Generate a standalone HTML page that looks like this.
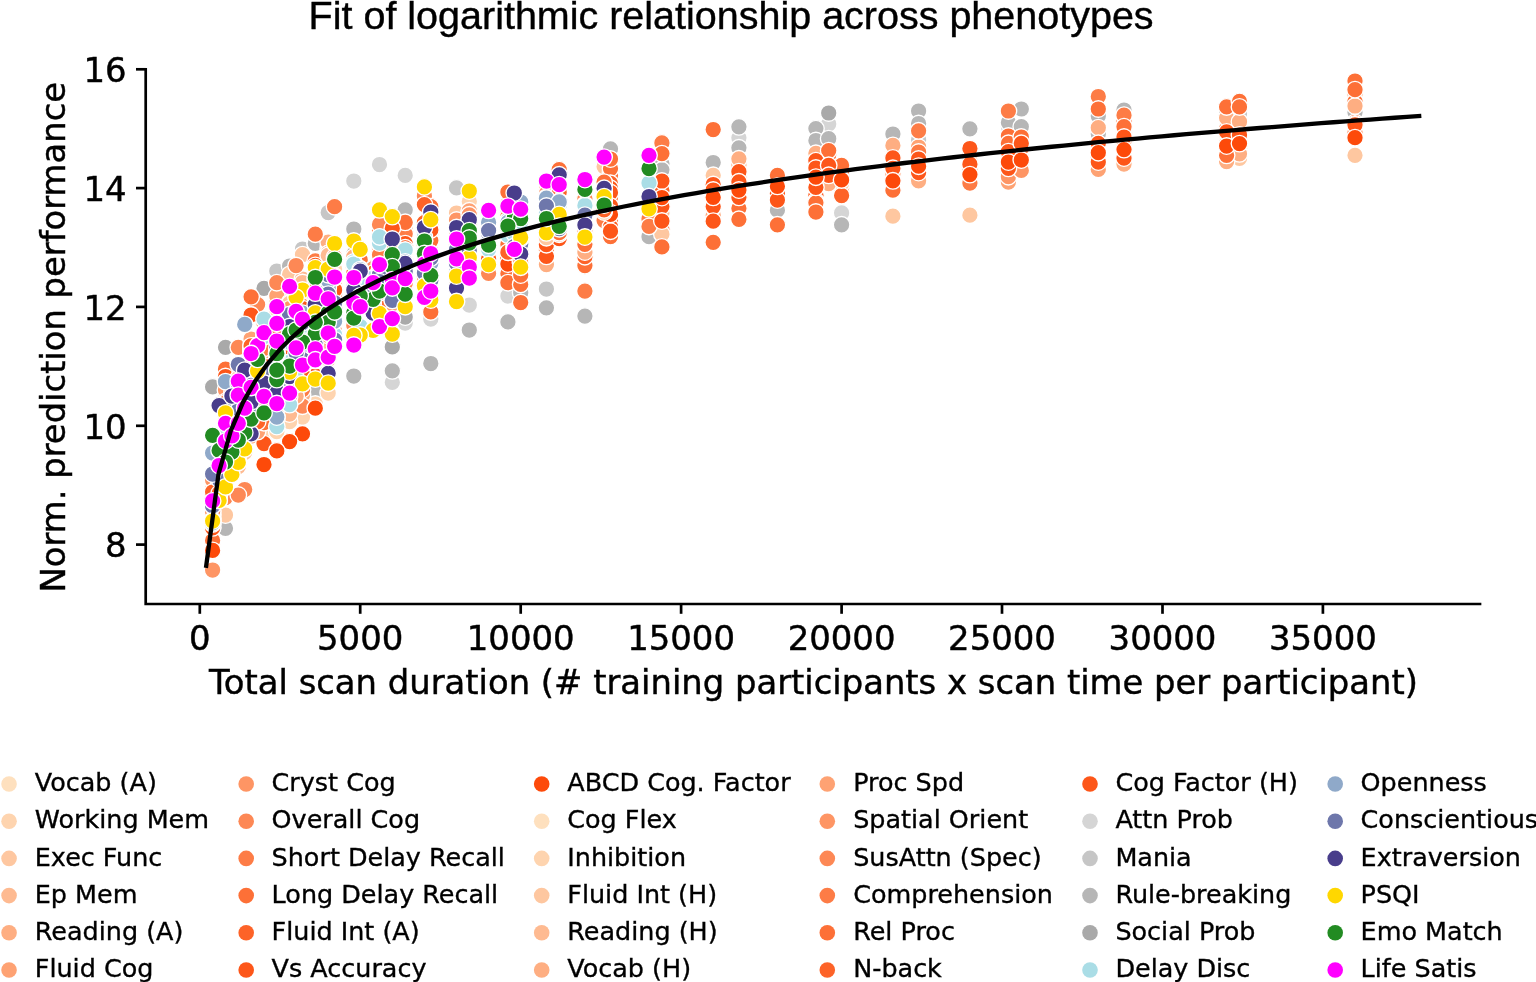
<!DOCTYPE html>
<html lang="en"><head><meta charset="utf-8"><title>Fit of logarithmic relationship across phenotypes</title>
<style>html,body{margin:0;padding:0;background:#fff;overflow:hidden}svg{display:block}</style></head>
<body>
<svg width="1536" height="982" viewBox="0 0 1536 982">
<rect width="1536" height="982" fill="#fff"/>
<g stroke="#fff" stroke-width="1.35">
<circle cx="212.6" cy="526.5" r="8.3" fill="#d5d5d5"/>
<circle cx="225.5" cy="456.8" r="8.3" fill="#d5d5d5"/>
<circle cx="238.3" cy="430.2" r="8.3" fill="#d5d5d5"/>
<circle cx="251.1" cy="359.2" r="8.3" fill="#d5d5d5"/>
<circle cx="264.0" cy="353.4" r="8.3" fill="#d5d5d5"/>
<circle cx="276.8" cy="390.7" r="8.3" fill="#d5d5d5"/>
<circle cx="289.6" cy="391.8" r="8.3" fill="#d5d5d5"/>
<circle cx="302.5" cy="393.1" r="8.3" fill="#d5d5d5"/>
<circle cx="315.3" cy="355.2" r="8.3" fill="#d5d5d5"/>
<circle cx="328.2" cy="284.2" r="8.3" fill="#d5d5d5"/>
<circle cx="225.5" cy="453.5" r="8.3" fill="#d5d5d5"/>
<circle cx="251.1" cy="347.1" r="8.3" fill="#d5d5d5"/>
<circle cx="276.8" cy="378.1" r="8.3" fill="#d5d5d5"/>
<circle cx="302.5" cy="345.2" r="8.3" fill="#d5d5d5"/>
<circle cx="328.2" cy="248.4" r="8.3" fill="#d5d5d5"/>
<circle cx="353.8" cy="286.0" r="8.3" fill="#d5d5d5"/>
<circle cx="379.5" cy="273.4" r="8.3" fill="#d5d5d5"/>
<circle cx="405.2" cy="269.5" r="8.3" fill="#d5d5d5"/>
<circle cx="430.8" cy="275.0" r="8.3" fill="#d5d5d5"/>
<circle cx="456.5" cy="279.2" r="8.3" fill="#d5d5d5"/>
<circle cx="238.3" cy="405.1" r="8.3" fill="#d5d5d5"/>
<circle cx="276.8" cy="328.7" r="8.3" fill="#d5d5d5"/>
<circle cx="315.3" cy="355.5" r="8.3" fill="#d5d5d5"/>
<circle cx="353.8" cy="317.6" r="8.3" fill="#d5d5d5"/>
<circle cx="392.3" cy="284.4" r="8.3" fill="#d5d5d5"/>
<circle cx="430.8" cy="271.7" r="8.3" fill="#d5d5d5"/>
<circle cx="469.3" cy="233.1" r="8.3" fill="#d5d5d5"/>
<circle cx="507.9" cy="251.3" r="8.3" fill="#d5d5d5"/>
<circle cx="546.4" cy="199.6" r="8.3" fill="#d5d5d5"/>
<circle cx="584.9" cy="200.9" r="8.3" fill="#d5d5d5"/>
<circle cx="251.1" cy="363.6" r="8.3" fill="#d5d5d5"/>
<circle cx="302.5" cy="332.7" r="8.3" fill="#d5d5d5"/>
<circle cx="353.8" cy="258.4" r="8.3" fill="#d5d5d5"/>
<circle cx="405.2" cy="260.6" r="8.3" fill="#d5d5d5"/>
<circle cx="456.5" cy="250.8" r="8.3" fill="#d5d5d5"/>
<circle cx="507.9" cy="236.3" r="8.3" fill="#d5d5d5"/>
<circle cx="559.2" cy="219.9" r="8.3" fill="#d5d5d5"/>
<circle cx="610.5" cy="222.7" r="8.3" fill="#d5d5d5"/>
<circle cx="264.0" cy="344.3" r="8.3" fill="#d5d5d5"/>
<circle cx="328.2" cy="329.0" r="8.3" fill="#d5d5d5"/>
<circle cx="392.3" cy="274.7" r="8.3" fill="#d5d5d5"/>
<circle cx="456.5" cy="230.6" r="8.3" fill="#d5d5d5"/>
<circle cx="520.7" cy="227.7" r="8.3" fill="#d5d5d5"/>
<circle cx="584.9" cy="223.6" r="8.3" fill="#d5d5d5"/>
<circle cx="276.8" cy="353.4" r="8.3" fill="#d5d5d5"/>
<circle cx="353.8" cy="292.8" r="8.3" fill="#d5d5d5"/>
<circle cx="430.8" cy="233.6" r="8.3" fill="#d5d5d5"/>
<circle cx="507.9" cy="233.0" r="8.3" fill="#d5d5d5"/>
<circle cx="584.9" cy="242.0" r="8.3" fill="#d5d5d5"/>
<circle cx="289.6" cy="384.8" r="8.3" fill="#d5d5d5"/>
<circle cx="379.5" cy="238.8" r="8.3" fill="#d5d5d5"/>
<circle cx="469.3" cy="229.8" r="8.3" fill="#d5d5d5"/>
<circle cx="559.2" cy="213.7" r="8.3" fill="#d5d5d5"/>
<circle cx="302.5" cy="341.5" r="8.3" fill="#d5d5d5"/>
<circle cx="405.2" cy="290.9" r="8.3" fill="#d5d5d5"/>
<circle cx="507.9" cy="234.2" r="8.3" fill="#d5d5d5"/>
<circle cx="610.5" cy="199.5" r="8.3" fill="#d5d5d5"/>
<circle cx="315.3" cy="290.2" r="8.3" fill="#d5d5d5"/>
<circle cx="430.8" cy="244.2" r="8.3" fill="#d5d5d5"/>
<circle cx="546.4" cy="226.1" r="8.3" fill="#d5d5d5"/>
<circle cx="405.2" cy="323.0" r="8.3" fill="#d5d5d5"/>
<circle cx="469.3" cy="305.0" r="8.3" fill="#d5d5d5"/>
<circle cx="507.9" cy="296.0" r="8.3" fill="#d5d5d5"/>
<circle cx="430.8" cy="319.0" r="8.3" fill="#d5d5d5"/>
<circle cx="379.5" cy="164.5" r="8.3" fill="#d5d5d5"/>
<circle cx="405.2" cy="175.4" r="8.3" fill="#d5d5d5"/>
<circle cx="353.8" cy="181.0" r="8.3" fill="#d5d5d5"/>
<circle cx="392.3" cy="382.3" r="8.3" fill="#d5d5d5"/>
<circle cx="738.9" cy="137.8" r="8.3" fill="#d5d5d5"/>
<circle cx="828.7" cy="124.0" r="8.3" fill="#d5d5d5"/>
<circle cx="841.6" cy="212.9" r="8.3" fill="#d5d5d5"/>
<circle cx="1008.4" cy="126.7" r="8.3" fill="#d5d5d5"/>
<circle cx="212.6" cy="525.2" r="8.3" fill="#c6c6c6"/>
<circle cx="225.5" cy="468.9" r="8.3" fill="#c6c6c6"/>
<circle cx="238.3" cy="388.9" r="8.3" fill="#c6c6c6"/>
<circle cx="251.1" cy="388.0" r="8.3" fill="#c6c6c6"/>
<circle cx="264.0" cy="376.4" r="8.3" fill="#c6c6c6"/>
<circle cx="276.8" cy="420.1" r="8.3" fill="#c6c6c6"/>
<circle cx="289.6" cy="373.5" r="8.3" fill="#c6c6c6"/>
<circle cx="302.5" cy="295.2" r="8.3" fill="#c6c6c6"/>
<circle cx="315.3" cy="325.8" r="8.3" fill="#c6c6c6"/>
<circle cx="328.2" cy="357.4" r="8.3" fill="#c6c6c6"/>
<circle cx="225.5" cy="445.6" r="8.3" fill="#c6c6c6"/>
<circle cx="251.1" cy="366.3" r="8.3" fill="#c6c6c6"/>
<circle cx="276.8" cy="411.5" r="8.3" fill="#c6c6c6"/>
<circle cx="302.5" cy="330.5" r="8.3" fill="#c6c6c6"/>
<circle cx="328.2" cy="270.7" r="8.3" fill="#c6c6c6"/>
<circle cx="353.8" cy="294.1" r="8.3" fill="#c6c6c6"/>
<circle cx="379.5" cy="273.2" r="8.3" fill="#c6c6c6"/>
<circle cx="405.2" cy="276.4" r="8.3" fill="#c6c6c6"/>
<circle cx="430.8" cy="289.8" r="8.3" fill="#c6c6c6"/>
<circle cx="456.5" cy="239.0" r="8.3" fill="#c6c6c6"/>
<circle cx="238.3" cy="431.5" r="8.3" fill="#c6c6c6"/>
<circle cx="276.8" cy="325.5" r="8.3" fill="#c6c6c6"/>
<circle cx="315.3" cy="338.5" r="8.3" fill="#c6c6c6"/>
<circle cx="353.8" cy="280.1" r="8.3" fill="#c6c6c6"/>
<circle cx="392.3" cy="275.0" r="8.3" fill="#c6c6c6"/>
<circle cx="430.8" cy="238.8" r="8.3" fill="#c6c6c6"/>
<circle cx="469.3" cy="250.0" r="8.3" fill="#c6c6c6"/>
<circle cx="507.9" cy="226.9" r="8.3" fill="#c6c6c6"/>
<circle cx="546.4" cy="239.8" r="8.3" fill="#c6c6c6"/>
<circle cx="584.9" cy="188.8" r="8.3" fill="#c6c6c6"/>
<circle cx="251.1" cy="380.1" r="8.3" fill="#c6c6c6"/>
<circle cx="302.5" cy="368.6" r="8.3" fill="#c6c6c6"/>
<circle cx="353.8" cy="288.0" r="8.3" fill="#c6c6c6"/>
<circle cx="405.2" cy="247.5" r="8.3" fill="#c6c6c6"/>
<circle cx="456.5" cy="246.7" r="8.3" fill="#c6c6c6"/>
<circle cx="507.9" cy="243.0" r="8.3" fill="#c6c6c6"/>
<circle cx="559.2" cy="198.0" r="8.3" fill="#c6c6c6"/>
<circle cx="610.5" cy="189.0" r="8.3" fill="#c6c6c6"/>
<circle cx="264.0" cy="373.1" r="8.3" fill="#c6c6c6"/>
<circle cx="328.2" cy="302.7" r="8.3" fill="#c6c6c6"/>
<circle cx="392.3" cy="249.8" r="8.3" fill="#c6c6c6"/>
<circle cx="456.5" cy="255.4" r="8.3" fill="#c6c6c6"/>
<circle cx="520.7" cy="239.3" r="8.3" fill="#c6c6c6"/>
<circle cx="584.9" cy="224.5" r="8.3" fill="#c6c6c6"/>
<circle cx="276.8" cy="356.2" r="8.3" fill="#c6c6c6"/>
<circle cx="353.8" cy="266.5" r="8.3" fill="#c6c6c6"/>
<circle cx="430.8" cy="267.5" r="8.3" fill="#c6c6c6"/>
<circle cx="507.9" cy="240.8" r="8.3" fill="#c6c6c6"/>
<circle cx="584.9" cy="201.9" r="8.3" fill="#c6c6c6"/>
<circle cx="289.6" cy="403.7" r="8.3" fill="#c6c6c6"/>
<circle cx="379.5" cy="291.5" r="8.3" fill="#c6c6c6"/>
<circle cx="469.3" cy="247.5" r="8.3" fill="#c6c6c6"/>
<circle cx="559.2" cy="229.5" r="8.3" fill="#c6c6c6"/>
<circle cx="302.5" cy="288.2" r="8.3" fill="#c6c6c6"/>
<circle cx="405.2" cy="284.3" r="8.3" fill="#c6c6c6"/>
<circle cx="507.9" cy="245.1" r="8.3" fill="#c6c6c6"/>
<circle cx="610.5" cy="213.7" r="8.3" fill="#c6c6c6"/>
<circle cx="315.3" cy="304.2" r="8.3" fill="#c6c6c6"/>
<circle cx="430.8" cy="246.4" r="8.3" fill="#c6c6c6"/>
<circle cx="546.4" cy="232.4" r="8.3" fill="#c6c6c6"/>
<circle cx="276.8" cy="271.0" r="8.3" fill="#c6c6c6"/>
<circle cx="456.5" cy="187.9" r="8.3" fill="#c6c6c6"/>
<circle cx="546.4" cy="289.0" r="8.3" fill="#c6c6c6"/>
<circle cx="328.2" cy="212.5" r="8.3" fill="#c6c6c6"/>
<circle cx="302.5" cy="249.0" r="8.3" fill="#c6c6c6"/>
<circle cx="918.6" cy="140.0" r="8.3" fill="#c6c6c6"/>
<circle cx="1239.5" cy="114.0" r="8.3" fill="#c6c6c6"/>
<circle cx="212.6" cy="516.2" r="8.3" fill="#b6b6b6"/>
<circle cx="225.5" cy="428.1" r="8.3" fill="#b6b6b6"/>
<circle cx="238.3" cy="426.6" r="8.3" fill="#b6b6b6"/>
<circle cx="251.1" cy="433.5" r="8.3" fill="#b6b6b6"/>
<circle cx="264.0" cy="342.7" r="8.3" fill="#b6b6b6"/>
<circle cx="276.8" cy="333.4" r="8.3" fill="#b6b6b6"/>
<circle cx="289.6" cy="355.0" r="8.3" fill="#b6b6b6"/>
<circle cx="302.5" cy="338.7" r="8.3" fill="#b6b6b6"/>
<circle cx="315.3" cy="332.5" r="8.3" fill="#b6b6b6"/>
<circle cx="328.2" cy="357.2" r="8.3" fill="#b6b6b6"/>
<circle cx="225.5" cy="395.5" r="8.3" fill="#b6b6b6"/>
<circle cx="251.1" cy="421.5" r="8.3" fill="#b6b6b6"/>
<circle cx="276.8" cy="335.1" r="8.3" fill="#b6b6b6"/>
<circle cx="302.5" cy="368.9" r="8.3" fill="#b6b6b6"/>
<circle cx="328.2" cy="266.9" r="8.3" fill="#b6b6b6"/>
<circle cx="353.8" cy="322.6" r="8.3" fill="#b6b6b6"/>
<circle cx="379.5" cy="251.2" r="8.3" fill="#b6b6b6"/>
<circle cx="405.2" cy="281.4" r="8.3" fill="#b6b6b6"/>
<circle cx="430.8" cy="273.6" r="8.3" fill="#b6b6b6"/>
<circle cx="456.5" cy="229.8" r="8.3" fill="#b6b6b6"/>
<circle cx="238.3" cy="381.0" r="8.3" fill="#b6b6b6"/>
<circle cx="276.8" cy="354.4" r="8.3" fill="#b6b6b6"/>
<circle cx="315.3" cy="313.0" r="8.3" fill="#b6b6b6"/>
<circle cx="353.8" cy="290.9" r="8.3" fill="#b6b6b6"/>
<circle cx="392.3" cy="300.2" r="8.3" fill="#b6b6b6"/>
<circle cx="430.8" cy="233.7" r="8.3" fill="#b6b6b6"/>
<circle cx="469.3" cy="237.1" r="8.3" fill="#b6b6b6"/>
<circle cx="507.9" cy="262.4" r="8.3" fill="#b6b6b6"/>
<circle cx="546.4" cy="229.9" r="8.3" fill="#b6b6b6"/>
<circle cx="584.9" cy="200.9" r="8.3" fill="#b6b6b6"/>
<circle cx="251.1" cy="412.2" r="8.3" fill="#b6b6b6"/>
<circle cx="302.5" cy="364.4" r="8.3" fill="#b6b6b6"/>
<circle cx="353.8" cy="275.9" r="8.3" fill="#b6b6b6"/>
<circle cx="405.2" cy="261.7" r="8.3" fill="#b6b6b6"/>
<circle cx="456.5" cy="248.7" r="8.3" fill="#b6b6b6"/>
<circle cx="507.9" cy="216.5" r="8.3" fill="#b6b6b6"/>
<circle cx="559.2" cy="199.4" r="8.3" fill="#b6b6b6"/>
<circle cx="610.5" cy="188.0" r="8.3" fill="#b6b6b6"/>
<circle cx="264.0" cy="380.6" r="8.3" fill="#b6b6b6"/>
<circle cx="328.2" cy="345.6" r="8.3" fill="#b6b6b6"/>
<circle cx="392.3" cy="234.0" r="8.3" fill="#b6b6b6"/>
<circle cx="456.5" cy="285.6" r="8.3" fill="#b6b6b6"/>
<circle cx="520.7" cy="246.5" r="8.3" fill="#b6b6b6"/>
<circle cx="584.9" cy="266.6" r="8.3" fill="#b6b6b6"/>
<circle cx="276.8" cy="361.6" r="8.3" fill="#b6b6b6"/>
<circle cx="353.8" cy="313.2" r="8.3" fill="#b6b6b6"/>
<circle cx="430.8" cy="255.5" r="8.3" fill="#b6b6b6"/>
<circle cx="507.9" cy="242.7" r="8.3" fill="#b6b6b6"/>
<circle cx="584.9" cy="241.7" r="8.3" fill="#b6b6b6"/>
<circle cx="289.6" cy="297.3" r="8.3" fill="#b6b6b6"/>
<circle cx="379.5" cy="237.7" r="8.3" fill="#b6b6b6"/>
<circle cx="469.3" cy="259.1" r="8.3" fill="#b6b6b6"/>
<circle cx="559.2" cy="208.5" r="8.3" fill="#b6b6b6"/>
<circle cx="302.5" cy="320.1" r="8.3" fill="#b6b6b6"/>
<circle cx="405.2" cy="279.0" r="8.3" fill="#b6b6b6"/>
<circle cx="507.9" cy="235.9" r="8.3" fill="#b6b6b6"/>
<circle cx="610.5" cy="186.3" r="8.3" fill="#b6b6b6"/>
<circle cx="315.3" cy="313.8" r="8.3" fill="#b6b6b6"/>
<circle cx="430.8" cy="250.8" r="8.3" fill="#b6b6b6"/>
<circle cx="546.4" cy="228.3" r="8.3" fill="#b6b6b6"/>
<circle cx="353.8" cy="376.0" r="8.3" fill="#b6b6b6"/>
<circle cx="315.3" cy="392.0" r="8.3" fill="#b6b6b6"/>
<circle cx="315.3" cy="244.2" r="8.3" fill="#b6b6b6"/>
<circle cx="289.6" cy="266.0" r="8.3" fill="#b6b6b6"/>
<circle cx="469.3" cy="330.0" r="8.3" fill="#b6b6b6"/>
<circle cx="507.9" cy="321.9" r="8.3" fill="#b6b6b6"/>
<circle cx="405.2" cy="209.8" r="8.3" fill="#b6b6b6"/>
<circle cx="353.8" cy="229.0" r="8.3" fill="#b6b6b6"/>
<circle cx="610.5" cy="148.8" r="8.3" fill="#b6b6b6"/>
<circle cx="661.9" cy="163.8" r="8.3" fill="#b6b6b6"/>
<circle cx="661.9" cy="169.8" r="8.3" fill="#b6b6b6"/>
<circle cx="546.4" cy="307.8" r="8.3" fill="#b6b6b6"/>
<circle cx="584.9" cy="316.1" r="8.3" fill="#b6b6b6"/>
<circle cx="649.0" cy="236.7" r="8.3" fill="#b6b6b6"/>
<circle cx="520.7" cy="292.7" r="8.3" fill="#b6b6b6"/>
<circle cx="315.3" cy="243.3" r="8.3" fill="#b6b6b6"/>
<circle cx="225.5" cy="528.3" r="8.3" fill="#b6b6b6"/>
<circle cx="392.3" cy="370.8" r="8.3" fill="#b6b6b6"/>
<circle cx="430.8" cy="363.5" r="8.3" fill="#b6b6b6"/>
<circle cx="713.2" cy="162.5" r="8.3" fill="#b6b6b6"/>
<circle cx="738.9" cy="126.8" r="8.3" fill="#b6b6b6"/>
<circle cx="738.9" cy="147.8" r="8.3" fill="#b6b6b6"/>
<circle cx="777.4" cy="210.2" r="8.3" fill="#b6b6b6"/>
<circle cx="815.9" cy="128.6" r="8.3" fill="#b6b6b6"/>
<circle cx="815.9" cy="140.5" r="8.3" fill="#b6b6b6"/>
<circle cx="828.7" cy="138.7" r="8.3" fill="#b6b6b6"/>
<circle cx="841.6" cy="224.8" r="8.3" fill="#b6b6b6"/>
<circle cx="892.9" cy="134.0" r="8.3" fill="#b6b6b6"/>
<circle cx="918.6" cy="111.0" r="8.3" fill="#b6b6b6"/>
<circle cx="918.6" cy="123.5" r="8.3" fill="#b6b6b6"/>
<circle cx="969.9" cy="128.8" r="8.3" fill="#b6b6b6"/>
<circle cx="1008.4" cy="122.5" r="8.3" fill="#b6b6b6"/>
<circle cx="1021.3" cy="109.0" r="8.3" fill="#b6b6b6"/>
<circle cx="1021.3" cy="126.7" r="8.3" fill="#b6b6b6"/>
<circle cx="1098.3" cy="116.0" r="8.3" fill="#b6b6b6"/>
<circle cx="1098.3" cy="134.0" r="8.3" fill="#b6b6b6"/>
<circle cx="1124.0" cy="110.0" r="8.3" fill="#b6b6b6"/>
<circle cx="1355.0" cy="112.3" r="8.3" fill="#b6b6b6"/>
<circle cx="1226.6" cy="112.0" r="8.3" fill="#b6b6b6"/>
<circle cx="212.6" cy="513.4" r="8.3" fill="#a9a9a9"/>
<circle cx="225.5" cy="466.0" r="8.3" fill="#a9a9a9"/>
<circle cx="238.3" cy="440.9" r="8.3" fill="#a9a9a9"/>
<circle cx="251.1" cy="377.4" r="8.3" fill="#a9a9a9"/>
<circle cx="264.0" cy="388.5" r="8.3" fill="#a9a9a9"/>
<circle cx="276.8" cy="390.9" r="8.3" fill="#a9a9a9"/>
<circle cx="289.6" cy="353.2" r="8.3" fill="#a9a9a9"/>
<circle cx="302.5" cy="324.8" r="8.3" fill="#a9a9a9"/>
<circle cx="315.3" cy="349.4" r="8.3" fill="#a9a9a9"/>
<circle cx="328.2" cy="321.9" r="8.3" fill="#a9a9a9"/>
<circle cx="225.5" cy="455.6" r="8.3" fill="#a9a9a9"/>
<circle cx="251.1" cy="374.2" r="8.3" fill="#a9a9a9"/>
<circle cx="276.8" cy="364.6" r="8.3" fill="#a9a9a9"/>
<circle cx="302.5" cy="328.2" r="8.3" fill="#a9a9a9"/>
<circle cx="328.2" cy="324.3" r="8.3" fill="#a9a9a9"/>
<circle cx="353.8" cy="254.1" r="8.3" fill="#a9a9a9"/>
<circle cx="379.5" cy="234.3" r="8.3" fill="#a9a9a9"/>
<circle cx="405.2" cy="242.0" r="8.3" fill="#a9a9a9"/>
<circle cx="430.8" cy="235.5" r="8.3" fill="#a9a9a9"/>
<circle cx="456.5" cy="242.8" r="8.3" fill="#a9a9a9"/>
<circle cx="238.3" cy="408.0" r="8.3" fill="#a9a9a9"/>
<circle cx="276.8" cy="386.6" r="8.3" fill="#a9a9a9"/>
<circle cx="315.3" cy="280.4" r="8.3" fill="#a9a9a9"/>
<circle cx="353.8" cy="275.6" r="8.3" fill="#a9a9a9"/>
<circle cx="392.3" cy="293.3" r="8.3" fill="#a9a9a9"/>
<circle cx="430.8" cy="265.9" r="8.3" fill="#a9a9a9"/>
<circle cx="469.3" cy="245.4" r="8.3" fill="#a9a9a9"/>
<circle cx="507.9" cy="258.8" r="8.3" fill="#a9a9a9"/>
<circle cx="546.4" cy="239.8" r="8.3" fill="#a9a9a9"/>
<circle cx="584.9" cy="214.8" r="8.3" fill="#a9a9a9"/>
<circle cx="251.1" cy="369.2" r="8.3" fill="#a9a9a9"/>
<circle cx="302.5" cy="360.8" r="8.3" fill="#a9a9a9"/>
<circle cx="353.8" cy="286.3" r="8.3" fill="#a9a9a9"/>
<circle cx="405.2" cy="265.7" r="8.3" fill="#a9a9a9"/>
<circle cx="456.5" cy="241.0" r="8.3" fill="#a9a9a9"/>
<circle cx="507.9" cy="246.8" r="8.3" fill="#a9a9a9"/>
<circle cx="559.2" cy="208.1" r="8.3" fill="#a9a9a9"/>
<circle cx="610.5" cy="184.2" r="8.3" fill="#a9a9a9"/>
<circle cx="264.0" cy="370.8" r="8.3" fill="#a9a9a9"/>
<circle cx="328.2" cy="308.1" r="8.3" fill="#a9a9a9"/>
<circle cx="392.3" cy="292.1" r="8.3" fill="#a9a9a9"/>
<circle cx="456.5" cy="262.4" r="8.3" fill="#a9a9a9"/>
<circle cx="520.7" cy="272.7" r="8.3" fill="#a9a9a9"/>
<circle cx="584.9" cy="232.6" r="8.3" fill="#a9a9a9"/>
<circle cx="276.8" cy="388.9" r="8.3" fill="#a9a9a9"/>
<circle cx="353.8" cy="272.1" r="8.3" fill="#a9a9a9"/>
<circle cx="430.8" cy="262.6" r="8.3" fill="#a9a9a9"/>
<circle cx="507.9" cy="230.2" r="8.3" fill="#a9a9a9"/>
<circle cx="584.9" cy="222.8" r="8.3" fill="#a9a9a9"/>
<circle cx="289.6" cy="407.1" r="8.3" fill="#a9a9a9"/>
<circle cx="379.5" cy="280.6" r="8.3" fill="#a9a9a9"/>
<circle cx="469.3" cy="253.3" r="8.3" fill="#a9a9a9"/>
<circle cx="559.2" cy="204.3" r="8.3" fill="#a9a9a9"/>
<circle cx="302.5" cy="378.6" r="8.3" fill="#a9a9a9"/>
<circle cx="405.2" cy="257.7" r="8.3" fill="#a9a9a9"/>
<circle cx="507.9" cy="220.8" r="8.3" fill="#a9a9a9"/>
<circle cx="610.5" cy="211.2" r="8.3" fill="#a9a9a9"/>
<circle cx="315.3" cy="288.6" r="8.3" fill="#a9a9a9"/>
<circle cx="430.8" cy="266.7" r="8.3" fill="#a9a9a9"/>
<circle cx="546.4" cy="227.5" r="8.3" fill="#a9a9a9"/>
<circle cx="225.5" cy="347.3" r="8.3" fill="#a9a9a9"/>
<circle cx="212.6" cy="386.9" r="8.3" fill="#a9a9a9"/>
<circle cx="264.0" cy="288.4" r="8.3" fill="#a9a9a9"/>
<circle cx="405.2" cy="317.0" r="8.3" fill="#a9a9a9"/>
<circle cx="392.3" cy="346.9" r="8.3" fill="#a9a9a9"/>
<circle cx="828.7" cy="113.0" r="8.3" fill="#a9a9a9"/>
<circle cx="661.9" cy="229.9" r="8.3" fill="#fe9564"/>
<circle cx="661.9" cy="210.2" r="8.3" fill="#fd5619"/>
<circle cx="661.9" cy="218.4" r="8.3" fill="#fd7037"/>
<circle cx="661.9" cy="211.3" r="8.3" fill="#fec7a0"/>
<circle cx="661.9" cy="213.1" r="8.3" fill="#feba91"/>
<circle cx="661.9" cy="204.4" r="8.3" fill="#fd6328"/>
<circle cx="661.9" cy="203.8" r="8.3" fill="#fec7a0"/>
<circle cx="661.9" cy="190.4" r="8.3" fill="#fd6328"/>
<circle cx="661.9" cy="229.2" r="8.3" fill="#fd7c46"/>
<circle cx="713.2" cy="213.0" r="8.3" fill="#fd7037"/>
<circle cx="713.2" cy="213.3" r="8.3" fill="#feae82"/>
<circle cx="713.2" cy="215.2" r="8.3" fill="#fea273"/>
<circle cx="713.2" cy="207.1" r="8.3" fill="#fd6328"/>
<circle cx="713.2" cy="183.5" r="8.3" fill="#fd7c46"/>
<circle cx="713.2" cy="198.2" r="8.3" fill="#fea273"/>
<circle cx="713.2" cy="184.2" r="8.3" fill="#fd8855"/>
<circle cx="713.2" cy="191.7" r="8.3" fill="#fec7a0"/>
<circle cx="713.2" cy="187.1" r="8.3" fill="#fe9564"/>
<circle cx="738.9" cy="175.3" r="8.3" fill="#fd5619"/>
<circle cx="738.9" cy="169.1" r="8.3" fill="#fea273"/>
<circle cx="738.9" cy="178.7" r="8.3" fill="#fd7c46"/>
<circle cx="738.9" cy="175.7" r="8.3" fill="#fea273"/>
<circle cx="738.9" cy="173.9" r="8.3" fill="#fea273"/>
<circle cx="738.9" cy="198.1" r="8.3" fill="#fe9564"/>
<circle cx="738.9" cy="165.0" r="8.3" fill="#feae82"/>
<circle cx="738.9" cy="177.3" r="8.3" fill="#fea273"/>
<circle cx="738.9" cy="193.8" r="8.3" fill="#fd7037"/>
<circle cx="777.4" cy="183.6" r="8.3" fill="#fec7a0"/>
<circle cx="777.4" cy="185.3" r="8.3" fill="#fd8855"/>
<circle cx="777.4" cy="182.0" r="8.3" fill="#fec7a0"/>
<circle cx="777.4" cy="180.2" r="8.3" fill="#fec7a0"/>
<circle cx="777.4" cy="188.8" r="8.3" fill="#fea273"/>
<circle cx="815.9" cy="158.5" r="8.3" fill="#fd5619"/>
<circle cx="815.9" cy="160.7" r="8.3" fill="#fec7a0"/>
<circle cx="815.9" cy="156.7" r="8.3" fill="#fd6328"/>
<circle cx="815.9" cy="177.5" r="8.3" fill="#fe9564"/>
<circle cx="815.9" cy="172.4" r="8.3" fill="#fec7a0"/>
<circle cx="815.9" cy="195.6" r="8.3" fill="#fd5619"/>
<circle cx="815.9" cy="166.4" r="8.3" fill="#fd8855"/>
<circle cx="815.9" cy="203.0" r="8.3" fill="#fec7a0"/>
<circle cx="815.9" cy="201.2" r="8.3" fill="#feba91"/>
<circle cx="828.7" cy="176.3" r="8.3" fill="#fec7a0"/>
<circle cx="828.7" cy="170.0" r="8.3" fill="#feba91"/>
<circle cx="828.7" cy="173.2" r="8.3" fill="#fd7037"/>
<circle cx="828.7" cy="162.2" r="8.3" fill="#fec7a0"/>
<circle cx="828.7" cy="154.7" r="8.3" fill="#fd6328"/>
<circle cx="828.7" cy="178.9" r="8.3" fill="#fd6328"/>
<circle cx="828.7" cy="171.6" r="8.3" fill="#fec7a0"/>
<circle cx="828.7" cy="166.3" r="8.3" fill="#feba91"/>
<circle cx="828.7" cy="178.7" r="8.3" fill="#fd7c46"/>
<circle cx="841.6" cy="185.9" r="8.3" fill="#fea273"/>
<circle cx="841.6" cy="184.9" r="8.3" fill="#fe9564"/>
<circle cx="841.6" cy="177.2" r="8.3" fill="#fd8855"/>
<circle cx="841.6" cy="171.6" r="8.3" fill="#feba91"/>
<circle cx="841.6" cy="174.8" r="8.3" fill="#fd5619"/>
<circle cx="841.6" cy="178.8" r="8.3" fill="#fd5619"/>
<circle cx="841.6" cy="185.0" r="8.3" fill="#feae82"/>
<circle cx="841.6" cy="188.3" r="8.3" fill="#fea273"/>
<circle cx="841.6" cy="183.6" r="8.3" fill="#fec7a0"/>
<circle cx="892.9" cy="150.5" r="8.3" fill="#feae82"/>
<circle cx="892.9" cy="178.5" r="8.3" fill="#fd7037"/>
<circle cx="892.9" cy="178.0" r="8.3" fill="#feba91"/>
<circle cx="892.9" cy="153.9" r="8.3" fill="#fea273"/>
<circle cx="892.9" cy="175.5" r="8.3" fill="#fd6328"/>
<circle cx="892.9" cy="155.4" r="8.3" fill="#fe9564"/>
<circle cx="892.9" cy="173.8" r="8.3" fill="#fe9564"/>
<circle cx="892.9" cy="155.4" r="8.3" fill="#feae82"/>
<circle cx="892.9" cy="155.4" r="8.3" fill="#feba91"/>
<circle cx="918.6" cy="175.8" r="8.3" fill="#fd7c46"/>
<circle cx="918.6" cy="157.9" r="8.3" fill="#feae82"/>
<circle cx="918.6" cy="172.9" r="8.3" fill="#fd7037"/>
<circle cx="918.6" cy="170.8" r="8.3" fill="#feba91"/>
<circle cx="918.6" cy="156.2" r="8.3" fill="#fd5619"/>
<circle cx="969.9" cy="178.2" r="8.3" fill="#fe9564"/>
<circle cx="969.9" cy="161.8" r="8.3" fill="#feae82"/>
<circle cx="969.9" cy="163.0" r="8.3" fill="#fd7037"/>
<circle cx="969.9" cy="163.8" r="8.3" fill="#feba91"/>
<circle cx="969.9" cy="162.8" r="8.3" fill="#fd7037"/>
<circle cx="969.9" cy="152.2" r="8.3" fill="#feba91"/>
<circle cx="969.9" cy="176.2" r="8.3" fill="#feae82"/>
<circle cx="969.9" cy="160.8" r="8.3" fill="#fec7a0"/>
<circle cx="969.9" cy="168.8" r="8.3" fill="#fd7c46"/>
<circle cx="1008.4" cy="170.9" r="8.3" fill="#fec7a0"/>
<circle cx="1008.4" cy="165.8" r="8.3" fill="#fea273"/>
<circle cx="1008.4" cy="153.7" r="8.3" fill="#fea273"/>
<circle cx="1008.4" cy="142.0" r="8.3" fill="#feae82"/>
<circle cx="1008.4" cy="171.6" r="8.3" fill="#fd7037"/>
<circle cx="1008.4" cy="154.2" r="8.3" fill="#fec7a0"/>
<circle cx="1008.4" cy="164.6" r="8.3" fill="#fe9564"/>
<circle cx="1008.4" cy="159.0" r="8.3" fill="#feae82"/>
<circle cx="1008.4" cy="172.2" r="8.3" fill="#fd7037"/>
<circle cx="1021.3" cy="149.5" r="8.3" fill="#fd7037"/>
<circle cx="1021.3" cy="164.8" r="8.3" fill="#feae82"/>
<circle cx="1021.3" cy="162.4" r="8.3" fill="#fd6328"/>
<circle cx="1021.3" cy="146.0" r="8.3" fill="#fec7a0"/>
<circle cx="1021.3" cy="167.3" r="8.3" fill="#fea273"/>
<circle cx="1021.3" cy="156.2" r="8.3" fill="#fd8855"/>
<circle cx="1021.3" cy="152.2" r="8.3" fill="#feae82"/>
<circle cx="1021.3" cy="150.0" r="8.3" fill="#feba91"/>
<circle cx="1021.3" cy="148.6" r="8.3" fill="#fd8855"/>
<circle cx="1098.3" cy="163.5" r="8.3" fill="#fe9564"/>
<circle cx="1098.3" cy="157.6" r="8.3" fill="#fe9564"/>
<circle cx="1124.0" cy="139.6" r="8.3" fill="#feba91"/>
<circle cx="1124.0" cy="135.6" r="8.3" fill="#fd6328"/>
<circle cx="1124.0" cy="143.2" r="8.3" fill="#fd8855"/>
<circle cx="1124.0" cy="133.9" r="8.3" fill="#fd6328"/>
<circle cx="1124.0" cy="138.2" r="8.3" fill="#fd5619"/>
<circle cx="1124.0" cy="140.8" r="8.3" fill="#fe9564"/>
<circle cx="1124.0" cy="130.0" r="8.3" fill="#feae82"/>
<circle cx="1124.0" cy="127.5" r="8.3" fill="#fd7037"/>
<circle cx="1124.0" cy="121.0" r="8.3" fill="#fd7037"/>
<circle cx="1226.6" cy="134.0" r="8.3" fill="#feba91"/>
<circle cx="1226.6" cy="147.5" r="8.3" fill="#fe9564"/>
<circle cx="1226.6" cy="147.2" r="8.3" fill="#fe9564"/>
<circle cx="1226.6" cy="129.0" r="8.3" fill="#fd5619"/>
<circle cx="1226.6" cy="143.4" r="8.3" fill="#fec7a0"/>
<circle cx="1226.6" cy="149.7" r="8.3" fill="#fea273"/>
<circle cx="1239.5" cy="148.6" r="8.3" fill="#fd5619"/>
<circle cx="1239.5" cy="139.2" r="8.3" fill="#fec7a0"/>
<circle cx="1239.5" cy="144.1" r="8.3" fill="#fd8855"/>
<circle cx="1239.5" cy="136.8" r="8.3" fill="#fea273"/>
<circle cx="1355.0" cy="133.4" r="8.3" fill="#fd8855"/>
<circle cx="1355.0" cy="132.4" r="8.3" fill="#fd7c46"/>
<circle cx="1355.0" cy="94.2" r="8.3" fill="#fea273"/>
<circle cx="1355.0" cy="101.6" r="8.3" fill="#fd7037"/>
<circle cx="1355.0" cy="122.4" r="8.3" fill="#fd7037"/>
<circle cx="1355.0" cy="123.9" r="8.3" fill="#fd7037"/>
<circle cx="1355.0" cy="133.0" r="8.3" fill="#fd7037"/>
<circle cx="212.6" cy="520.4" r="8.3" fill="#fee0be"/>
<circle cx="225.5" cy="480.1" r="8.3" fill="#fee0be"/>
<circle cx="238.3" cy="405.2" r="8.3" fill="#fee0be"/>
<circle cx="251.1" cy="392.2" r="8.3" fill="#fee0be"/>
<circle cx="264.0" cy="383.6" r="8.3" fill="#fee0be"/>
<circle cx="276.8" cy="335.1" r="8.3" fill="#fee0be"/>
<circle cx="289.6" cy="359.5" r="8.3" fill="#fee0be"/>
<circle cx="302.5" cy="362.7" r="8.3" fill="#fee0be"/>
<circle cx="315.3" cy="281.9" r="8.3" fill="#fee0be"/>
<circle cx="328.2" cy="324.4" r="8.3" fill="#fee0be"/>
<circle cx="225.5" cy="395.4" r="8.3" fill="#fee0be"/>
<circle cx="251.1" cy="343.0" r="8.3" fill="#fee0be"/>
<circle cx="276.8" cy="407.9" r="8.3" fill="#fee0be"/>
<circle cx="302.5" cy="369.0" r="8.3" fill="#fee0be"/>
<circle cx="328.2" cy="359.8" r="8.3" fill="#fee0be"/>
<circle cx="353.8" cy="260.7" r="8.3" fill="#fee0be"/>
<circle cx="379.5" cy="243.7" r="8.3" fill="#fee0be"/>
<circle cx="405.2" cy="284.4" r="8.3" fill="#fee0be"/>
<circle cx="430.8" cy="279.7" r="8.3" fill="#fee0be"/>
<circle cx="456.5" cy="260.8" r="8.3" fill="#fee0be"/>
<circle cx="238.3" cy="418.7" r="8.3" fill="#fee0be"/>
<circle cx="276.8" cy="410.9" r="8.3" fill="#fee0be"/>
<circle cx="315.3" cy="328.7" r="8.3" fill="#fee0be"/>
<circle cx="353.8" cy="318.2" r="8.3" fill="#fee0be"/>
<circle cx="392.3" cy="283.6" r="8.3" fill="#fee0be"/>
<circle cx="430.8" cy="249.5" r="8.3" fill="#fee0be"/>
<circle cx="469.3" cy="245.3" r="8.3" fill="#fee0be"/>
<circle cx="507.9" cy="220.6" r="8.3" fill="#fee0be"/>
<circle cx="546.4" cy="233.2" r="8.3" fill="#fee0be"/>
<circle cx="584.9" cy="227.4" r="8.3" fill="#fee0be"/>
<circle cx="251.1" cy="418.9" r="8.3" fill="#fee0be"/>
<circle cx="302.5" cy="364.7" r="8.3" fill="#fee0be"/>
<circle cx="353.8" cy="294.7" r="8.3" fill="#fee0be"/>
<circle cx="405.2" cy="277.9" r="8.3" fill="#fee0be"/>
<circle cx="456.5" cy="257.3" r="8.3" fill="#fee0be"/>
<circle cx="507.9" cy="257.2" r="8.3" fill="#fee0be"/>
<circle cx="559.2" cy="223.1" r="8.3" fill="#fee0be"/>
<circle cx="610.5" cy="177.7" r="8.3" fill="#fee0be"/>
<circle cx="264.0" cy="374.7" r="8.3" fill="#fee0be"/>
<circle cx="328.2" cy="332.8" r="8.3" fill="#fee0be"/>
<circle cx="392.3" cy="277.5" r="8.3" fill="#fee0be"/>
<circle cx="456.5" cy="249.0" r="8.3" fill="#fee0be"/>
<circle cx="520.7" cy="221.5" r="8.3" fill="#fee0be"/>
<circle cx="584.9" cy="219.6" r="8.3" fill="#fee0be"/>
<circle cx="276.8" cy="367.4" r="8.3" fill="#fee0be"/>
<circle cx="353.8" cy="285.7" r="8.3" fill="#fee0be"/>
<circle cx="430.8" cy="267.5" r="8.3" fill="#fee0be"/>
<circle cx="507.9" cy="217.3" r="8.3" fill="#fee0be"/>
<circle cx="584.9" cy="255.0" r="8.3" fill="#fee0be"/>
<circle cx="289.6" cy="312.6" r="8.3" fill="#fee0be"/>
<circle cx="379.5" cy="272.1" r="8.3" fill="#fee0be"/>
<circle cx="469.3" cy="240.9" r="8.3" fill="#fee0be"/>
<circle cx="559.2" cy="222.8" r="8.3" fill="#fee0be"/>
<circle cx="302.5" cy="355.1" r="8.3" fill="#fee0be"/>
<circle cx="405.2" cy="275.0" r="8.3" fill="#fee0be"/>
<circle cx="507.9" cy="224.6" r="8.3" fill="#fee0be"/>
<circle cx="610.5" cy="179.4" r="8.3" fill="#fee0be"/>
<circle cx="315.3" cy="344.2" r="8.3" fill="#fee0be"/>
<circle cx="430.8" cy="269.2" r="8.3" fill="#fee0be"/>
<circle cx="546.4" cy="196.9" r="8.3" fill="#fee0be"/>
<circle cx="212.6" cy="485.7" r="8.3" fill="#fed4af"/>
<circle cx="225.5" cy="472.5" r="8.3" fill="#fed4af"/>
<circle cx="238.3" cy="424.1" r="8.3" fill="#fed4af"/>
<circle cx="251.1" cy="367.7" r="8.3" fill="#fed4af"/>
<circle cx="264.0" cy="339.8" r="8.3" fill="#fed4af"/>
<circle cx="276.8" cy="301.0" r="8.3" fill="#fed4af"/>
<circle cx="289.6" cy="303.0" r="8.3" fill="#fed4af"/>
<circle cx="302.5" cy="325.9" r="8.3" fill="#fed4af"/>
<circle cx="315.3" cy="271.3" r="8.3" fill="#fed4af"/>
<circle cx="328.2" cy="308.2" r="8.3" fill="#fed4af"/>
<circle cx="225.5" cy="402.6" r="8.3" fill="#fed4af"/>
<circle cx="251.1" cy="355.0" r="8.3" fill="#fed4af"/>
<circle cx="276.8" cy="339.6" r="8.3" fill="#fed4af"/>
<circle cx="302.5" cy="332.9" r="8.3" fill="#fed4af"/>
<circle cx="328.2" cy="248.4" r="8.3" fill="#fed4af"/>
<circle cx="353.8" cy="278.5" r="8.3" fill="#fed4af"/>
<circle cx="379.5" cy="246.2" r="8.3" fill="#fed4af"/>
<circle cx="405.2" cy="244.6" r="8.3" fill="#fed4af"/>
<circle cx="430.8" cy="268.2" r="8.3" fill="#fed4af"/>
<circle cx="456.5" cy="244.2" r="8.3" fill="#fed4af"/>
<circle cx="238.3" cy="431.6" r="8.3" fill="#fed4af"/>
<circle cx="276.8" cy="418.2" r="8.3" fill="#fed4af"/>
<circle cx="315.3" cy="350.4" r="8.3" fill="#fed4af"/>
<circle cx="353.8" cy="301.7" r="8.3" fill="#fed4af"/>
<circle cx="392.3" cy="282.5" r="8.3" fill="#fed4af"/>
<circle cx="430.8" cy="237.7" r="8.3" fill="#fed4af"/>
<circle cx="469.3" cy="246.3" r="8.3" fill="#fed4af"/>
<circle cx="507.9" cy="250.3" r="8.3" fill="#fed4af"/>
<circle cx="546.4" cy="239.0" r="8.3" fill="#fed4af"/>
<circle cx="584.9" cy="224.5" r="8.3" fill="#fed4af"/>
<circle cx="251.1" cy="416.3" r="8.3" fill="#fed4af"/>
<circle cx="302.5" cy="352.2" r="8.3" fill="#fed4af"/>
<circle cx="353.8" cy="285.0" r="8.3" fill="#fed4af"/>
<circle cx="405.2" cy="277.2" r="8.3" fill="#fed4af"/>
<circle cx="456.5" cy="239.8" r="8.3" fill="#fed4af"/>
<circle cx="507.9" cy="252.7" r="8.3" fill="#fed4af"/>
<circle cx="559.2" cy="218.6" r="8.3" fill="#fed4af"/>
<circle cx="610.5" cy="186.6" r="8.3" fill="#fed4af"/>
<circle cx="264.0" cy="409.0" r="8.3" fill="#fed4af"/>
<circle cx="328.2" cy="325.5" r="8.3" fill="#fed4af"/>
<circle cx="392.3" cy="258.4" r="8.3" fill="#fed4af"/>
<circle cx="456.5" cy="252.0" r="8.3" fill="#fed4af"/>
<circle cx="520.7" cy="271.2" r="8.3" fill="#fed4af"/>
<circle cx="584.9" cy="225.3" r="8.3" fill="#fed4af"/>
<circle cx="276.8" cy="374.8" r="8.3" fill="#fed4af"/>
<circle cx="353.8" cy="311.7" r="8.3" fill="#fed4af"/>
<circle cx="430.8" cy="252.1" r="8.3" fill="#fed4af"/>
<circle cx="507.9" cy="217.3" r="8.3" fill="#fed4af"/>
<circle cx="584.9" cy="247.4" r="8.3" fill="#fed4af"/>
<circle cx="289.6" cy="345.6" r="8.3" fill="#fed4af"/>
<circle cx="379.5" cy="301.0" r="8.3" fill="#fed4af"/>
<circle cx="469.3" cy="247.7" r="8.3" fill="#fed4af"/>
<circle cx="559.2" cy="200.5" r="8.3" fill="#fed4af"/>
<circle cx="302.5" cy="280.0" r="8.3" fill="#fed4af"/>
<circle cx="405.2" cy="271.7" r="8.3" fill="#fed4af"/>
<circle cx="507.9" cy="219.4" r="8.3" fill="#fed4af"/>
<circle cx="610.5" cy="177.2" r="8.3" fill="#fed4af"/>
<circle cx="315.3" cy="346.9" r="8.3" fill="#fed4af"/>
<circle cx="430.8" cy="276.4" r="8.3" fill="#fed4af"/>
<circle cx="546.4" cy="232.8" r="8.3" fill="#fed4af"/>
<circle cx="302.5" cy="417.0" r="8.3" fill="#fed4af"/>
<circle cx="328.2" cy="393.0" r="8.3" fill="#fed4af"/>
<circle cx="264.0" cy="437.0" r="8.3" fill="#fed4af"/>
<circle cx="469.3" cy="201.5" r="8.3" fill="#fed4af"/>
<circle cx="276.8" cy="431.7" r="8.3" fill="#fed4af"/>
<circle cx="315.3" cy="404.0" r="8.3" fill="#fed4af"/>
<circle cx="289.6" cy="421.7" r="8.3" fill="#fed4af"/>
<circle cx="212.6" cy="489.0" r="8.3" fill="#fec7a0"/>
<circle cx="225.5" cy="459.8" r="8.3" fill="#fec7a0"/>
<circle cx="238.3" cy="453.8" r="8.3" fill="#fec7a0"/>
<circle cx="251.1" cy="403.7" r="8.3" fill="#fec7a0"/>
<circle cx="264.0" cy="379.0" r="8.3" fill="#fec7a0"/>
<circle cx="276.8" cy="363.0" r="8.3" fill="#fec7a0"/>
<circle cx="289.6" cy="387.1" r="8.3" fill="#fec7a0"/>
<circle cx="302.5" cy="347.5" r="8.3" fill="#fec7a0"/>
<circle cx="315.3" cy="291.0" r="8.3" fill="#fec7a0"/>
<circle cx="328.2" cy="303.3" r="8.3" fill="#fec7a0"/>
<circle cx="225.5" cy="412.6" r="8.3" fill="#fec7a0"/>
<circle cx="251.1" cy="392.0" r="8.3" fill="#fec7a0"/>
<circle cx="276.8" cy="352.8" r="8.3" fill="#fec7a0"/>
<circle cx="302.5" cy="319.9" r="8.3" fill="#fec7a0"/>
<circle cx="328.2" cy="289.8" r="8.3" fill="#fec7a0"/>
<circle cx="353.8" cy="314.8" r="8.3" fill="#fec7a0"/>
<circle cx="379.5" cy="266.2" r="8.3" fill="#fec7a0"/>
<circle cx="405.2" cy="270.7" r="8.3" fill="#fec7a0"/>
<circle cx="430.8" cy="233.4" r="8.3" fill="#fec7a0"/>
<circle cx="456.5" cy="242.6" r="8.3" fill="#fec7a0"/>
<circle cx="238.3" cy="392.5" r="8.3" fill="#fec7a0"/>
<circle cx="276.8" cy="335.3" r="8.3" fill="#fec7a0"/>
<circle cx="315.3" cy="336.2" r="8.3" fill="#fec7a0"/>
<circle cx="353.8" cy="313.2" r="8.3" fill="#fec7a0"/>
<circle cx="392.3" cy="282.7" r="8.3" fill="#fec7a0"/>
<circle cx="430.8" cy="242.1" r="8.3" fill="#fec7a0"/>
<circle cx="469.3" cy="247.4" r="8.3" fill="#fec7a0"/>
<circle cx="507.9" cy="233.4" r="8.3" fill="#fec7a0"/>
<circle cx="546.4" cy="217.4" r="8.3" fill="#fec7a0"/>
<circle cx="584.9" cy="228.5" r="8.3" fill="#fec7a0"/>
<circle cx="251.1" cy="361.3" r="8.3" fill="#fec7a0"/>
<circle cx="302.5" cy="317.1" r="8.3" fill="#fec7a0"/>
<circle cx="353.8" cy="288.1" r="8.3" fill="#fec7a0"/>
<circle cx="405.2" cy="256.7" r="8.3" fill="#fec7a0"/>
<circle cx="456.5" cy="252.8" r="8.3" fill="#fec7a0"/>
<circle cx="507.9" cy="241.6" r="8.3" fill="#fec7a0"/>
<circle cx="559.2" cy="205.1" r="8.3" fill="#fec7a0"/>
<circle cx="610.5" cy="205.9" r="8.3" fill="#fec7a0"/>
<circle cx="264.0" cy="414.2" r="8.3" fill="#fec7a0"/>
<circle cx="328.2" cy="310.1" r="8.3" fill="#fec7a0"/>
<circle cx="392.3" cy="266.5" r="8.3" fill="#fec7a0"/>
<circle cx="456.5" cy="226.2" r="8.3" fill="#fec7a0"/>
<circle cx="520.7" cy="214.7" r="8.3" fill="#fec7a0"/>
<circle cx="584.9" cy="224.1" r="8.3" fill="#fec7a0"/>
<circle cx="276.8" cy="386.8" r="8.3" fill="#fec7a0"/>
<circle cx="353.8" cy="273.1" r="8.3" fill="#fec7a0"/>
<circle cx="430.8" cy="245.2" r="8.3" fill="#fec7a0"/>
<circle cx="507.9" cy="232.3" r="8.3" fill="#fec7a0"/>
<circle cx="584.9" cy="264.8" r="8.3" fill="#fec7a0"/>
<circle cx="289.6" cy="373.7" r="8.3" fill="#fec7a0"/>
<circle cx="379.5" cy="285.7" r="8.3" fill="#fec7a0"/>
<circle cx="469.3" cy="236.8" r="8.3" fill="#fec7a0"/>
<circle cx="559.2" cy="228.3" r="8.3" fill="#fec7a0"/>
<circle cx="302.5" cy="309.7" r="8.3" fill="#fec7a0"/>
<circle cx="405.2" cy="249.8" r="8.3" fill="#fec7a0"/>
<circle cx="507.9" cy="237.7" r="8.3" fill="#fec7a0"/>
<circle cx="610.5" cy="208.4" r="8.3" fill="#fec7a0"/>
<circle cx="315.3" cy="288.9" r="8.3" fill="#fec7a0"/>
<circle cx="430.8" cy="222.2" r="8.3" fill="#fec7a0"/>
<circle cx="546.4" cy="228.5" r="8.3" fill="#fec7a0"/>
<circle cx="225.5" cy="515.0" r="8.3" fill="#fec7a0"/>
<circle cx="289.6" cy="413.0" r="8.3" fill="#fec7a0"/>
<circle cx="302.5" cy="254.6" r="8.3" fill="#fec7a0"/>
<circle cx="289.6" cy="274.4" r="8.3" fill="#fec7a0"/>
<circle cx="456.5" cy="213.0" r="8.3" fill="#fec7a0"/>
<circle cx="661.9" cy="234.2" r="8.3" fill="#fec7a0"/>
<circle cx="546.4" cy="190.4" r="8.3" fill="#fec7a0"/>
<circle cx="604.1" cy="166.5" r="8.3" fill="#fec7a0"/>
<circle cx="713.2" cy="175.3" r="8.3" fill="#fec7a0"/>
<circle cx="892.9" cy="216.2" r="8.3" fill="#fec7a0"/>
<circle cx="969.9" cy="215.2" r="8.3" fill="#fec7a0"/>
<circle cx="1239.5" cy="158.4" r="8.3" fill="#fec7a0"/>
<circle cx="1355.0" cy="155.3" r="8.3" fill="#fec7a0"/>
<circle cx="212.6" cy="550.4" r="8.3" fill="#feba91"/>
<circle cx="225.5" cy="485.8" r="8.3" fill="#feba91"/>
<circle cx="238.3" cy="429.1" r="8.3" fill="#feba91"/>
<circle cx="251.1" cy="370.7" r="8.3" fill="#feba91"/>
<circle cx="264.0" cy="342.6" r="8.3" fill="#feba91"/>
<circle cx="276.8" cy="368.4" r="8.3" fill="#feba91"/>
<circle cx="289.6" cy="353.8" r="8.3" fill="#feba91"/>
<circle cx="302.5" cy="304.7" r="8.3" fill="#feba91"/>
<circle cx="315.3" cy="367.5" r="8.3" fill="#feba91"/>
<circle cx="328.2" cy="270.0" r="8.3" fill="#feba91"/>
<circle cx="225.5" cy="455.5" r="8.3" fill="#feba91"/>
<circle cx="251.1" cy="342.7" r="8.3" fill="#feba91"/>
<circle cx="276.8" cy="325.6" r="8.3" fill="#feba91"/>
<circle cx="302.5" cy="314.6" r="8.3" fill="#feba91"/>
<circle cx="328.2" cy="348.0" r="8.3" fill="#feba91"/>
<circle cx="353.8" cy="271.2" r="8.3" fill="#feba91"/>
<circle cx="379.5" cy="279.8" r="8.3" fill="#feba91"/>
<circle cx="405.2" cy="284.5" r="8.3" fill="#feba91"/>
<circle cx="430.8" cy="283.2" r="8.3" fill="#feba91"/>
<circle cx="456.5" cy="288.4" r="8.3" fill="#feba91"/>
<circle cx="238.3" cy="421.7" r="8.3" fill="#feba91"/>
<circle cx="276.8" cy="364.6" r="8.3" fill="#feba91"/>
<circle cx="315.3" cy="284.4" r="8.3" fill="#feba91"/>
<circle cx="353.8" cy="266.1" r="8.3" fill="#feba91"/>
<circle cx="392.3" cy="239.6" r="8.3" fill="#feba91"/>
<circle cx="430.8" cy="237.4" r="8.3" fill="#feba91"/>
<circle cx="469.3" cy="213.0" r="8.3" fill="#feba91"/>
<circle cx="507.9" cy="228.5" r="8.3" fill="#feba91"/>
<circle cx="546.4" cy="189.9" r="8.3" fill="#feba91"/>
<circle cx="584.9" cy="256.9" r="8.3" fill="#feba91"/>
<circle cx="251.1" cy="431.0" r="8.3" fill="#feba91"/>
<circle cx="302.5" cy="303.0" r="8.3" fill="#feba91"/>
<circle cx="353.8" cy="300.1" r="8.3" fill="#feba91"/>
<circle cx="405.2" cy="229.6" r="8.3" fill="#feba91"/>
<circle cx="456.5" cy="251.6" r="8.3" fill="#feba91"/>
<circle cx="507.9" cy="204.5" r="8.3" fill="#feba91"/>
<circle cx="559.2" cy="191.2" r="8.3" fill="#feba91"/>
<circle cx="610.5" cy="214.9" r="8.3" fill="#feba91"/>
<circle cx="264.0" cy="335.4" r="8.3" fill="#feba91"/>
<circle cx="328.2" cy="289.0" r="8.3" fill="#feba91"/>
<circle cx="392.3" cy="281.9" r="8.3" fill="#feba91"/>
<circle cx="456.5" cy="256.8" r="8.3" fill="#feba91"/>
<circle cx="520.7" cy="237.4" r="8.3" fill="#feba91"/>
<circle cx="584.9" cy="220.2" r="8.3" fill="#feba91"/>
<circle cx="276.8" cy="326.6" r="8.3" fill="#feba91"/>
<circle cx="353.8" cy="297.9" r="8.3" fill="#feba91"/>
<circle cx="430.8" cy="272.8" r="8.3" fill="#feba91"/>
<circle cx="507.9" cy="211.3" r="8.3" fill="#feba91"/>
<circle cx="584.9" cy="191.9" r="8.3" fill="#feba91"/>
<circle cx="289.6" cy="299.7" r="8.3" fill="#feba91"/>
<circle cx="379.5" cy="266.4" r="8.3" fill="#feba91"/>
<circle cx="469.3" cy="236.8" r="8.3" fill="#feba91"/>
<circle cx="559.2" cy="209.1" r="8.3" fill="#feba91"/>
<circle cx="302.5" cy="279.0" r="8.3" fill="#feba91"/>
<circle cx="405.2" cy="260.1" r="8.3" fill="#feba91"/>
<circle cx="507.9" cy="203.5" r="8.3" fill="#feba91"/>
<circle cx="610.5" cy="173.2" r="8.3" fill="#feba91"/>
<circle cx="315.3" cy="363.5" r="8.3" fill="#feba91"/>
<circle cx="430.8" cy="282.5" r="8.3" fill="#feba91"/>
<circle cx="546.4" cy="237.7" r="8.3" fill="#feba91"/>
<circle cx="289.6" cy="414.0" r="8.3" fill="#feba91"/>
<circle cx="212.6" cy="527.6" r="8.3" fill="#feae82"/>
<circle cx="225.5" cy="406.7" r="8.3" fill="#feae82"/>
<circle cx="238.3" cy="408.7" r="8.3" fill="#feae82"/>
<circle cx="251.1" cy="374.5" r="8.3" fill="#feae82"/>
<circle cx="264.0" cy="394.8" r="8.3" fill="#feae82"/>
<circle cx="276.8" cy="326.1" r="8.3" fill="#feae82"/>
<circle cx="289.6" cy="314.4" r="8.3" fill="#feae82"/>
<circle cx="302.5" cy="334.8" r="8.3" fill="#feae82"/>
<circle cx="315.3" cy="328.6" r="8.3" fill="#feae82"/>
<circle cx="328.2" cy="242.2" r="8.3" fill="#feae82"/>
<circle cx="225.5" cy="453.7" r="8.3" fill="#feae82"/>
<circle cx="251.1" cy="358.6" r="8.3" fill="#feae82"/>
<circle cx="276.8" cy="345.4" r="8.3" fill="#feae82"/>
<circle cx="302.5" cy="337.3" r="8.3" fill="#feae82"/>
<circle cx="328.2" cy="322.6" r="8.3" fill="#feae82"/>
<circle cx="353.8" cy="267.1" r="8.3" fill="#feae82"/>
<circle cx="379.5" cy="300.6" r="8.3" fill="#feae82"/>
<circle cx="405.2" cy="290.8" r="8.3" fill="#feae82"/>
<circle cx="430.8" cy="282.6" r="8.3" fill="#feae82"/>
<circle cx="456.5" cy="256.0" r="8.3" fill="#feae82"/>
<circle cx="238.3" cy="403.2" r="8.3" fill="#feae82"/>
<circle cx="276.8" cy="353.2" r="8.3" fill="#feae82"/>
<circle cx="315.3" cy="325.6" r="8.3" fill="#feae82"/>
<circle cx="353.8" cy="309.8" r="8.3" fill="#feae82"/>
<circle cx="392.3" cy="291.3" r="8.3" fill="#feae82"/>
<circle cx="430.8" cy="234.1" r="8.3" fill="#feae82"/>
<circle cx="469.3" cy="219.9" r="8.3" fill="#feae82"/>
<circle cx="507.9" cy="243.0" r="8.3" fill="#feae82"/>
<circle cx="546.4" cy="217.4" r="8.3" fill="#feae82"/>
<circle cx="584.9" cy="224.1" r="8.3" fill="#feae82"/>
<circle cx="251.1" cy="338.0" r="8.3" fill="#feae82"/>
<circle cx="302.5" cy="379.7" r="8.3" fill="#feae82"/>
<circle cx="353.8" cy="256.9" r="8.3" fill="#feae82"/>
<circle cx="405.2" cy="235.5" r="8.3" fill="#feae82"/>
<circle cx="456.5" cy="274.7" r="8.3" fill="#feae82"/>
<circle cx="507.9" cy="237.0" r="8.3" fill="#feae82"/>
<circle cx="559.2" cy="207.5" r="8.3" fill="#feae82"/>
<circle cx="610.5" cy="192.2" r="8.3" fill="#feae82"/>
<circle cx="264.0" cy="337.0" r="8.3" fill="#feae82"/>
<circle cx="328.2" cy="274.0" r="8.3" fill="#feae82"/>
<circle cx="392.3" cy="246.2" r="8.3" fill="#feae82"/>
<circle cx="456.5" cy="243.4" r="8.3" fill="#feae82"/>
<circle cx="520.7" cy="257.9" r="8.3" fill="#feae82"/>
<circle cx="584.9" cy="223.5" r="8.3" fill="#feae82"/>
<circle cx="276.8" cy="355.2" r="8.3" fill="#feae82"/>
<circle cx="353.8" cy="297.2" r="8.3" fill="#feae82"/>
<circle cx="430.8" cy="271.2" r="8.3" fill="#feae82"/>
<circle cx="507.9" cy="224.2" r="8.3" fill="#feae82"/>
<circle cx="584.9" cy="245.8" r="8.3" fill="#feae82"/>
<circle cx="289.6" cy="343.4" r="8.3" fill="#feae82"/>
<circle cx="379.5" cy="304.8" r="8.3" fill="#feae82"/>
<circle cx="469.3" cy="255.0" r="8.3" fill="#feae82"/>
<circle cx="559.2" cy="215.8" r="8.3" fill="#feae82"/>
<circle cx="302.5" cy="373.9" r="8.3" fill="#feae82"/>
<circle cx="405.2" cy="277.7" r="8.3" fill="#feae82"/>
<circle cx="507.9" cy="212.6" r="8.3" fill="#feae82"/>
<circle cx="610.5" cy="204.4" r="8.3" fill="#feae82"/>
<circle cx="315.3" cy="335.1" r="8.3" fill="#feae82"/>
<circle cx="430.8" cy="252.6" r="8.3" fill="#feae82"/>
<circle cx="546.4" cy="198.2" r="8.3" fill="#feae82"/>
<circle cx="302.5" cy="398.3" r="8.3" fill="#feae82"/>
<circle cx="507.9" cy="268.0" r="8.3" fill="#feae82"/>
<circle cx="546.4" cy="264.6" r="8.3" fill="#feae82"/>
<circle cx="584.9" cy="196.1" r="8.3" fill="#feae82"/>
<circle cx="738.9" cy="158.8" r="8.3" fill="#feae82"/>
<circle cx="815.9" cy="153.3" r="8.3" fill="#feae82"/>
<circle cx="828.7" cy="183.6" r="8.3" fill="#feae82"/>
<circle cx="892.9" cy="145.4" r="8.3" fill="#feae82"/>
<circle cx="918.6" cy="180.8" r="8.3" fill="#feae82"/>
<circle cx="1098.3" cy="127.7" r="8.3" fill="#feae82"/>
<circle cx="1124.0" cy="164.0" r="8.3" fill="#feae82"/>
<circle cx="1226.6" cy="117.8" r="8.3" fill="#feae82"/>
<circle cx="1226.6" cy="161.5" r="8.3" fill="#feae82"/>
<circle cx="1239.5" cy="121.7" r="8.3" fill="#feae82"/>
<circle cx="1239.5" cy="153.8" r="8.3" fill="#feae82"/>
<circle cx="1355.0" cy="106.0" r="8.3" fill="#feae82"/>
<circle cx="302.5" cy="395.0" r="8.3" fill="#feae82"/>
<circle cx="212.6" cy="494.6" r="8.3" fill="#fea273"/>
<circle cx="225.5" cy="459.0" r="8.3" fill="#fea273"/>
<circle cx="238.3" cy="455.9" r="8.3" fill="#fea273"/>
<circle cx="251.1" cy="394.5" r="8.3" fill="#fea273"/>
<circle cx="264.0" cy="375.3" r="8.3" fill="#fea273"/>
<circle cx="276.8" cy="360.9" r="8.3" fill="#fea273"/>
<circle cx="289.6" cy="319.3" r="8.3" fill="#fea273"/>
<circle cx="302.5" cy="348.1" r="8.3" fill="#fea273"/>
<circle cx="315.3" cy="285.2" r="8.3" fill="#fea273"/>
<circle cx="328.2" cy="257.4" r="8.3" fill="#fea273"/>
<circle cx="225.5" cy="423.0" r="8.3" fill="#fea273"/>
<circle cx="251.1" cy="379.1" r="8.3" fill="#fea273"/>
<circle cx="276.8" cy="329.5" r="8.3" fill="#fea273"/>
<circle cx="302.5" cy="355.6" r="8.3" fill="#fea273"/>
<circle cx="328.2" cy="271.4" r="8.3" fill="#fea273"/>
<circle cx="353.8" cy="283.6" r="8.3" fill="#fea273"/>
<circle cx="379.5" cy="259.8" r="8.3" fill="#fea273"/>
<circle cx="405.2" cy="272.0" r="8.3" fill="#fea273"/>
<circle cx="430.8" cy="271.7" r="8.3" fill="#fea273"/>
<circle cx="456.5" cy="241.4" r="8.3" fill="#fea273"/>
<circle cx="238.3" cy="405.5" r="8.3" fill="#fea273"/>
<circle cx="276.8" cy="418.0" r="8.3" fill="#fea273"/>
<circle cx="315.3" cy="288.9" r="8.3" fill="#fea273"/>
<circle cx="353.8" cy="288.2" r="8.3" fill="#fea273"/>
<circle cx="392.3" cy="272.2" r="8.3" fill="#fea273"/>
<circle cx="430.8" cy="239.5" r="8.3" fill="#fea273"/>
<circle cx="469.3" cy="234.8" r="8.3" fill="#fea273"/>
<circle cx="507.9" cy="213.0" r="8.3" fill="#fea273"/>
<circle cx="546.4" cy="198.7" r="8.3" fill="#fea273"/>
<circle cx="584.9" cy="255.5" r="8.3" fill="#fea273"/>
<circle cx="251.1" cy="436.2" r="8.3" fill="#fea273"/>
<circle cx="302.5" cy="376.5" r="8.3" fill="#fea273"/>
<circle cx="353.8" cy="286.9" r="8.3" fill="#fea273"/>
<circle cx="405.2" cy="287.3" r="8.3" fill="#fea273"/>
<circle cx="456.5" cy="283.9" r="8.3" fill="#fea273"/>
<circle cx="507.9" cy="246.9" r="8.3" fill="#fea273"/>
<circle cx="559.2" cy="231.3" r="8.3" fill="#fea273"/>
<circle cx="610.5" cy="209.2" r="8.3" fill="#fea273"/>
<circle cx="264.0" cy="356.3" r="8.3" fill="#fea273"/>
<circle cx="328.2" cy="303.6" r="8.3" fill="#fea273"/>
<circle cx="392.3" cy="303.8" r="8.3" fill="#fea273"/>
<circle cx="456.5" cy="229.8" r="8.3" fill="#fea273"/>
<circle cx="520.7" cy="256.4" r="8.3" fill="#fea273"/>
<circle cx="584.9" cy="203.7" r="8.3" fill="#fea273"/>
<circle cx="276.8" cy="299.7" r="8.3" fill="#fea273"/>
<circle cx="353.8" cy="312.5" r="8.3" fill="#fea273"/>
<circle cx="430.8" cy="234.6" r="8.3" fill="#fea273"/>
<circle cx="507.9" cy="247.1" r="8.3" fill="#fea273"/>
<circle cx="584.9" cy="217.4" r="8.3" fill="#fea273"/>
<circle cx="289.6" cy="325.1" r="8.3" fill="#fea273"/>
<circle cx="379.5" cy="251.9" r="8.3" fill="#fea273"/>
<circle cx="469.3" cy="222.0" r="8.3" fill="#fea273"/>
<circle cx="559.2" cy="228.3" r="8.3" fill="#fea273"/>
<circle cx="302.5" cy="368.7" r="8.3" fill="#fea273"/>
<circle cx="405.2" cy="277.5" r="8.3" fill="#fea273"/>
<circle cx="507.9" cy="249.2" r="8.3" fill="#fea273"/>
<circle cx="610.5" cy="196.9" r="8.3" fill="#fea273"/>
<circle cx="315.3" cy="319.9" r="8.3" fill="#fea273"/>
<circle cx="430.8" cy="252.0" r="8.3" fill="#fea273"/>
<circle cx="546.4" cy="202.8" r="8.3" fill="#fea273"/>
<circle cx="212.6" cy="540.8" r="8.3" fill="#fea273"/>
<circle cx="276.8" cy="296.0" r="8.3" fill="#fea273"/>
<circle cx="469.3" cy="210.8" r="8.3" fill="#fea273"/>
<circle cx="918.6" cy="147.0" r="8.3" fill="#fea273"/>
<circle cx="1008.4" cy="182.0" r="8.3" fill="#fea273"/>
<circle cx="1098.3" cy="169.4" r="8.3" fill="#fea273"/>
<circle cx="212.6" cy="480.1" r="8.3" fill="#fe9564"/>
<circle cx="225.5" cy="389.9" r="8.3" fill="#fe9564"/>
<circle cx="238.3" cy="439.2" r="8.3" fill="#fe9564"/>
<circle cx="251.1" cy="352.6" r="8.3" fill="#fe9564"/>
<circle cx="264.0" cy="323.3" r="8.3" fill="#fe9564"/>
<circle cx="276.8" cy="383.1" r="8.3" fill="#fe9564"/>
<circle cx="289.6" cy="320.4" r="8.3" fill="#fe9564"/>
<circle cx="302.5" cy="298.3" r="8.3" fill="#fe9564"/>
<circle cx="315.3" cy="285.5" r="8.3" fill="#fe9564"/>
<circle cx="328.2" cy="272.1" r="8.3" fill="#fe9564"/>
<circle cx="225.5" cy="462.0" r="8.3" fill="#fe9564"/>
<circle cx="251.1" cy="350.9" r="8.3" fill="#fe9564"/>
<circle cx="276.8" cy="364.2" r="8.3" fill="#fe9564"/>
<circle cx="302.5" cy="324.1" r="8.3" fill="#fe9564"/>
<circle cx="328.2" cy="325.5" r="8.3" fill="#fe9564"/>
<circle cx="353.8" cy="310.5" r="8.3" fill="#fe9564"/>
<circle cx="379.5" cy="243.5" r="8.3" fill="#fe9564"/>
<circle cx="405.2" cy="261.1" r="8.3" fill="#fe9564"/>
<circle cx="430.8" cy="268.8" r="8.3" fill="#fe9564"/>
<circle cx="456.5" cy="249.3" r="8.3" fill="#fe9564"/>
<circle cx="238.3" cy="386.3" r="8.3" fill="#fe9564"/>
<circle cx="276.8" cy="355.3" r="8.3" fill="#fe9564"/>
<circle cx="315.3" cy="264.4" r="8.3" fill="#fe9564"/>
<circle cx="353.8" cy="291.7" r="8.3" fill="#fe9564"/>
<circle cx="392.3" cy="267.6" r="8.3" fill="#fe9564"/>
<circle cx="430.8" cy="263.3" r="8.3" fill="#fe9564"/>
<circle cx="469.3" cy="235.5" r="8.3" fill="#fe9564"/>
<circle cx="507.9" cy="238.8" r="8.3" fill="#fe9564"/>
<circle cx="546.4" cy="216.1" r="8.3" fill="#fe9564"/>
<circle cx="584.9" cy="254.5" r="8.3" fill="#fe9564"/>
<circle cx="251.1" cy="353.4" r="8.3" fill="#fe9564"/>
<circle cx="302.5" cy="364.5" r="8.3" fill="#fe9564"/>
<circle cx="353.8" cy="295.0" r="8.3" fill="#fe9564"/>
<circle cx="405.2" cy="253.3" r="8.3" fill="#fe9564"/>
<circle cx="456.5" cy="243.8" r="8.3" fill="#fe9564"/>
<circle cx="507.9" cy="234.2" r="8.3" fill="#fe9564"/>
<circle cx="559.2" cy="217.4" r="8.3" fill="#fe9564"/>
<circle cx="610.5" cy="190.7" r="8.3" fill="#fe9564"/>
<circle cx="264.0" cy="374.1" r="8.3" fill="#fe9564"/>
<circle cx="328.2" cy="282.1" r="8.3" fill="#fe9564"/>
<circle cx="392.3" cy="287.1" r="8.3" fill="#fe9564"/>
<circle cx="456.5" cy="251.3" r="8.3" fill="#fe9564"/>
<circle cx="520.7" cy="232.0" r="8.3" fill="#fe9564"/>
<circle cx="584.9" cy="249.3" r="8.3" fill="#fe9564"/>
<circle cx="276.8" cy="331.0" r="8.3" fill="#fe9564"/>
<circle cx="353.8" cy="278.5" r="8.3" fill="#fe9564"/>
<circle cx="430.8" cy="256.8" r="8.3" fill="#fe9564"/>
<circle cx="507.9" cy="225.4" r="8.3" fill="#fe9564"/>
<circle cx="584.9" cy="224.0" r="8.3" fill="#fe9564"/>
<circle cx="289.6" cy="322.0" r="8.3" fill="#fe9564"/>
<circle cx="379.5" cy="264.2" r="8.3" fill="#fe9564"/>
<circle cx="469.3" cy="225.8" r="8.3" fill="#fe9564"/>
<circle cx="559.2" cy="193.7" r="8.3" fill="#fe9564"/>
<circle cx="302.5" cy="320.2" r="8.3" fill="#fe9564"/>
<circle cx="405.2" cy="247.5" r="8.3" fill="#fe9564"/>
<circle cx="507.9" cy="215.5" r="8.3" fill="#fe9564"/>
<circle cx="610.5" cy="183.6" r="8.3" fill="#fe9564"/>
<circle cx="315.3" cy="293.0" r="8.3" fill="#fe9564"/>
<circle cx="430.8" cy="217.0" r="8.3" fill="#fe9564"/>
<circle cx="546.4" cy="193.4" r="8.3" fill="#fe9564"/>
<circle cx="212.6" cy="570.0" r="8.3" fill="#fe9564"/>
<circle cx="456.5" cy="220.0" r="8.3" fill="#fe9564"/>
<circle cx="1008.4" cy="176.7" r="8.3" fill="#fe9564"/>
<circle cx="1021.3" cy="170.4" r="8.3" fill="#fe9564"/>
<circle cx="212.6" cy="518.6" r="8.3" fill="#fd8855"/>
<circle cx="225.5" cy="497.5" r="8.3" fill="#fd8855"/>
<circle cx="238.3" cy="412.1" r="8.3" fill="#fd8855"/>
<circle cx="251.1" cy="341.9" r="8.3" fill="#fd8855"/>
<circle cx="264.0" cy="373.3" r="8.3" fill="#fd8855"/>
<circle cx="276.8" cy="370.3" r="8.3" fill="#fd8855"/>
<circle cx="289.6" cy="310.7" r="8.3" fill="#fd8855"/>
<circle cx="302.5" cy="368.1" r="8.3" fill="#fd8855"/>
<circle cx="315.3" cy="298.3" r="8.3" fill="#fd8855"/>
<circle cx="328.2" cy="286.5" r="8.3" fill="#fd8855"/>
<circle cx="225.5" cy="427.6" r="8.3" fill="#fd8855"/>
<circle cx="251.1" cy="402.2" r="8.3" fill="#fd8855"/>
<circle cx="276.8" cy="363.7" r="8.3" fill="#fd8855"/>
<circle cx="302.5" cy="406.2" r="8.3" fill="#fd8855"/>
<circle cx="328.2" cy="298.8" r="8.3" fill="#fd8855"/>
<circle cx="353.8" cy="263.4" r="8.3" fill="#fd8855"/>
<circle cx="379.5" cy="273.8" r="8.3" fill="#fd8855"/>
<circle cx="405.2" cy="253.4" r="8.3" fill="#fd8855"/>
<circle cx="430.8" cy="237.2" r="8.3" fill="#fd8855"/>
<circle cx="456.5" cy="241.2" r="8.3" fill="#fd8855"/>
<circle cx="238.3" cy="438.2" r="8.3" fill="#fd8855"/>
<circle cx="276.8" cy="388.2" r="8.3" fill="#fd8855"/>
<circle cx="315.3" cy="333.4" r="8.3" fill="#fd8855"/>
<circle cx="353.8" cy="304.2" r="8.3" fill="#fd8855"/>
<circle cx="392.3" cy="255.5" r="8.3" fill="#fd8855"/>
<circle cx="430.8" cy="269.1" r="8.3" fill="#fd8855"/>
<circle cx="469.3" cy="251.6" r="8.3" fill="#fd8855"/>
<circle cx="507.9" cy="245.8" r="8.3" fill="#fd8855"/>
<circle cx="546.4" cy="216.9" r="8.3" fill="#fd8855"/>
<circle cx="584.9" cy="211.2" r="8.3" fill="#fd8855"/>
<circle cx="251.1" cy="403.8" r="8.3" fill="#fd8855"/>
<circle cx="302.5" cy="354.7" r="8.3" fill="#fd8855"/>
<circle cx="353.8" cy="287.4" r="8.3" fill="#fd8855"/>
<circle cx="405.2" cy="249.2" r="8.3" fill="#fd8855"/>
<circle cx="456.5" cy="272.0" r="8.3" fill="#fd8855"/>
<circle cx="507.9" cy="248.6" r="8.3" fill="#fd8855"/>
<circle cx="559.2" cy="204.5" r="8.3" fill="#fd8855"/>
<circle cx="610.5" cy="227.7" r="8.3" fill="#fd8855"/>
<circle cx="264.0" cy="346.1" r="8.3" fill="#fd8855"/>
<circle cx="328.2" cy="317.2" r="8.3" fill="#fd8855"/>
<circle cx="392.3" cy="264.6" r="8.3" fill="#fd8855"/>
<circle cx="456.5" cy="259.7" r="8.3" fill="#fd8855"/>
<circle cx="520.7" cy="233.3" r="8.3" fill="#fd8855"/>
<circle cx="584.9" cy="247.2" r="8.3" fill="#fd8855"/>
<circle cx="276.8" cy="385.4" r="8.3" fill="#fd8855"/>
<circle cx="353.8" cy="325.4" r="8.3" fill="#fd8855"/>
<circle cx="430.8" cy="273.6" r="8.3" fill="#fd8855"/>
<circle cx="507.9" cy="249.5" r="8.3" fill="#fd8855"/>
<circle cx="584.9" cy="213.9" r="8.3" fill="#fd8855"/>
<circle cx="289.6" cy="328.9" r="8.3" fill="#fd8855"/>
<circle cx="379.5" cy="230.4" r="8.3" fill="#fd8855"/>
<circle cx="469.3" cy="245.7" r="8.3" fill="#fd8855"/>
<circle cx="559.2" cy="217.2" r="8.3" fill="#fd8855"/>
<circle cx="302.5" cy="339.9" r="8.3" fill="#fd8855"/>
<circle cx="405.2" cy="268.7" r="8.3" fill="#fd8855"/>
<circle cx="507.9" cy="220.1" r="8.3" fill="#fd8855"/>
<circle cx="610.5" cy="202.4" r="8.3" fill="#fd8855"/>
<circle cx="315.3" cy="329.8" r="8.3" fill="#fd8855"/>
<circle cx="430.8" cy="254.2" r="8.3" fill="#fd8855"/>
<circle cx="546.4" cy="219.1" r="8.3" fill="#fd8855"/>
<circle cx="238.3" cy="347.3" r="8.3" fill="#fd8855"/>
<circle cx="244.7" cy="489.5" r="8.3" fill="#fd8855"/>
<circle cx="238.3" cy="495.0" r="8.3" fill="#fd8855"/>
<circle cx="296.1" cy="265.5" r="8.3" fill="#fd8855"/>
<circle cx="276.8" cy="282.7" r="8.3" fill="#fd8855"/>
<circle cx="257.6" cy="304.6" r="8.3" fill="#fd8855"/>
<circle cx="488.6" cy="273.3" r="8.3" fill="#fd8855"/>
<circle cx="424.4" cy="196.0" r="8.3" fill="#fd8855"/>
<circle cx="379.5" cy="224.4" r="8.3" fill="#fd8855"/>
<circle cx="430.8" cy="229.6" r="8.3" fill="#fd8855"/>
<circle cx="212.6" cy="504.3" r="8.3" fill="#fd7c46"/>
<circle cx="225.5" cy="438.0" r="8.3" fill="#fd7c46"/>
<circle cx="238.3" cy="396.6" r="8.3" fill="#fd7c46"/>
<circle cx="251.1" cy="383.5" r="8.3" fill="#fd7c46"/>
<circle cx="264.0" cy="358.7" r="8.3" fill="#fd7c46"/>
<circle cx="276.8" cy="352.7" r="8.3" fill="#fd7c46"/>
<circle cx="289.6" cy="355.9" r="8.3" fill="#fd7c46"/>
<circle cx="302.5" cy="331.0" r="8.3" fill="#fd7c46"/>
<circle cx="315.3" cy="337.0" r="8.3" fill="#fd7c46"/>
<circle cx="328.2" cy="253.4" r="8.3" fill="#fd7c46"/>
<circle cx="225.5" cy="435.9" r="8.3" fill="#fd7c46"/>
<circle cx="251.1" cy="353.6" r="8.3" fill="#fd7c46"/>
<circle cx="276.8" cy="340.9" r="8.3" fill="#fd7c46"/>
<circle cx="302.5" cy="323.4" r="8.3" fill="#fd7c46"/>
<circle cx="328.2" cy="343.3" r="8.3" fill="#fd7c46"/>
<circle cx="353.8" cy="303.0" r="8.3" fill="#fd7c46"/>
<circle cx="379.5" cy="280.2" r="8.3" fill="#fd7c46"/>
<circle cx="405.2" cy="289.5" r="8.3" fill="#fd7c46"/>
<circle cx="430.8" cy="232.4" r="8.3" fill="#fd7c46"/>
<circle cx="456.5" cy="233.9" r="8.3" fill="#fd7c46"/>
<circle cx="238.3" cy="404.9" r="8.3" fill="#fd7c46"/>
<circle cx="276.8" cy="346.2" r="8.3" fill="#fd7c46"/>
<circle cx="315.3" cy="329.2" r="8.3" fill="#fd7c46"/>
<circle cx="353.8" cy="307.7" r="8.3" fill="#fd7c46"/>
<circle cx="392.3" cy="269.4" r="8.3" fill="#fd7c46"/>
<circle cx="430.8" cy="225.3" r="8.3" fill="#fd7c46"/>
<circle cx="469.3" cy="239.1" r="8.3" fill="#fd7c46"/>
<circle cx="507.9" cy="224.3" r="8.3" fill="#fd7c46"/>
<circle cx="546.4" cy="236.8" r="8.3" fill="#fd7c46"/>
<circle cx="584.9" cy="214.2" r="8.3" fill="#fd7c46"/>
<circle cx="251.1" cy="409.9" r="8.3" fill="#fd7c46"/>
<circle cx="302.5" cy="389.5" r="8.3" fill="#fd7c46"/>
<circle cx="353.8" cy="298.5" r="8.3" fill="#fd7c46"/>
<circle cx="405.2" cy="285.2" r="8.3" fill="#fd7c46"/>
<circle cx="456.5" cy="261.5" r="8.3" fill="#fd7c46"/>
<circle cx="507.9" cy="260.3" r="8.3" fill="#fd7c46"/>
<circle cx="559.2" cy="227.4" r="8.3" fill="#fd7c46"/>
<circle cx="610.5" cy="213.5" r="8.3" fill="#fd7c46"/>
<circle cx="264.0" cy="340.5" r="8.3" fill="#fd7c46"/>
<circle cx="328.2" cy="253.5" r="8.3" fill="#fd7c46"/>
<circle cx="392.3" cy="256.7" r="8.3" fill="#fd7c46"/>
<circle cx="456.5" cy="241.4" r="8.3" fill="#fd7c46"/>
<circle cx="520.7" cy="237.5" r="8.3" fill="#fd7c46"/>
<circle cx="584.9" cy="250.2" r="8.3" fill="#fd7c46"/>
<circle cx="276.8" cy="344.7" r="8.3" fill="#fd7c46"/>
<circle cx="353.8" cy="304.7" r="8.3" fill="#fd7c46"/>
<circle cx="430.8" cy="231.6" r="8.3" fill="#fd7c46"/>
<circle cx="507.9" cy="254.2" r="8.3" fill="#fd7c46"/>
<circle cx="584.9" cy="252.4" r="8.3" fill="#fd7c46"/>
<circle cx="289.6" cy="338.6" r="8.3" fill="#fd7c46"/>
<circle cx="379.5" cy="253.4" r="8.3" fill="#fd7c46"/>
<circle cx="469.3" cy="236.1" r="8.3" fill="#fd7c46"/>
<circle cx="559.2" cy="213.8" r="8.3" fill="#fd7c46"/>
<circle cx="302.5" cy="283.8" r="8.3" fill="#fd7c46"/>
<circle cx="405.2" cy="234.7" r="8.3" fill="#fd7c46"/>
<circle cx="507.9" cy="261.6" r="8.3" fill="#fd7c46"/>
<circle cx="610.5" cy="220.5" r="8.3" fill="#fd7c46"/>
<circle cx="315.3" cy="358.8" r="8.3" fill="#fd7c46"/>
<circle cx="430.8" cy="248.8" r="8.3" fill="#fd7c46"/>
<circle cx="546.4" cy="233.9" r="8.3" fill="#fd7c46"/>
<circle cx="315.3" cy="260.8" r="8.3" fill="#fd7c46"/>
<circle cx="334.6" cy="206.7" r="8.3" fill="#fd7c46"/>
<circle cx="315.3" cy="234.2" r="8.3" fill="#fd7c46"/>
<circle cx="405.2" cy="233.8" r="8.3" fill="#fd7c46"/>
<circle cx="661.9" cy="142.9" r="8.3" fill="#fd7c46"/>
<circle cx="604.1" cy="220.6" r="8.3" fill="#fd7c46"/>
<circle cx="649.0" cy="218.9" r="8.3" fill="#fd7c46"/>
<circle cx="649.0" cy="226.4" r="8.3" fill="#fd7c46"/>
<circle cx="546.4" cy="245.0" r="8.3" fill="#fd7c46"/>
<circle cx="584.9" cy="291.1" r="8.3" fill="#fd7c46"/>
<circle cx="918.6" cy="130.8" r="8.3" fill="#fd7c46"/>
<circle cx="918.6" cy="152.0" r="8.3" fill="#fd7c46"/>
<circle cx="969.9" cy="183.0" r="8.3" fill="#fd7c46"/>
<circle cx="1008.4" cy="111.0" r="8.3" fill="#fd7c46"/>
<circle cx="1098.3" cy="96.5" r="8.3" fill="#fd7c46"/>
<circle cx="1124.0" cy="115.2" r="8.3" fill="#fd7c46"/>
<circle cx="212.6" cy="540.5" r="8.3" fill="#fd7037"/>
<circle cx="225.5" cy="442.0" r="8.3" fill="#fd7037"/>
<circle cx="238.3" cy="428.2" r="8.3" fill="#fd7037"/>
<circle cx="251.1" cy="384.1" r="8.3" fill="#fd7037"/>
<circle cx="264.0" cy="346.8" r="8.3" fill="#fd7037"/>
<circle cx="276.8" cy="323.5" r="8.3" fill="#fd7037"/>
<circle cx="289.6" cy="393.1" r="8.3" fill="#fd7037"/>
<circle cx="302.5" cy="345.0" r="8.3" fill="#fd7037"/>
<circle cx="315.3" cy="307.9" r="8.3" fill="#fd7037"/>
<circle cx="328.2" cy="323.4" r="8.3" fill="#fd7037"/>
<circle cx="225.5" cy="457.4" r="8.3" fill="#fd7037"/>
<circle cx="251.1" cy="400.1" r="8.3" fill="#fd7037"/>
<circle cx="276.8" cy="380.3" r="8.3" fill="#fd7037"/>
<circle cx="302.5" cy="329.2" r="8.3" fill="#fd7037"/>
<circle cx="328.2" cy="263.2" r="8.3" fill="#fd7037"/>
<circle cx="353.8" cy="313.5" r="8.3" fill="#fd7037"/>
<circle cx="379.5" cy="260.6" r="8.3" fill="#fd7037"/>
<circle cx="405.2" cy="257.8" r="8.3" fill="#fd7037"/>
<circle cx="430.8" cy="275.6" r="8.3" fill="#fd7037"/>
<circle cx="456.5" cy="253.9" r="8.3" fill="#fd7037"/>
<circle cx="238.3" cy="375.1" r="8.3" fill="#fd7037"/>
<circle cx="276.8" cy="307.9" r="8.3" fill="#fd7037"/>
<circle cx="315.3" cy="360.8" r="8.3" fill="#fd7037"/>
<circle cx="353.8" cy="302.4" r="8.3" fill="#fd7037"/>
<circle cx="392.3" cy="261.0" r="8.3" fill="#fd7037"/>
<circle cx="430.8" cy="248.6" r="8.3" fill="#fd7037"/>
<circle cx="469.3" cy="237.4" r="8.3" fill="#fd7037"/>
<circle cx="507.9" cy="225.3" r="8.3" fill="#fd7037"/>
<circle cx="546.4" cy="197.4" r="8.3" fill="#fd7037"/>
<circle cx="584.9" cy="220.6" r="8.3" fill="#fd7037"/>
<circle cx="251.1" cy="409.0" r="8.3" fill="#fd7037"/>
<circle cx="302.5" cy="343.9" r="8.3" fill="#fd7037"/>
<circle cx="353.8" cy="282.9" r="8.3" fill="#fd7037"/>
<circle cx="405.2" cy="249.5" r="8.3" fill="#fd7037"/>
<circle cx="456.5" cy="276.9" r="8.3" fill="#fd7037"/>
<circle cx="507.9" cy="207.5" r="8.3" fill="#fd7037"/>
<circle cx="559.2" cy="202.1" r="8.3" fill="#fd7037"/>
<circle cx="610.5" cy="175.5" r="8.3" fill="#fd7037"/>
<circle cx="264.0" cy="389.3" r="8.3" fill="#fd7037"/>
<circle cx="328.2" cy="280.6" r="8.3" fill="#fd7037"/>
<circle cx="392.3" cy="261.3" r="8.3" fill="#fd7037"/>
<circle cx="456.5" cy="247.4" r="8.3" fill="#fd7037"/>
<circle cx="520.7" cy="245.9" r="8.3" fill="#fd7037"/>
<circle cx="584.9" cy="217.7" r="8.3" fill="#fd7037"/>
<circle cx="276.8" cy="323.9" r="8.3" fill="#fd7037"/>
<circle cx="353.8" cy="276.5" r="8.3" fill="#fd7037"/>
<circle cx="430.8" cy="259.0" r="8.3" fill="#fd7037"/>
<circle cx="507.9" cy="216.3" r="8.3" fill="#fd7037"/>
<circle cx="584.9" cy="219.3" r="8.3" fill="#fd7037"/>
<circle cx="289.6" cy="324.4" r="8.3" fill="#fd7037"/>
<circle cx="379.5" cy="304.1" r="8.3" fill="#fd7037"/>
<circle cx="469.3" cy="238.1" r="8.3" fill="#fd7037"/>
<circle cx="559.2" cy="220.5" r="8.3" fill="#fd7037"/>
<circle cx="302.5" cy="333.2" r="8.3" fill="#fd7037"/>
<circle cx="405.2" cy="275.8" r="8.3" fill="#fd7037"/>
<circle cx="507.9" cy="273.4" r="8.3" fill="#fd7037"/>
<circle cx="610.5" cy="201.1" r="8.3" fill="#fd7037"/>
<circle cx="315.3" cy="375.7" r="8.3" fill="#fd7037"/>
<circle cx="430.8" cy="229.6" r="8.3" fill="#fd7037"/>
<circle cx="546.4" cy="223.5" r="8.3" fill="#fd7037"/>
<circle cx="225.5" cy="369.2" r="8.3" fill="#fd7037"/>
<circle cx="251.1" cy="296.8" r="8.3" fill="#fd7037"/>
<circle cx="334.6" cy="289.0" r="8.3" fill="#fd7037"/>
<circle cx="430.8" cy="311.9" r="8.3" fill="#fd7037"/>
<circle cx="507.9" cy="282.7" r="8.3" fill="#fd7037"/>
<circle cx="379.5" cy="249.4" r="8.3" fill="#fd7037"/>
<circle cx="360.2" cy="260.0" r="8.3" fill="#fd7037"/>
<circle cx="405.2" cy="222.3" r="8.3" fill="#fd7037"/>
<circle cx="430.8" cy="206.6" r="8.3" fill="#fd7037"/>
<circle cx="507.9" cy="192.0" r="8.3" fill="#fd7037"/>
<circle cx="661.9" cy="153.6" r="8.3" fill="#fd7037"/>
<circle cx="661.9" cy="246.9" r="8.3" fill="#fd7037"/>
<circle cx="610.5" cy="168.5" r="8.3" fill="#fd7037"/>
<circle cx="610.5" cy="159.0" r="8.3" fill="#fd7037"/>
<circle cx="559.2" cy="169.6" r="8.3" fill="#fd7037"/>
<circle cx="520.7" cy="284.4" r="8.3" fill="#fd7037"/>
<circle cx="520.7" cy="302.5" r="8.3" fill="#fd7037"/>
<circle cx="546.4" cy="240.0" r="8.3" fill="#fd7037"/>
<circle cx="546.4" cy="250.0" r="8.3" fill="#fd7037"/>
<circle cx="584.9" cy="257.3" r="8.3" fill="#fd7037"/>
<circle cx="584.9" cy="265.6" r="8.3" fill="#fd7037"/>
<circle cx="610.5" cy="236.5" r="8.3" fill="#fd7037"/>
<circle cx="713.2" cy="129.5" r="8.3" fill="#fd7037"/>
<circle cx="713.2" cy="242.3" r="8.3" fill="#fd7037"/>
<circle cx="738.9" cy="208.3" r="8.3" fill="#fd7037"/>
<circle cx="738.9" cy="219.3" r="8.3" fill="#fd7037"/>
<circle cx="777.4" cy="175.3" r="8.3" fill="#fd7037"/>
<circle cx="777.4" cy="224.8" r="8.3" fill="#fd7037"/>
<circle cx="815.9" cy="202.8" r="8.3" fill="#fd7037"/>
<circle cx="815.9" cy="212.0" r="8.3" fill="#fd7037"/>
<circle cx="828.7" cy="150.6" r="8.3" fill="#fd7037"/>
<circle cx="841.6" cy="165.3" r="8.3" fill="#fd7037"/>
<circle cx="892.9" cy="190.2" r="8.3" fill="#fd7037"/>
<circle cx="1008.4" cy="136.0" r="8.3" fill="#fd7037"/>
<circle cx="1008.4" cy="143.3" r="8.3" fill="#fd7037"/>
<circle cx="1021.3" cy="137.0" r="8.3" fill="#fd7037"/>
<circle cx="1098.3" cy="109.0" r="8.3" fill="#fd7037"/>
<circle cx="1124.0" cy="126.7" r="8.3" fill="#fd7037"/>
<circle cx="1226.6" cy="106.9" r="8.3" fill="#fd7037"/>
<circle cx="1226.6" cy="155.3" r="8.3" fill="#fd7037"/>
<circle cx="1239.5" cy="101.4" r="8.3" fill="#fd7037"/>
<circle cx="1239.5" cy="106.9" r="8.3" fill="#fd7037"/>
<circle cx="1355.0" cy="81.0" r="8.3" fill="#fd7037"/>
<circle cx="1355.0" cy="89.7" r="8.3" fill="#fd7037"/>
<circle cx="212.6" cy="496.4" r="8.3" fill="#fd6328"/>
<circle cx="225.5" cy="401.5" r="8.3" fill="#fd6328"/>
<circle cx="238.3" cy="397.1" r="8.3" fill="#fd6328"/>
<circle cx="251.1" cy="422.0" r="8.3" fill="#fd6328"/>
<circle cx="264.0" cy="351.3" r="8.3" fill="#fd6328"/>
<circle cx="276.8" cy="342.9" r="8.3" fill="#fd6328"/>
<circle cx="289.6" cy="324.7" r="8.3" fill="#fd6328"/>
<circle cx="302.5" cy="327.5" r="8.3" fill="#fd6328"/>
<circle cx="315.3" cy="305.9" r="8.3" fill="#fd6328"/>
<circle cx="328.2" cy="306.4" r="8.3" fill="#fd6328"/>
<circle cx="225.5" cy="484.1" r="8.3" fill="#fd6328"/>
<circle cx="251.1" cy="433.2" r="8.3" fill="#fd6328"/>
<circle cx="276.8" cy="377.1" r="8.3" fill="#fd6328"/>
<circle cx="302.5" cy="364.5" r="8.3" fill="#fd6328"/>
<circle cx="328.2" cy="356.7" r="8.3" fill="#fd6328"/>
<circle cx="353.8" cy="269.5" r="8.3" fill="#fd6328"/>
<circle cx="379.5" cy="251.5" r="8.3" fill="#fd6328"/>
<circle cx="405.2" cy="255.6" r="8.3" fill="#fd6328"/>
<circle cx="430.8" cy="276.8" r="8.3" fill="#fd6328"/>
<circle cx="456.5" cy="260.1" r="8.3" fill="#fd6328"/>
<circle cx="238.3" cy="415.1" r="8.3" fill="#fd6328"/>
<circle cx="276.8" cy="367.7" r="8.3" fill="#fd6328"/>
<circle cx="315.3" cy="297.0" r="8.3" fill="#fd6328"/>
<circle cx="353.8" cy="270.3" r="8.3" fill="#fd6328"/>
<circle cx="392.3" cy="267.3" r="8.3" fill="#fd6328"/>
<circle cx="430.8" cy="271.5" r="8.3" fill="#fd6328"/>
<circle cx="469.3" cy="229.0" r="8.3" fill="#fd6328"/>
<circle cx="507.9" cy="222.9" r="8.3" fill="#fd6328"/>
<circle cx="546.4" cy="201.9" r="8.3" fill="#fd6328"/>
<circle cx="584.9" cy="256.7" r="8.3" fill="#fd6328"/>
<circle cx="251.1" cy="413.3" r="8.3" fill="#fd6328"/>
<circle cx="302.5" cy="292.9" r="8.3" fill="#fd6328"/>
<circle cx="353.8" cy="286.6" r="8.3" fill="#fd6328"/>
<circle cx="405.2" cy="279.1" r="8.3" fill="#fd6328"/>
<circle cx="456.5" cy="259.2" r="8.3" fill="#fd6328"/>
<circle cx="507.9" cy="258.2" r="8.3" fill="#fd6328"/>
<circle cx="559.2" cy="220.5" r="8.3" fill="#fd6328"/>
<circle cx="610.5" cy="183.3" r="8.3" fill="#fd6328"/>
<circle cx="264.0" cy="382.3" r="8.3" fill="#fd6328"/>
<circle cx="328.2" cy="359.1" r="8.3" fill="#fd6328"/>
<circle cx="392.3" cy="241.3" r="8.3" fill="#fd6328"/>
<circle cx="456.5" cy="231.5" r="8.3" fill="#fd6328"/>
<circle cx="520.7" cy="217.7" r="8.3" fill="#fd6328"/>
<circle cx="584.9" cy="231.1" r="8.3" fill="#fd6328"/>
<circle cx="276.8" cy="383.9" r="8.3" fill="#fd6328"/>
<circle cx="353.8" cy="297.2" r="8.3" fill="#fd6328"/>
<circle cx="430.8" cy="293.6" r="8.3" fill="#fd6328"/>
<circle cx="507.9" cy="229.9" r="8.3" fill="#fd6328"/>
<circle cx="584.9" cy="206.6" r="8.3" fill="#fd6328"/>
<circle cx="289.6" cy="389.5" r="8.3" fill="#fd6328"/>
<circle cx="379.5" cy="292.6" r="8.3" fill="#fd6328"/>
<circle cx="469.3" cy="249.9" r="8.3" fill="#fd6328"/>
<circle cx="559.2" cy="192.2" r="8.3" fill="#fd6328"/>
<circle cx="302.5" cy="358.5" r="8.3" fill="#fd6328"/>
<circle cx="405.2" cy="270.3" r="8.3" fill="#fd6328"/>
<circle cx="507.9" cy="237.2" r="8.3" fill="#fd6328"/>
<circle cx="610.5" cy="197.0" r="8.3" fill="#fd6328"/>
<circle cx="315.3" cy="289.0" r="8.3" fill="#fd6328"/>
<circle cx="430.8" cy="246.0" r="8.3" fill="#fd6328"/>
<circle cx="546.4" cy="206.5" r="8.3" fill="#fd6328"/>
<circle cx="424.4" cy="204.6" r="8.3" fill="#fd6328"/>
<circle cx="841.6" cy="195.5" r="8.3" fill="#fd6328"/>
<circle cx="212.6" cy="511.5" r="8.3" fill="#fd5619"/>
<circle cx="225.5" cy="461.3" r="8.3" fill="#fd5619"/>
<circle cx="238.3" cy="437.9" r="8.3" fill="#fd5619"/>
<circle cx="251.1" cy="352.9" r="8.3" fill="#fd5619"/>
<circle cx="264.0" cy="443.6" r="8.3" fill="#fd5619"/>
<circle cx="276.8" cy="317.8" r="8.3" fill="#fd5619"/>
<circle cx="289.6" cy="346.5" r="8.3" fill="#fd5619"/>
<circle cx="302.5" cy="321.9" r="8.3" fill="#fd5619"/>
<circle cx="315.3" cy="265.4" r="8.3" fill="#fd5619"/>
<circle cx="328.2" cy="301.0" r="8.3" fill="#fd5619"/>
<circle cx="225.5" cy="438.2" r="8.3" fill="#fd5619"/>
<circle cx="251.1" cy="350.0" r="8.3" fill="#fd5619"/>
<circle cx="276.8" cy="355.2" r="8.3" fill="#fd5619"/>
<circle cx="302.5" cy="313.1" r="8.3" fill="#fd5619"/>
<circle cx="328.2" cy="325.7" r="8.3" fill="#fd5619"/>
<circle cx="353.8" cy="265.7" r="8.3" fill="#fd5619"/>
<circle cx="379.5" cy="276.5" r="8.3" fill="#fd5619"/>
<circle cx="405.2" cy="256.5" r="8.3" fill="#fd5619"/>
<circle cx="430.8" cy="252.9" r="8.3" fill="#fd5619"/>
<circle cx="456.5" cy="266.4" r="8.3" fill="#fd5619"/>
<circle cx="238.3" cy="442.4" r="8.3" fill="#fd5619"/>
<circle cx="276.8" cy="417.0" r="8.3" fill="#fd5619"/>
<circle cx="315.3" cy="351.4" r="8.3" fill="#fd5619"/>
<circle cx="353.8" cy="296.5" r="8.3" fill="#fd5619"/>
<circle cx="392.3" cy="253.8" r="8.3" fill="#fd5619"/>
<circle cx="430.8" cy="235.8" r="8.3" fill="#fd5619"/>
<circle cx="469.3" cy="221.2" r="8.3" fill="#fd5619"/>
<circle cx="507.9" cy="257.1" r="8.3" fill="#fd5619"/>
<circle cx="546.4" cy="256.4" r="8.3" fill="#fd5619"/>
<circle cx="584.9" cy="235.3" r="8.3" fill="#fd5619"/>
<circle cx="251.1" cy="358.2" r="8.3" fill="#fd5619"/>
<circle cx="302.5" cy="302.1" r="8.3" fill="#fd5619"/>
<circle cx="353.8" cy="269.0" r="8.3" fill="#fd5619"/>
<circle cx="405.2" cy="269.4" r="8.3" fill="#fd5619"/>
<circle cx="456.5" cy="259.2" r="8.3" fill="#fd5619"/>
<circle cx="507.9" cy="242.4" r="8.3" fill="#fd5619"/>
<circle cx="559.2" cy="219.2" r="8.3" fill="#fd5619"/>
<circle cx="610.5" cy="190.1" r="8.3" fill="#fd5619"/>
<circle cx="264.0" cy="333.9" r="8.3" fill="#fd5619"/>
<circle cx="328.2" cy="275.1" r="8.3" fill="#fd5619"/>
<circle cx="392.3" cy="254.5" r="8.3" fill="#fd5619"/>
<circle cx="456.5" cy="272.7" r="8.3" fill="#fd5619"/>
<circle cx="520.7" cy="257.5" r="8.3" fill="#fd5619"/>
<circle cx="584.9" cy="219.1" r="8.3" fill="#fd5619"/>
<circle cx="276.8" cy="317.8" r="8.3" fill="#fd5619"/>
<circle cx="353.8" cy="290.3" r="8.3" fill="#fd5619"/>
<circle cx="430.8" cy="268.7" r="8.3" fill="#fd5619"/>
<circle cx="507.9" cy="223.0" r="8.3" fill="#fd5619"/>
<circle cx="584.9" cy="245.9" r="8.3" fill="#fd5619"/>
<circle cx="289.6" cy="347.1" r="8.3" fill="#fd5619"/>
<circle cx="379.5" cy="251.3" r="8.3" fill="#fd5619"/>
<circle cx="469.3" cy="221.9" r="8.3" fill="#fd5619"/>
<circle cx="559.2" cy="229.7" r="8.3" fill="#fd5619"/>
<circle cx="302.5" cy="310.1" r="8.3" fill="#fd5619"/>
<circle cx="405.2" cy="243.7" r="8.3" fill="#fd5619"/>
<circle cx="507.9" cy="235.6" r="8.3" fill="#fd5619"/>
<circle cx="610.5" cy="188.3" r="8.3" fill="#fd5619"/>
<circle cx="315.3" cy="318.7" r="8.3" fill="#fd5619"/>
<circle cx="430.8" cy="269.2" r="8.3" fill="#fd5619"/>
<circle cx="546.4" cy="244.7" r="8.3" fill="#fd5619"/>
<circle cx="225.5" cy="376.5" r="8.3" fill="#fd5619"/>
<circle cx="251.1" cy="315.0" r="8.3" fill="#fd5619"/>
<circle cx="392.3" cy="228.5" r="8.3" fill="#fd5619"/>
<circle cx="661.9" cy="181.0" r="8.3" fill="#fd5619"/>
<circle cx="661.9" cy="206.5" r="8.3" fill="#fd5619"/>
<circle cx="661.9" cy="221.0" r="8.3" fill="#fd5619"/>
<circle cx="610.5" cy="192.5" r="8.3" fill="#fd5619"/>
<circle cx="610.5" cy="206.0" r="8.3" fill="#fd5619"/>
<circle cx="610.5" cy="227.0" r="8.3" fill="#fd5619"/>
<circle cx="610.5" cy="231.2" r="8.3" fill="#fd5619"/>
<circle cx="559.2" cy="238.5" r="8.3" fill="#fd5619"/>
<circle cx="713.2" cy="184.5" r="8.3" fill="#fd5619"/>
<circle cx="713.2" cy="190.0" r="8.3" fill="#fd5619"/>
<circle cx="713.2" cy="206.5" r="8.3" fill="#fd5619"/>
<circle cx="713.2" cy="221.2" r="8.3" fill="#fd5619"/>
<circle cx="738.9" cy="171.7" r="8.3" fill="#fd5619"/>
<circle cx="738.9" cy="181.8" r="8.3" fill="#fd5619"/>
<circle cx="738.9" cy="197.3" r="8.3" fill="#fd5619"/>
<circle cx="777.4" cy="193.7" r="8.3" fill="#fd5619"/>
<circle cx="777.4" cy="200.0" r="8.3" fill="#fd5619"/>
<circle cx="815.9" cy="160.7" r="8.3" fill="#fd5619"/>
<circle cx="815.9" cy="168.0" r="8.3" fill="#fd5619"/>
<circle cx="815.9" cy="187.3" r="8.3" fill="#fd5619"/>
<circle cx="828.7" cy="165.3" r="8.3" fill="#fd5619"/>
<circle cx="828.7" cy="175.3" r="8.3" fill="#fd5619"/>
<circle cx="892.9" cy="157.9" r="8.3" fill="#fd5619"/>
<circle cx="892.9" cy="168.3" r="8.3" fill="#fd5619"/>
<circle cx="918.6" cy="159.0" r="8.3" fill="#fd5619"/>
<circle cx="918.6" cy="172.5" r="8.3" fill="#fd5619"/>
<circle cx="969.9" cy="148.5" r="8.3" fill="#fd5619"/>
<circle cx="969.9" cy="164.2" r="8.3" fill="#fd5619"/>
<circle cx="1008.4" cy="151.7" r="8.3" fill="#fd5619"/>
<circle cx="1008.4" cy="168.3" r="8.3" fill="#fd5619"/>
<circle cx="1021.3" cy="143.3" r="8.3" fill="#fd5619"/>
<circle cx="1098.3" cy="143.3" r="8.3" fill="#fd5619"/>
<circle cx="1098.3" cy="162.0" r="8.3" fill="#fd5619"/>
<circle cx="1124.0" cy="137.0" r="8.3" fill="#fd5619"/>
<circle cx="1124.0" cy="158.0" r="8.3" fill="#fd5619"/>
<circle cx="1226.6" cy="131.9" r="8.3" fill="#fd5619"/>
<circle cx="1239.5" cy="135.0" r="8.3" fill="#fd5619"/>
<circle cx="1355.0" cy="124.8" r="8.3" fill="#fd5619"/>
<circle cx="212.6" cy="514.5" r="8.3" fill="#fd4a0a"/>
<circle cx="225.5" cy="457.0" r="8.3" fill="#fd4a0a"/>
<circle cx="238.3" cy="393.2" r="8.3" fill="#fd4a0a"/>
<circle cx="251.1" cy="371.9" r="8.3" fill="#fd4a0a"/>
<circle cx="264.0" cy="335.8" r="8.3" fill="#fd4a0a"/>
<circle cx="276.8" cy="341.3" r="8.3" fill="#fd4a0a"/>
<circle cx="289.6" cy="302.4" r="8.3" fill="#fd4a0a"/>
<circle cx="302.5" cy="358.6" r="8.3" fill="#fd4a0a"/>
<circle cx="315.3" cy="289.2" r="8.3" fill="#fd4a0a"/>
<circle cx="328.2" cy="272.6" r="8.3" fill="#fd4a0a"/>
<circle cx="225.5" cy="415.0" r="8.3" fill="#fd4a0a"/>
<circle cx="251.1" cy="359.4" r="8.3" fill="#fd4a0a"/>
<circle cx="276.8" cy="363.8" r="8.3" fill="#fd4a0a"/>
<circle cx="302.5" cy="342.9" r="8.3" fill="#fd4a0a"/>
<circle cx="328.2" cy="344.1" r="8.3" fill="#fd4a0a"/>
<circle cx="353.8" cy="286.0" r="8.3" fill="#fd4a0a"/>
<circle cx="379.5" cy="283.1" r="8.3" fill="#fd4a0a"/>
<circle cx="405.2" cy="256.6" r="8.3" fill="#fd4a0a"/>
<circle cx="430.8" cy="270.6" r="8.3" fill="#fd4a0a"/>
<circle cx="456.5" cy="253.5" r="8.3" fill="#fd4a0a"/>
<circle cx="238.3" cy="378.6" r="8.3" fill="#fd4a0a"/>
<circle cx="276.8" cy="317.8" r="8.3" fill="#fd4a0a"/>
<circle cx="315.3" cy="346.9" r="8.3" fill="#fd4a0a"/>
<circle cx="353.8" cy="290.7" r="8.3" fill="#fd4a0a"/>
<circle cx="392.3" cy="250.6" r="8.3" fill="#fd4a0a"/>
<circle cx="430.8" cy="239.2" r="8.3" fill="#fd4a0a"/>
<circle cx="469.3" cy="227.9" r="8.3" fill="#fd4a0a"/>
<circle cx="507.9" cy="257.5" r="8.3" fill="#fd4a0a"/>
<circle cx="546.4" cy="217.8" r="8.3" fill="#fd4a0a"/>
<circle cx="584.9" cy="224.5" r="8.3" fill="#fd4a0a"/>
<circle cx="251.1" cy="355.9" r="8.3" fill="#fd4a0a"/>
<circle cx="302.5" cy="342.0" r="8.3" fill="#fd4a0a"/>
<circle cx="353.8" cy="287.0" r="8.3" fill="#fd4a0a"/>
<circle cx="405.2" cy="270.3" r="8.3" fill="#fd4a0a"/>
<circle cx="456.5" cy="256.1" r="8.3" fill="#fd4a0a"/>
<circle cx="507.9" cy="250.4" r="8.3" fill="#fd4a0a"/>
<circle cx="559.2" cy="202.0" r="8.3" fill="#fd4a0a"/>
<circle cx="610.5" cy="212.6" r="8.3" fill="#fd4a0a"/>
<circle cx="264.0" cy="369.5" r="8.3" fill="#fd4a0a"/>
<circle cx="328.2" cy="271.0" r="8.3" fill="#fd4a0a"/>
<circle cx="392.3" cy="262.0" r="8.3" fill="#fd4a0a"/>
<circle cx="456.5" cy="257.2" r="8.3" fill="#fd4a0a"/>
<circle cx="520.7" cy="230.2" r="8.3" fill="#fd4a0a"/>
<circle cx="584.9" cy="232.3" r="8.3" fill="#fd4a0a"/>
<circle cx="276.8" cy="331.0" r="8.3" fill="#fd4a0a"/>
<circle cx="353.8" cy="294.8" r="8.3" fill="#fd4a0a"/>
<circle cx="430.8" cy="277.3" r="8.3" fill="#fd4a0a"/>
<circle cx="507.9" cy="264.0" r="8.3" fill="#fd4a0a"/>
<circle cx="584.9" cy="188.9" r="8.3" fill="#fd4a0a"/>
<circle cx="289.6" cy="352.8" r="8.3" fill="#fd4a0a"/>
<circle cx="379.5" cy="250.9" r="8.3" fill="#fd4a0a"/>
<circle cx="469.3" cy="220.5" r="8.3" fill="#fd4a0a"/>
<circle cx="559.2" cy="231.9" r="8.3" fill="#fd4a0a"/>
<circle cx="302.5" cy="358.1" r="8.3" fill="#fd4a0a"/>
<circle cx="405.2" cy="269.1" r="8.3" fill="#fd4a0a"/>
<circle cx="507.9" cy="211.6" r="8.3" fill="#fd4a0a"/>
<circle cx="610.5" cy="214.4" r="8.3" fill="#fd4a0a"/>
<circle cx="315.3" cy="375.9" r="8.3" fill="#fd4a0a"/>
<circle cx="430.8" cy="240.7" r="8.3" fill="#fd4a0a"/>
<circle cx="546.4" cy="225.7" r="8.3" fill="#fd4a0a"/>
<circle cx="315.3" cy="408.2" r="8.3" fill="#fd4a0a"/>
<circle cx="302.5" cy="433.8" r="8.3" fill="#fd4a0a"/>
<circle cx="289.6" cy="441.6" r="8.3" fill="#fd4a0a"/>
<circle cx="276.8" cy="450.9" r="8.3" fill="#fd4a0a"/>
<circle cx="264.0" cy="464.5" r="8.3" fill="#fd4a0a"/>
<circle cx="212.6" cy="550.4" r="8.3" fill="#fd4a0a"/>
<circle cx="405.2" cy="247.8" r="8.3" fill="#fd4a0a"/>
<circle cx="661.9" cy="197.5" r="8.3" fill="#fd4a0a"/>
<circle cx="713.2" cy="197.3" r="8.3" fill="#fd4a0a"/>
<circle cx="738.9" cy="190.0" r="8.3" fill="#fd4a0a"/>
<circle cx="777.4" cy="186.3" r="8.3" fill="#fd4a0a"/>
<circle cx="815.9" cy="177.2" r="8.3" fill="#fd4a0a"/>
<circle cx="841.6" cy="179.9" r="8.3" fill="#fd4a0a"/>
<circle cx="892.9" cy="180.8" r="8.3" fill="#fd4a0a"/>
<circle cx="918.6" cy="166.2" r="8.3" fill="#fd4a0a"/>
<circle cx="969.9" cy="174.6" r="8.3" fill="#fd4a0a"/>
<circle cx="1008.4" cy="162.0" r="8.3" fill="#fd4a0a"/>
<circle cx="1021.3" cy="160.0" r="8.3" fill="#fd4a0a"/>
<circle cx="1098.3" cy="152.7" r="8.3" fill="#fd4a0a"/>
<circle cx="1124.0" cy="149.6" r="8.3" fill="#fd4a0a"/>
<circle cx="1226.6" cy="146.0" r="8.3" fill="#fd4a0a"/>
<circle cx="1239.5" cy="143.6" r="8.3" fill="#fd4a0a"/>
<circle cx="1355.0" cy="137.7" r="8.3" fill="#fd4a0a"/>
<circle cx="212.6" cy="514.7" r="8.3" fill="#fee0be"/>
<circle cx="225.5" cy="475.7" r="8.3" fill="#fee0be"/>
<circle cx="238.3" cy="449.7" r="8.3" fill="#fee0be"/>
<circle cx="251.1" cy="371.2" r="8.3" fill="#fee0be"/>
<circle cx="264.0" cy="419.2" r="8.3" fill="#fee0be"/>
<circle cx="276.8" cy="354.0" r="8.3" fill="#fee0be"/>
<circle cx="289.6" cy="335.6" r="8.3" fill="#fee0be"/>
<circle cx="302.5" cy="339.2" r="8.3" fill="#fee0be"/>
<circle cx="315.3" cy="292.8" r="8.3" fill="#fee0be"/>
<circle cx="328.2" cy="292.9" r="8.3" fill="#fee0be"/>
<circle cx="219.1" cy="500.4" r="8.3" fill="#fee0be"/>
<circle cx="238.3" cy="382.9" r="8.3" fill="#fee0be"/>
<circle cx="257.6" cy="367.2" r="8.3" fill="#fee0be"/>
<circle cx="276.8" cy="353.5" r="8.3" fill="#fee0be"/>
<circle cx="296.1" cy="369.9" r="8.3" fill="#fee0be"/>
<circle cx="315.3" cy="296.7" r="8.3" fill="#fee0be"/>
<circle cx="334.6" cy="304.0" r="8.3" fill="#fee0be"/>
<circle cx="353.8" cy="294.3" r="8.3" fill="#fee0be"/>
<circle cx="373.1" cy="292.5" r="8.3" fill="#fee0be"/>
<circle cx="392.3" cy="283.6" r="8.3" fill="#fee0be"/>
<circle cx="225.5" cy="434.1" r="8.3" fill="#fee0be"/>
<circle cx="251.1" cy="398.7" r="8.3" fill="#fee0be"/>
<circle cx="276.8" cy="330.2" r="8.3" fill="#fee0be"/>
<circle cx="302.5" cy="306.5" r="8.3" fill="#fee0be"/>
<circle cx="328.2" cy="287.9" r="8.3" fill="#fee0be"/>
<circle cx="353.8" cy="293.6" r="8.3" fill="#fee0be"/>
<circle cx="379.5" cy="243.6" r="8.3" fill="#fee0be"/>
<circle cx="405.2" cy="277.3" r="8.3" fill="#fee0be"/>
<circle cx="430.8" cy="256.3" r="8.3" fill="#fee0be"/>
<circle cx="456.5" cy="280.5" r="8.3" fill="#fee0be"/>
<circle cx="231.9" cy="413.7" r="8.3" fill="#fee0be"/>
<circle cx="264.0" cy="377.0" r="8.3" fill="#fee0be"/>
<circle cx="296.1" cy="306.3" r="8.3" fill="#fee0be"/>
<circle cx="328.2" cy="324.3" r="8.3" fill="#fee0be"/>
<circle cx="360.2" cy="297.6" r="8.3" fill="#fee0be"/>
<circle cx="392.3" cy="266.9" r="8.3" fill="#fee0be"/>
<circle cx="424.4" cy="252.7" r="8.3" fill="#fee0be"/>
<circle cx="456.5" cy="254.7" r="8.3" fill="#fee0be"/>
<circle cx="488.6" cy="236.0" r="8.3" fill="#fee0be"/>
<circle cx="520.7" cy="262.2" r="8.3" fill="#fee0be"/>
<circle cx="238.3" cy="389.2" r="8.3" fill="#fee0be"/>
<circle cx="276.8" cy="352.5" r="8.3" fill="#fee0be"/>
<circle cx="315.3" cy="346.2" r="8.3" fill="#fee0be"/>
<circle cx="353.8" cy="287.2" r="8.3" fill="#fee0be"/>
<circle cx="392.3" cy="274.4" r="8.3" fill="#fee0be"/>
<circle cx="430.8" cy="249.6" r="8.3" fill="#fee0be"/>
<circle cx="469.3" cy="247.3" r="8.3" fill="#fee0be"/>
<circle cx="507.9" cy="230.5" r="8.3" fill="#fee0be"/>
<circle cx="546.4" cy="204.8" r="8.3" fill="#fee0be"/>
<circle cx="584.9" cy="222.9" r="8.3" fill="#fee0be"/>
<circle cx="244.7" cy="387.5" r="8.3" fill="#fee0be"/>
<circle cx="289.6" cy="320.1" r="8.3" fill="#fee0be"/>
<circle cx="334.6" cy="326.8" r="8.3" fill="#fee0be"/>
<circle cx="379.5" cy="269.6" r="8.3" fill="#fee0be"/>
<circle cx="424.4" cy="271.5" r="8.3" fill="#fee0be"/>
<circle cx="469.3" cy="245.6" r="8.3" fill="#fee0be"/>
<circle cx="514.3" cy="240.9" r="8.3" fill="#fee0be"/>
<circle cx="559.2" cy="209.5" r="8.3" fill="#fee0be"/>
<circle cx="604.1" cy="197.9" r="8.3" fill="#fee0be"/>
<circle cx="212.6" cy="524.3" r="8.3" fill="#fed4af"/>
<circle cx="225.5" cy="457.2" r="8.3" fill="#fed4af"/>
<circle cx="238.3" cy="448.4" r="8.3" fill="#fed4af"/>
<circle cx="251.1" cy="352.2" r="8.3" fill="#fed4af"/>
<circle cx="264.0" cy="365.3" r="8.3" fill="#fed4af"/>
<circle cx="276.8" cy="377.1" r="8.3" fill="#fed4af"/>
<circle cx="289.6" cy="324.2" r="8.3" fill="#fed4af"/>
<circle cx="302.5" cy="383.8" r="8.3" fill="#fed4af"/>
<circle cx="315.3" cy="330.0" r="8.3" fill="#fed4af"/>
<circle cx="328.2" cy="305.7" r="8.3" fill="#fed4af"/>
<circle cx="219.1" cy="493.0" r="8.3" fill="#fed4af"/>
<circle cx="238.3" cy="431.6" r="8.3" fill="#fed4af"/>
<circle cx="257.6" cy="367.2" r="8.3" fill="#fed4af"/>
<circle cx="276.8" cy="339.4" r="8.3" fill="#fed4af"/>
<circle cx="296.1" cy="310.3" r="8.3" fill="#fed4af"/>
<circle cx="315.3" cy="284.4" r="8.3" fill="#fed4af"/>
<circle cx="334.6" cy="269.1" r="8.3" fill="#fed4af"/>
<circle cx="353.8" cy="296.9" r="8.3" fill="#fed4af"/>
<circle cx="373.1" cy="295.4" r="8.3" fill="#fed4af"/>
<circle cx="392.3" cy="274.9" r="8.3" fill="#fed4af"/>
<circle cx="225.5" cy="448.5" r="8.3" fill="#fed4af"/>
<circle cx="251.1" cy="378.7" r="8.3" fill="#fed4af"/>
<circle cx="276.8" cy="395.0" r="8.3" fill="#fed4af"/>
<circle cx="302.5" cy="320.3" r="8.3" fill="#fed4af"/>
<circle cx="328.2" cy="338.1" r="8.3" fill="#fed4af"/>
<circle cx="353.8" cy="311.2" r="8.3" fill="#fed4af"/>
<circle cx="379.5" cy="260.3" r="8.3" fill="#fed4af"/>
<circle cx="405.2" cy="268.6" r="8.3" fill="#fed4af"/>
<circle cx="430.8" cy="258.1" r="8.3" fill="#fed4af"/>
<circle cx="456.5" cy="251.0" r="8.3" fill="#fed4af"/>
<circle cx="231.9" cy="423.7" r="8.3" fill="#fed4af"/>
<circle cx="264.0" cy="359.3" r="8.3" fill="#fed4af"/>
<circle cx="296.1" cy="357.7" r="8.3" fill="#fed4af"/>
<circle cx="328.2" cy="308.2" r="8.3" fill="#fed4af"/>
<circle cx="360.2" cy="275.9" r="8.3" fill="#fed4af"/>
<circle cx="392.3" cy="277.6" r="8.3" fill="#fed4af"/>
<circle cx="424.4" cy="249.7" r="8.3" fill="#fed4af"/>
<circle cx="456.5" cy="271.8" r="8.3" fill="#fed4af"/>
<circle cx="488.6" cy="235.5" r="8.3" fill="#fed4af"/>
<circle cx="520.7" cy="261.2" r="8.3" fill="#fed4af"/>
<circle cx="238.3" cy="396.4" r="8.3" fill="#fed4af"/>
<circle cx="276.8" cy="404.9" r="8.3" fill="#fed4af"/>
<circle cx="315.3" cy="360.6" r="8.3" fill="#fed4af"/>
<circle cx="353.8" cy="283.0" r="8.3" fill="#fed4af"/>
<circle cx="392.3" cy="274.7" r="8.3" fill="#fed4af"/>
<circle cx="430.8" cy="263.6" r="8.3" fill="#fed4af"/>
<circle cx="469.3" cy="230.6" r="8.3" fill="#fed4af"/>
<circle cx="507.9" cy="224.3" r="8.3" fill="#fed4af"/>
<circle cx="546.4" cy="218.6" r="8.3" fill="#fed4af"/>
<circle cx="584.9" cy="215.9" r="8.3" fill="#fed4af"/>
<circle cx="244.7" cy="431.0" r="8.3" fill="#fed4af"/>
<circle cx="289.6" cy="382.3" r="8.3" fill="#fed4af"/>
<circle cx="334.6" cy="318.2" r="8.3" fill="#fed4af"/>
<circle cx="379.5" cy="267.7" r="8.3" fill="#fed4af"/>
<circle cx="424.4" cy="255.4" r="8.3" fill="#fed4af"/>
<circle cx="469.3" cy="250.7" r="8.3" fill="#fed4af"/>
<circle cx="514.3" cy="250.8" r="8.3" fill="#fed4af"/>
<circle cx="559.2" cy="205.2" r="8.3" fill="#fed4af"/>
<circle cx="604.1" cy="212.0" r="8.3" fill="#fed4af"/>
<circle cx="212.6" cy="503.5" r="8.3" fill="#fec7a0"/>
<circle cx="225.5" cy="440.6" r="8.3" fill="#fec7a0"/>
<circle cx="238.3" cy="406.1" r="8.3" fill="#fec7a0"/>
<circle cx="251.1" cy="375.7" r="8.3" fill="#fec7a0"/>
<circle cx="264.0" cy="354.8" r="8.3" fill="#fec7a0"/>
<circle cx="276.8" cy="370.2" r="8.3" fill="#fec7a0"/>
<circle cx="289.6" cy="303.3" r="8.3" fill="#fec7a0"/>
<circle cx="302.5" cy="367.2" r="8.3" fill="#fec7a0"/>
<circle cx="315.3" cy="324.0" r="8.3" fill="#fec7a0"/>
<circle cx="328.2" cy="321.6" r="8.3" fill="#fec7a0"/>
<circle cx="219.1" cy="461.6" r="8.3" fill="#fec7a0"/>
<circle cx="238.3" cy="425.7" r="8.3" fill="#fec7a0"/>
<circle cx="257.6" cy="404.4" r="8.3" fill="#fec7a0"/>
<circle cx="276.8" cy="338.8" r="8.3" fill="#fec7a0"/>
<circle cx="296.1" cy="345.2" r="8.3" fill="#fec7a0"/>
<circle cx="315.3" cy="320.6" r="8.3" fill="#fec7a0"/>
<circle cx="334.6" cy="297.2" r="8.3" fill="#fec7a0"/>
<circle cx="353.8" cy="302.2" r="8.3" fill="#fec7a0"/>
<circle cx="373.1" cy="302.4" r="8.3" fill="#fec7a0"/>
<circle cx="392.3" cy="265.7" r="8.3" fill="#fec7a0"/>
<circle cx="225.5" cy="434.2" r="8.3" fill="#fec7a0"/>
<circle cx="251.1" cy="369.8" r="8.3" fill="#fec7a0"/>
<circle cx="276.8" cy="376.0" r="8.3" fill="#fec7a0"/>
<circle cx="302.5" cy="341.7" r="8.3" fill="#fec7a0"/>
<circle cx="328.2" cy="281.1" r="8.3" fill="#fec7a0"/>
<circle cx="353.8" cy="306.6" r="8.3" fill="#fec7a0"/>
<circle cx="379.5" cy="288.6" r="8.3" fill="#fec7a0"/>
<circle cx="405.2" cy="252.1" r="8.3" fill="#fec7a0"/>
<circle cx="430.8" cy="265.7" r="8.3" fill="#fec7a0"/>
<circle cx="456.5" cy="277.1" r="8.3" fill="#fec7a0"/>
<circle cx="231.9" cy="428.2" r="8.3" fill="#fec7a0"/>
<circle cx="264.0" cy="411.3" r="8.3" fill="#fec7a0"/>
<circle cx="296.1" cy="331.7" r="8.3" fill="#fec7a0"/>
<circle cx="328.2" cy="293.8" r="8.3" fill="#fec7a0"/>
<circle cx="360.2" cy="282.6" r="8.3" fill="#fec7a0"/>
<circle cx="392.3" cy="251.0" r="8.3" fill="#fec7a0"/>
<circle cx="424.4" cy="258.2" r="8.3" fill="#fec7a0"/>
<circle cx="456.5" cy="227.9" r="8.3" fill="#fec7a0"/>
<circle cx="488.6" cy="235.1" r="8.3" fill="#fec7a0"/>
<circle cx="520.7" cy="242.7" r="8.3" fill="#fec7a0"/>
<circle cx="238.3" cy="378.1" r="8.3" fill="#fec7a0"/>
<circle cx="276.8" cy="348.9" r="8.3" fill="#fec7a0"/>
<circle cx="315.3" cy="276.6" r="8.3" fill="#fec7a0"/>
<circle cx="353.8" cy="305.3" r="8.3" fill="#fec7a0"/>
<circle cx="392.3" cy="275.7" r="8.3" fill="#fec7a0"/>
<circle cx="430.8" cy="287.8" r="8.3" fill="#fec7a0"/>
<circle cx="469.3" cy="227.1" r="8.3" fill="#fec7a0"/>
<circle cx="507.9" cy="249.8" r="8.3" fill="#fec7a0"/>
<circle cx="546.4" cy="237.7" r="8.3" fill="#fec7a0"/>
<circle cx="584.9" cy="246.6" r="8.3" fill="#fec7a0"/>
<circle cx="244.7" cy="452.4" r="8.3" fill="#fec7a0"/>
<circle cx="289.6" cy="327.9" r="8.3" fill="#fec7a0"/>
<circle cx="334.6" cy="325.3" r="8.3" fill="#fec7a0"/>
<circle cx="379.5" cy="261.6" r="8.3" fill="#fec7a0"/>
<circle cx="424.4" cy="255.3" r="8.3" fill="#fec7a0"/>
<circle cx="469.3" cy="234.0" r="8.3" fill="#fec7a0"/>
<circle cx="514.3" cy="234.0" r="8.3" fill="#fec7a0"/>
<circle cx="559.2" cy="202.9" r="8.3" fill="#fec7a0"/>
<circle cx="604.1" cy="182.8" r="8.3" fill="#fec7a0"/>
<circle cx="212.6" cy="505.2" r="8.3" fill="#feba91"/>
<circle cx="225.5" cy="421.7" r="8.3" fill="#feba91"/>
<circle cx="238.3" cy="434.1" r="8.3" fill="#feba91"/>
<circle cx="251.1" cy="392.5" r="8.3" fill="#feba91"/>
<circle cx="264.0" cy="403.6" r="8.3" fill="#feba91"/>
<circle cx="276.8" cy="346.9" r="8.3" fill="#feba91"/>
<circle cx="289.6" cy="328.2" r="8.3" fill="#feba91"/>
<circle cx="302.5" cy="282.5" r="8.3" fill="#feba91"/>
<circle cx="315.3" cy="333.3" r="8.3" fill="#feba91"/>
<circle cx="328.2" cy="342.5" r="8.3" fill="#feba91"/>
<circle cx="219.1" cy="488.9" r="8.3" fill="#feba91"/>
<circle cx="238.3" cy="394.4" r="8.3" fill="#feba91"/>
<circle cx="257.6" cy="347.5" r="8.3" fill="#feba91"/>
<circle cx="276.8" cy="384.8" r="8.3" fill="#feba91"/>
<circle cx="296.1" cy="296.0" r="8.3" fill="#feba91"/>
<circle cx="315.3" cy="316.8" r="8.3" fill="#feba91"/>
<circle cx="334.6" cy="321.8" r="8.3" fill="#feba91"/>
<circle cx="353.8" cy="280.3" r="8.3" fill="#feba91"/>
<circle cx="373.1" cy="269.5" r="8.3" fill="#feba91"/>
<circle cx="392.3" cy="280.3" r="8.3" fill="#feba91"/>
<circle cx="225.5" cy="487.0" r="8.3" fill="#feba91"/>
<circle cx="251.1" cy="358.0" r="8.3" fill="#feba91"/>
<circle cx="276.8" cy="394.6" r="8.3" fill="#feba91"/>
<circle cx="302.5" cy="323.0" r="8.3" fill="#feba91"/>
<circle cx="328.2" cy="288.2" r="8.3" fill="#feba91"/>
<circle cx="353.8" cy="310.5" r="8.3" fill="#feba91"/>
<circle cx="379.5" cy="279.2" r="8.3" fill="#feba91"/>
<circle cx="405.2" cy="265.8" r="8.3" fill="#feba91"/>
<circle cx="430.8" cy="263.2" r="8.3" fill="#feba91"/>
<circle cx="456.5" cy="240.9" r="8.3" fill="#feba91"/>
<circle cx="231.9" cy="448.8" r="8.3" fill="#feba91"/>
<circle cx="264.0" cy="352.7" r="8.3" fill="#feba91"/>
<circle cx="296.1" cy="380.4" r="8.3" fill="#feba91"/>
<circle cx="328.2" cy="255.3" r="8.3" fill="#feba91"/>
<circle cx="360.2" cy="268.8" r="8.3" fill="#feba91"/>
<circle cx="392.3" cy="281.6" r="8.3" fill="#feba91"/>
<circle cx="424.4" cy="245.3" r="8.3" fill="#feba91"/>
<circle cx="456.5" cy="265.3" r="8.3" fill="#feba91"/>
<circle cx="488.6" cy="238.7" r="8.3" fill="#feba91"/>
<circle cx="520.7" cy="216.4" r="8.3" fill="#feba91"/>
<circle cx="238.3" cy="466.6" r="8.3" fill="#feba91"/>
<circle cx="276.8" cy="328.7" r="8.3" fill="#feba91"/>
<circle cx="315.3" cy="280.2" r="8.3" fill="#feba91"/>
<circle cx="353.8" cy="285.2" r="8.3" fill="#feba91"/>
<circle cx="392.3" cy="270.2" r="8.3" fill="#feba91"/>
<circle cx="430.8" cy="283.6" r="8.3" fill="#feba91"/>
<circle cx="469.3" cy="240.8" r="8.3" fill="#feba91"/>
<circle cx="507.9" cy="251.3" r="8.3" fill="#feba91"/>
<circle cx="546.4" cy="220.7" r="8.3" fill="#feba91"/>
<circle cx="584.9" cy="228.6" r="8.3" fill="#feba91"/>
<circle cx="244.7" cy="406.6" r="8.3" fill="#feba91"/>
<circle cx="289.6" cy="325.3" r="8.3" fill="#feba91"/>
<circle cx="334.6" cy="290.3" r="8.3" fill="#feba91"/>
<circle cx="379.5" cy="275.8" r="8.3" fill="#feba91"/>
<circle cx="424.4" cy="255.1" r="8.3" fill="#feba91"/>
<circle cx="469.3" cy="223.5" r="8.3" fill="#feba91"/>
<circle cx="514.3" cy="244.2" r="8.3" fill="#feba91"/>
<circle cx="559.2" cy="218.3" r="8.3" fill="#feba91"/>
<circle cx="604.1" cy="182.9" r="8.3" fill="#feba91"/>
<circle cx="212.6" cy="520.8" r="8.3" fill="#feae82"/>
<circle cx="225.5" cy="461.4" r="8.3" fill="#feae82"/>
<circle cx="238.3" cy="388.2" r="8.3" fill="#feae82"/>
<circle cx="251.1" cy="364.8" r="8.3" fill="#feae82"/>
<circle cx="264.0" cy="333.0" r="8.3" fill="#feae82"/>
<circle cx="276.8" cy="386.8" r="8.3" fill="#feae82"/>
<circle cx="289.6" cy="349.5" r="8.3" fill="#feae82"/>
<circle cx="302.5" cy="318.7" r="8.3" fill="#feae82"/>
<circle cx="315.3" cy="316.2" r="8.3" fill="#feae82"/>
<circle cx="328.2" cy="303.2" r="8.3" fill="#feae82"/>
<circle cx="219.1" cy="476.3" r="8.3" fill="#feae82"/>
<circle cx="238.3" cy="421.9" r="8.3" fill="#feae82"/>
<circle cx="257.6" cy="369.0" r="8.3" fill="#feae82"/>
<circle cx="276.8" cy="356.4" r="8.3" fill="#feae82"/>
<circle cx="296.1" cy="341.7" r="8.3" fill="#feae82"/>
<circle cx="315.3" cy="304.1" r="8.3" fill="#feae82"/>
<circle cx="334.6" cy="276.0" r="8.3" fill="#feae82"/>
<circle cx="353.8" cy="287.3" r="8.3" fill="#feae82"/>
<circle cx="373.1" cy="274.6" r="8.3" fill="#feae82"/>
<circle cx="392.3" cy="268.0" r="8.3" fill="#feae82"/>
<circle cx="225.5" cy="439.6" r="8.3" fill="#feae82"/>
<circle cx="251.1" cy="428.1" r="8.3" fill="#feae82"/>
<circle cx="276.8" cy="346.4" r="8.3" fill="#feae82"/>
<circle cx="302.5" cy="333.8" r="8.3" fill="#feae82"/>
<circle cx="328.2" cy="317.7" r="8.3" fill="#feae82"/>
<circle cx="353.8" cy="265.3" r="8.3" fill="#feae82"/>
<circle cx="379.5" cy="286.0" r="8.3" fill="#feae82"/>
<circle cx="405.2" cy="272.2" r="8.3" fill="#feae82"/>
<circle cx="430.8" cy="269.9" r="8.3" fill="#feae82"/>
<circle cx="456.5" cy="257.7" r="8.3" fill="#feae82"/>
<circle cx="231.9" cy="410.4" r="8.3" fill="#feae82"/>
<circle cx="264.0" cy="367.9" r="8.3" fill="#feae82"/>
<circle cx="296.1" cy="396.2" r="8.3" fill="#feae82"/>
<circle cx="328.2" cy="342.3" r="8.3" fill="#feae82"/>
<circle cx="360.2" cy="301.9" r="8.3" fill="#feae82"/>
<circle cx="392.3" cy="283.4" r="8.3" fill="#feae82"/>
<circle cx="424.4" cy="226.2" r="8.3" fill="#feae82"/>
<circle cx="456.5" cy="232.5" r="8.3" fill="#feae82"/>
<circle cx="488.6" cy="232.6" r="8.3" fill="#feae82"/>
<circle cx="520.7" cy="254.0" r="8.3" fill="#feae82"/>
<circle cx="238.3" cy="383.4" r="8.3" fill="#feae82"/>
<circle cx="276.8" cy="408.8" r="8.3" fill="#feae82"/>
<circle cx="315.3" cy="315.1" r="8.3" fill="#feae82"/>
<circle cx="353.8" cy="311.8" r="8.3" fill="#feae82"/>
<circle cx="392.3" cy="268.9" r="8.3" fill="#feae82"/>
<circle cx="430.8" cy="256.9" r="8.3" fill="#feae82"/>
<circle cx="469.3" cy="225.3" r="8.3" fill="#feae82"/>
<circle cx="507.9" cy="251.9" r="8.3" fill="#feae82"/>
<circle cx="546.4" cy="228.5" r="8.3" fill="#feae82"/>
<circle cx="584.9" cy="252.0" r="8.3" fill="#feae82"/>
<circle cx="244.7" cy="368.4" r="8.3" fill="#feae82"/>
<circle cx="289.6" cy="348.2" r="8.3" fill="#feae82"/>
<circle cx="334.6" cy="318.4" r="8.3" fill="#feae82"/>
<circle cx="379.5" cy="277.8" r="8.3" fill="#feae82"/>
<circle cx="424.4" cy="236.0" r="8.3" fill="#feae82"/>
<circle cx="469.3" cy="226.9" r="8.3" fill="#feae82"/>
<circle cx="514.3" cy="245.2" r="8.3" fill="#feae82"/>
<circle cx="559.2" cy="226.0" r="8.3" fill="#feae82"/>
<circle cx="604.1" cy="189.8" r="8.3" fill="#feae82"/>
<circle cx="212.6" cy="494.4" r="8.3" fill="#fea273"/>
<circle cx="225.5" cy="419.2" r="8.3" fill="#fea273"/>
<circle cx="238.3" cy="402.6" r="8.3" fill="#fea273"/>
<circle cx="251.1" cy="345.4" r="8.3" fill="#fea273"/>
<circle cx="264.0" cy="340.5" r="8.3" fill="#fea273"/>
<circle cx="276.8" cy="353.5" r="8.3" fill="#fea273"/>
<circle cx="289.6" cy="368.3" r="8.3" fill="#fea273"/>
<circle cx="302.5" cy="359.3" r="8.3" fill="#fea273"/>
<circle cx="315.3" cy="317.6" r="8.3" fill="#fea273"/>
<circle cx="328.2" cy="291.5" r="8.3" fill="#fea273"/>
<circle cx="219.1" cy="455.8" r="8.3" fill="#fea273"/>
<circle cx="238.3" cy="409.6" r="8.3" fill="#fea273"/>
<circle cx="257.6" cy="431.6" r="8.3" fill="#fea273"/>
<circle cx="276.8" cy="313.3" r="8.3" fill="#fea273"/>
<circle cx="296.1" cy="349.5" r="8.3" fill="#fea273"/>
<circle cx="315.3" cy="291.1" r="8.3" fill="#fea273"/>
<circle cx="334.6" cy="302.3" r="8.3" fill="#fea273"/>
<circle cx="353.8" cy="305.1" r="8.3" fill="#fea273"/>
<circle cx="373.1" cy="311.4" r="8.3" fill="#fea273"/>
<circle cx="392.3" cy="244.7" r="8.3" fill="#fea273"/>
<circle cx="225.5" cy="448.4" r="8.3" fill="#fea273"/>
<circle cx="251.1" cy="339.0" r="8.3" fill="#fea273"/>
<circle cx="276.8" cy="387.2" r="8.3" fill="#fea273"/>
<circle cx="302.5" cy="347.1" r="8.3" fill="#fea273"/>
<circle cx="328.2" cy="303.4" r="8.3" fill="#fea273"/>
<circle cx="353.8" cy="287.1" r="8.3" fill="#fea273"/>
<circle cx="379.5" cy="260.2" r="8.3" fill="#fea273"/>
<circle cx="405.2" cy="251.8" r="8.3" fill="#fea273"/>
<circle cx="430.8" cy="247.7" r="8.3" fill="#fea273"/>
<circle cx="456.5" cy="258.0" r="8.3" fill="#fea273"/>
<circle cx="231.9" cy="392.7" r="8.3" fill="#fea273"/>
<circle cx="264.0" cy="332.6" r="8.3" fill="#fea273"/>
<circle cx="296.1" cy="347.3" r="8.3" fill="#fea273"/>
<circle cx="328.2" cy="324.1" r="8.3" fill="#fea273"/>
<circle cx="360.2" cy="281.9" r="8.3" fill="#fea273"/>
<circle cx="392.3" cy="241.6" r="8.3" fill="#fea273"/>
<circle cx="424.4" cy="246.0" r="8.3" fill="#fea273"/>
<circle cx="456.5" cy="253.6" r="8.3" fill="#fea273"/>
<circle cx="488.6" cy="239.3" r="8.3" fill="#fea273"/>
<circle cx="520.7" cy="263.2" r="8.3" fill="#fea273"/>
<circle cx="238.3" cy="426.8" r="8.3" fill="#fea273"/>
<circle cx="276.8" cy="371.1" r="8.3" fill="#fea273"/>
<circle cx="315.3" cy="317.9" r="8.3" fill="#fea273"/>
<circle cx="353.8" cy="263.1" r="8.3" fill="#fea273"/>
<circle cx="392.3" cy="287.7" r="8.3" fill="#fea273"/>
<circle cx="430.8" cy="271.7" r="8.3" fill="#fea273"/>
<circle cx="469.3" cy="265.0" r="8.3" fill="#fea273"/>
<circle cx="507.9" cy="226.5" r="8.3" fill="#fea273"/>
<circle cx="546.4" cy="212.8" r="8.3" fill="#fea273"/>
<circle cx="584.9" cy="214.6" r="8.3" fill="#fea273"/>
<circle cx="244.7" cy="431.9" r="8.3" fill="#fea273"/>
<circle cx="289.6" cy="338.7" r="8.3" fill="#fea273"/>
<circle cx="334.6" cy="322.1" r="8.3" fill="#fea273"/>
<circle cx="379.5" cy="288.3" r="8.3" fill="#fea273"/>
<circle cx="424.4" cy="260.9" r="8.3" fill="#fea273"/>
<circle cx="469.3" cy="262.0" r="8.3" fill="#fea273"/>
<circle cx="514.3" cy="236.3" r="8.3" fill="#fea273"/>
<circle cx="559.2" cy="234.2" r="8.3" fill="#fea273"/>
<circle cx="604.1" cy="207.8" r="8.3" fill="#fea273"/>
<circle cx="212.6" cy="518.0" r="8.3" fill="#fe9564"/>
<circle cx="225.5" cy="440.2" r="8.3" fill="#fe9564"/>
<circle cx="238.3" cy="425.4" r="8.3" fill="#fe9564"/>
<circle cx="251.1" cy="356.7" r="8.3" fill="#fe9564"/>
<circle cx="264.0" cy="334.0" r="8.3" fill="#fe9564"/>
<circle cx="276.8" cy="393.7" r="8.3" fill="#fe9564"/>
<circle cx="289.6" cy="379.6" r="8.3" fill="#fe9564"/>
<circle cx="302.5" cy="306.0" r="8.3" fill="#fe9564"/>
<circle cx="315.3" cy="335.5" r="8.3" fill="#fe9564"/>
<circle cx="328.2" cy="318.1" r="8.3" fill="#fe9564"/>
<circle cx="219.1" cy="483.0" r="8.3" fill="#fe9564"/>
<circle cx="238.3" cy="415.2" r="8.3" fill="#fe9564"/>
<circle cx="257.6" cy="406.5" r="8.3" fill="#fe9564"/>
<circle cx="276.8" cy="393.2" r="8.3" fill="#fe9564"/>
<circle cx="296.1" cy="338.4" r="8.3" fill="#fe9564"/>
<circle cx="315.3" cy="289.5" r="8.3" fill="#fe9564"/>
<circle cx="334.6" cy="331.2" r="8.3" fill="#fe9564"/>
<circle cx="353.8" cy="304.9" r="8.3" fill="#fe9564"/>
<circle cx="373.1" cy="268.6" r="8.3" fill="#fe9564"/>
<circle cx="392.3" cy="248.6" r="8.3" fill="#fe9564"/>
<circle cx="225.5" cy="472.0" r="8.3" fill="#fe9564"/>
<circle cx="251.1" cy="365.0" r="8.3" fill="#fe9564"/>
<circle cx="276.8" cy="351.3" r="8.3" fill="#fe9564"/>
<circle cx="302.5" cy="361.7" r="8.3" fill="#fe9564"/>
<circle cx="328.2" cy="289.6" r="8.3" fill="#fe9564"/>
<circle cx="353.8" cy="301.7" r="8.3" fill="#fe9564"/>
<circle cx="379.5" cy="280.8" r="8.3" fill="#fe9564"/>
<circle cx="405.2" cy="270.9" r="8.3" fill="#fe9564"/>
<circle cx="430.8" cy="247.5" r="8.3" fill="#fe9564"/>
<circle cx="456.5" cy="236.2" r="8.3" fill="#fe9564"/>
<circle cx="231.9" cy="431.6" r="8.3" fill="#fe9564"/>
<circle cx="264.0" cy="371.5" r="8.3" fill="#fe9564"/>
<circle cx="296.1" cy="335.6" r="8.3" fill="#fe9564"/>
<circle cx="328.2" cy="308.7" r="8.3" fill="#fe9564"/>
<circle cx="360.2" cy="270.1" r="8.3" fill="#fe9564"/>
<circle cx="392.3" cy="275.5" r="8.3" fill="#fe9564"/>
<circle cx="424.4" cy="268.9" r="8.3" fill="#fe9564"/>
<circle cx="456.5" cy="248.9" r="8.3" fill="#fe9564"/>
<circle cx="488.6" cy="232.1" r="8.3" fill="#fe9564"/>
<circle cx="520.7" cy="233.0" r="8.3" fill="#fe9564"/>
<circle cx="238.3" cy="406.1" r="8.3" fill="#fe9564"/>
<circle cx="276.8" cy="385.9" r="8.3" fill="#fe9564"/>
<circle cx="315.3" cy="303.9" r="8.3" fill="#fe9564"/>
<circle cx="353.8" cy="290.6" r="8.3" fill="#fe9564"/>
<circle cx="392.3" cy="282.8" r="8.3" fill="#fe9564"/>
<circle cx="430.8" cy="249.5" r="8.3" fill="#fe9564"/>
<circle cx="469.3" cy="235.7" r="8.3" fill="#fe9564"/>
<circle cx="507.9" cy="238.3" r="8.3" fill="#fe9564"/>
<circle cx="546.4" cy="210.8" r="8.3" fill="#fe9564"/>
<circle cx="584.9" cy="224.8" r="8.3" fill="#fe9564"/>
<circle cx="244.7" cy="424.0" r="8.3" fill="#fe9564"/>
<circle cx="289.6" cy="308.6" r="8.3" fill="#fe9564"/>
<circle cx="334.6" cy="294.5" r="8.3" fill="#fe9564"/>
<circle cx="379.5" cy="286.3" r="8.3" fill="#fe9564"/>
<circle cx="424.4" cy="255.9" r="8.3" fill="#fe9564"/>
<circle cx="469.3" cy="214.8" r="8.3" fill="#fe9564"/>
<circle cx="514.3" cy="252.4" r="8.3" fill="#fe9564"/>
<circle cx="559.2" cy="219.0" r="8.3" fill="#fe9564"/>
<circle cx="604.1" cy="205.1" r="8.3" fill="#fe9564"/>
<circle cx="212.6" cy="511.6" r="8.3" fill="#fd8855"/>
<circle cx="225.5" cy="416.7" r="8.3" fill="#fd8855"/>
<circle cx="238.3" cy="389.4" r="8.3" fill="#fd8855"/>
<circle cx="251.1" cy="388.4" r="8.3" fill="#fd8855"/>
<circle cx="264.0" cy="360.5" r="8.3" fill="#fd8855"/>
<circle cx="276.8" cy="359.6" r="8.3" fill="#fd8855"/>
<circle cx="289.6" cy="357.9" r="8.3" fill="#fd8855"/>
<circle cx="302.5" cy="334.5" r="8.3" fill="#fd8855"/>
<circle cx="315.3" cy="348.1" r="8.3" fill="#fd8855"/>
<circle cx="328.2" cy="276.0" r="8.3" fill="#fd8855"/>
<circle cx="219.1" cy="476.6" r="8.3" fill="#fd8855"/>
<circle cx="238.3" cy="456.7" r="8.3" fill="#fd8855"/>
<circle cx="257.6" cy="420.6" r="8.3" fill="#fd8855"/>
<circle cx="276.8" cy="401.0" r="8.3" fill="#fd8855"/>
<circle cx="296.1" cy="327.3" r="8.3" fill="#fd8855"/>
<circle cx="315.3" cy="290.2" r="8.3" fill="#fd8855"/>
<circle cx="334.6" cy="289.7" r="8.3" fill="#fd8855"/>
<circle cx="353.8" cy="310.5" r="8.3" fill="#fd8855"/>
<circle cx="373.1" cy="301.5" r="8.3" fill="#fd8855"/>
<circle cx="392.3" cy="260.6" r="8.3" fill="#fd8855"/>
<circle cx="225.5" cy="402.9" r="8.3" fill="#fd8855"/>
<circle cx="251.1" cy="421.7" r="8.3" fill="#fd8855"/>
<circle cx="276.8" cy="342.7" r="8.3" fill="#fd8855"/>
<circle cx="302.5" cy="325.1" r="8.3" fill="#fd8855"/>
<circle cx="328.2" cy="292.7" r="8.3" fill="#fd8855"/>
<circle cx="353.8" cy="277.7" r="8.3" fill="#fd8855"/>
<circle cx="379.5" cy="273.7" r="8.3" fill="#fd8855"/>
<circle cx="405.2" cy="283.4" r="8.3" fill="#fd8855"/>
<circle cx="430.8" cy="269.6" r="8.3" fill="#fd8855"/>
<circle cx="456.5" cy="252.8" r="8.3" fill="#fd8855"/>
<circle cx="231.9" cy="441.5" r="8.3" fill="#fd8855"/>
<circle cx="264.0" cy="389.3" r="8.3" fill="#fd8855"/>
<circle cx="296.1" cy="342.0" r="8.3" fill="#fd8855"/>
<circle cx="328.2" cy="317.6" r="8.3" fill="#fd8855"/>
<circle cx="360.2" cy="270.4" r="8.3" fill="#fd8855"/>
<circle cx="392.3" cy="295.1" r="8.3" fill="#fd8855"/>
<circle cx="424.4" cy="232.4" r="8.3" fill="#fd8855"/>
<circle cx="456.5" cy="255.6" r="8.3" fill="#fd8855"/>
<circle cx="488.6" cy="227.3" r="8.3" fill="#fd8855"/>
<circle cx="520.7" cy="223.5" r="8.3" fill="#fd8855"/>
<circle cx="238.3" cy="451.1" r="8.3" fill="#fd8855"/>
<circle cx="276.8" cy="367.0" r="8.3" fill="#fd8855"/>
<circle cx="315.3" cy="349.2" r="8.3" fill="#fd8855"/>
<circle cx="353.8" cy="296.4" r="8.3" fill="#fd8855"/>
<circle cx="392.3" cy="265.4" r="8.3" fill="#fd8855"/>
<circle cx="430.8" cy="240.9" r="8.3" fill="#fd8855"/>
<circle cx="469.3" cy="237.5" r="8.3" fill="#fd8855"/>
<circle cx="507.9" cy="213.5" r="8.3" fill="#fd8855"/>
<circle cx="546.4" cy="224.7" r="8.3" fill="#fd8855"/>
<circle cx="584.9" cy="198.8" r="8.3" fill="#fd8855"/>
<circle cx="244.7" cy="410.4" r="8.3" fill="#fd8855"/>
<circle cx="289.6" cy="368.7" r="8.3" fill="#fd8855"/>
<circle cx="334.6" cy="336.2" r="8.3" fill="#fd8855"/>
<circle cx="379.5" cy="285.7" r="8.3" fill="#fd8855"/>
<circle cx="424.4" cy="276.7" r="8.3" fill="#fd8855"/>
<circle cx="469.3" cy="223.2" r="8.3" fill="#fd8855"/>
<circle cx="514.3" cy="249.4" r="8.3" fill="#fd8855"/>
<circle cx="559.2" cy="203.4" r="8.3" fill="#fd8855"/>
<circle cx="604.1" cy="196.0" r="8.3" fill="#fd8855"/>
<circle cx="212.6" cy="505.9" r="8.3" fill="#fd7c46"/>
<circle cx="225.5" cy="422.5" r="8.3" fill="#fd7c46"/>
<circle cx="238.3" cy="451.2" r="8.3" fill="#fd7c46"/>
<circle cx="251.1" cy="359.8" r="8.3" fill="#fd7c46"/>
<circle cx="264.0" cy="368.1" r="8.3" fill="#fd7c46"/>
<circle cx="276.8" cy="405.9" r="8.3" fill="#fd7c46"/>
<circle cx="289.6" cy="385.9" r="8.3" fill="#fd7c46"/>
<circle cx="302.5" cy="351.7" r="8.3" fill="#fd7c46"/>
<circle cx="315.3" cy="359.0" r="8.3" fill="#fd7c46"/>
<circle cx="328.2" cy="271.9" r="8.3" fill="#fd7c46"/>
<circle cx="219.1" cy="496.2" r="8.3" fill="#fd7c46"/>
<circle cx="238.3" cy="394.1" r="8.3" fill="#fd7c46"/>
<circle cx="257.6" cy="368.1" r="8.3" fill="#fd7c46"/>
<circle cx="276.8" cy="375.0" r="8.3" fill="#fd7c46"/>
<circle cx="296.1" cy="335.2" r="8.3" fill="#fd7c46"/>
<circle cx="315.3" cy="297.5" r="8.3" fill="#fd7c46"/>
<circle cx="334.6" cy="257.1" r="8.3" fill="#fd7c46"/>
<circle cx="353.8" cy="277.2" r="8.3" fill="#fd7c46"/>
<circle cx="373.1" cy="302.8" r="8.3" fill="#fd7c46"/>
<circle cx="392.3" cy="278.6" r="8.3" fill="#fd7c46"/>
<circle cx="225.5" cy="446.3" r="8.3" fill="#fd7c46"/>
<circle cx="251.1" cy="359.3" r="8.3" fill="#fd7c46"/>
<circle cx="276.8" cy="373.8" r="8.3" fill="#fd7c46"/>
<circle cx="302.5" cy="322.1" r="8.3" fill="#fd7c46"/>
<circle cx="328.2" cy="278.9" r="8.3" fill="#fd7c46"/>
<circle cx="353.8" cy="296.8" r="8.3" fill="#fd7c46"/>
<circle cx="379.5" cy="280.4" r="8.3" fill="#fd7c46"/>
<circle cx="405.2" cy="269.1" r="8.3" fill="#fd7c46"/>
<circle cx="430.8" cy="273.3" r="8.3" fill="#fd7c46"/>
<circle cx="456.5" cy="255.8" r="8.3" fill="#fd7c46"/>
<circle cx="231.9" cy="414.1" r="8.3" fill="#fd7c46"/>
<circle cx="264.0" cy="348.4" r="8.3" fill="#fd7c46"/>
<circle cx="296.1" cy="332.5" r="8.3" fill="#fd7c46"/>
<circle cx="328.2" cy="292.6" r="8.3" fill="#fd7c46"/>
<circle cx="360.2" cy="277.9" r="8.3" fill="#fd7c46"/>
<circle cx="392.3" cy="276.2" r="8.3" fill="#fd7c46"/>
<circle cx="424.4" cy="226.7" r="8.3" fill="#fd7c46"/>
<circle cx="456.5" cy="246.0" r="8.3" fill="#fd7c46"/>
<circle cx="488.6" cy="243.2" r="8.3" fill="#fd7c46"/>
<circle cx="520.7" cy="262.9" r="8.3" fill="#fd7c46"/>
<circle cx="238.3" cy="406.4" r="8.3" fill="#fd7c46"/>
<circle cx="276.8" cy="338.2" r="8.3" fill="#fd7c46"/>
<circle cx="315.3" cy="338.8" r="8.3" fill="#fd7c46"/>
<circle cx="353.8" cy="304.6" r="8.3" fill="#fd7c46"/>
<circle cx="392.3" cy="257.7" r="8.3" fill="#fd7c46"/>
<circle cx="430.8" cy="263.4" r="8.3" fill="#fd7c46"/>
<circle cx="469.3" cy="234.6" r="8.3" fill="#fd7c46"/>
<circle cx="507.9" cy="216.7" r="8.3" fill="#fd7c46"/>
<circle cx="546.4" cy="230.7" r="8.3" fill="#fd7c46"/>
<circle cx="584.9" cy="204.6" r="8.3" fill="#fd7c46"/>
<circle cx="244.7" cy="429.5" r="8.3" fill="#fd7c46"/>
<circle cx="289.6" cy="365.0" r="8.3" fill="#fd7c46"/>
<circle cx="334.6" cy="310.3" r="8.3" fill="#fd7c46"/>
<circle cx="379.5" cy="254.8" r="8.3" fill="#fd7c46"/>
<circle cx="424.4" cy="263.8" r="8.3" fill="#fd7c46"/>
<circle cx="469.3" cy="222.8" r="8.3" fill="#fd7c46"/>
<circle cx="514.3" cy="236.5" r="8.3" fill="#fd7c46"/>
<circle cx="559.2" cy="231.0" r="8.3" fill="#fd7c46"/>
<circle cx="604.1" cy="206.5" r="8.3" fill="#fd7c46"/>
<circle cx="212.6" cy="492.7" r="8.3" fill="#fd7037"/>
<circle cx="225.5" cy="473.5" r="8.3" fill="#fd7037"/>
<circle cx="238.3" cy="447.7" r="8.3" fill="#fd7037"/>
<circle cx="251.1" cy="388.9" r="8.3" fill="#fd7037"/>
<circle cx="264.0" cy="408.3" r="8.3" fill="#fd7037"/>
<circle cx="276.8" cy="322.1" r="8.3" fill="#fd7037"/>
<circle cx="289.6" cy="361.9" r="8.3" fill="#fd7037"/>
<circle cx="302.5" cy="310.7" r="8.3" fill="#fd7037"/>
<circle cx="315.3" cy="307.4" r="8.3" fill="#fd7037"/>
<circle cx="328.2" cy="296.5" r="8.3" fill="#fd7037"/>
<circle cx="219.1" cy="485.8" r="8.3" fill="#fd7037"/>
<circle cx="238.3" cy="410.2" r="8.3" fill="#fd7037"/>
<circle cx="257.6" cy="345.6" r="8.3" fill="#fd7037"/>
<circle cx="276.8" cy="395.9" r="8.3" fill="#fd7037"/>
<circle cx="296.1" cy="352.3" r="8.3" fill="#fd7037"/>
<circle cx="315.3" cy="303.7" r="8.3" fill="#fd7037"/>
<circle cx="334.6" cy="302.3" r="8.3" fill="#fd7037"/>
<circle cx="353.8" cy="303.5" r="8.3" fill="#fd7037"/>
<circle cx="373.1" cy="286.1" r="8.3" fill="#fd7037"/>
<circle cx="392.3" cy="292.4" r="8.3" fill="#fd7037"/>
<circle cx="225.5" cy="453.5" r="8.3" fill="#fd7037"/>
<circle cx="251.1" cy="404.0" r="8.3" fill="#fd7037"/>
<circle cx="276.8" cy="369.9" r="8.3" fill="#fd7037"/>
<circle cx="302.5" cy="337.1" r="8.3" fill="#fd7037"/>
<circle cx="328.2" cy="356.9" r="8.3" fill="#fd7037"/>
<circle cx="353.8" cy="271.9" r="8.3" fill="#fd7037"/>
<circle cx="379.5" cy="282.4" r="8.3" fill="#fd7037"/>
<circle cx="405.2" cy="260.9" r="8.3" fill="#fd7037"/>
<circle cx="430.8" cy="251.0" r="8.3" fill="#fd7037"/>
<circle cx="456.5" cy="261.0" r="8.3" fill="#fd7037"/>
<circle cx="231.9" cy="455.2" r="8.3" fill="#fd7037"/>
<circle cx="264.0" cy="422.7" r="8.3" fill="#fd7037"/>
<circle cx="296.1" cy="352.2" r="8.3" fill="#fd7037"/>
<circle cx="328.2" cy="335.4" r="8.3" fill="#fd7037"/>
<circle cx="360.2" cy="288.8" r="8.3" fill="#fd7037"/>
<circle cx="392.3" cy="283.6" r="8.3" fill="#fd7037"/>
<circle cx="424.4" cy="245.2" r="8.3" fill="#fd7037"/>
<circle cx="456.5" cy="248.6" r="8.3" fill="#fd7037"/>
<circle cx="488.6" cy="236.4" r="8.3" fill="#fd7037"/>
<circle cx="520.7" cy="275.0" r="8.3" fill="#fd7037"/>
<circle cx="238.3" cy="403.4" r="8.3" fill="#fd7037"/>
<circle cx="276.8" cy="363.4" r="8.3" fill="#fd7037"/>
<circle cx="315.3" cy="315.3" r="8.3" fill="#fd7037"/>
<circle cx="353.8" cy="274.1" r="8.3" fill="#fd7037"/>
<circle cx="392.3" cy="299.7" r="8.3" fill="#fd7037"/>
<circle cx="430.8" cy="240.6" r="8.3" fill="#fd7037"/>
<circle cx="469.3" cy="221.7" r="8.3" fill="#fd7037"/>
<circle cx="507.9" cy="244.2" r="8.3" fill="#fd7037"/>
<circle cx="546.4" cy="217.6" r="8.3" fill="#fd7037"/>
<circle cx="584.9" cy="244.3" r="8.3" fill="#fd7037"/>
<circle cx="244.7" cy="412.4" r="8.3" fill="#fd7037"/>
<circle cx="289.6" cy="343.5" r="8.3" fill="#fd7037"/>
<circle cx="334.6" cy="307.4" r="8.3" fill="#fd7037"/>
<circle cx="379.5" cy="264.1" r="8.3" fill="#fd7037"/>
<circle cx="424.4" cy="253.3" r="8.3" fill="#fd7037"/>
<circle cx="469.3" cy="231.5" r="8.3" fill="#fd7037"/>
<circle cx="514.3" cy="233.0" r="8.3" fill="#fd7037"/>
<circle cx="559.2" cy="232.7" r="8.3" fill="#fd7037"/>
<circle cx="604.1" cy="182.1" r="8.3" fill="#fd7037"/>
<circle cx="212.6" cy="492.0" r="8.3" fill="#fd6328"/>
<circle cx="225.5" cy="472.5" r="8.3" fill="#fd6328"/>
<circle cx="238.3" cy="403.5" r="8.3" fill="#fd6328"/>
<circle cx="251.1" cy="348.3" r="8.3" fill="#fd6328"/>
<circle cx="264.0" cy="385.0" r="8.3" fill="#fd6328"/>
<circle cx="276.8" cy="335.5" r="8.3" fill="#fd6328"/>
<circle cx="289.6" cy="378.7" r="8.3" fill="#fd6328"/>
<circle cx="302.5" cy="334.5" r="8.3" fill="#fd6328"/>
<circle cx="315.3" cy="324.1" r="8.3" fill="#fd6328"/>
<circle cx="328.2" cy="309.8" r="8.3" fill="#fd6328"/>
<circle cx="219.1" cy="493.5" r="8.3" fill="#fd6328"/>
<circle cx="238.3" cy="413.1" r="8.3" fill="#fd6328"/>
<circle cx="257.6" cy="421.9" r="8.3" fill="#fd6328"/>
<circle cx="276.8" cy="370.3" r="8.3" fill="#fd6328"/>
<circle cx="296.1" cy="345.7" r="8.3" fill="#fd6328"/>
<circle cx="315.3" cy="328.0" r="8.3" fill="#fd6328"/>
<circle cx="334.6" cy="281.6" r="8.3" fill="#fd6328"/>
<circle cx="353.8" cy="269.9" r="8.3" fill="#fd6328"/>
<circle cx="373.1" cy="273.1" r="8.3" fill="#fd6328"/>
<circle cx="392.3" cy="245.2" r="8.3" fill="#fd6328"/>
<circle cx="225.5" cy="408.1" r="8.3" fill="#fd6328"/>
<circle cx="251.1" cy="345.9" r="8.3" fill="#fd6328"/>
<circle cx="276.8" cy="364.2" r="8.3" fill="#fd6328"/>
<circle cx="302.5" cy="375.5" r="8.3" fill="#fd6328"/>
<circle cx="328.2" cy="276.2" r="8.3" fill="#fd6328"/>
<circle cx="353.8" cy="282.0" r="8.3" fill="#fd6328"/>
<circle cx="379.5" cy="281.1" r="8.3" fill="#fd6328"/>
<circle cx="405.2" cy="272.1" r="8.3" fill="#fd6328"/>
<circle cx="430.8" cy="280.8" r="8.3" fill="#fd6328"/>
<circle cx="456.5" cy="274.9" r="8.3" fill="#fd6328"/>
<circle cx="231.9" cy="434.3" r="8.3" fill="#fd6328"/>
<circle cx="264.0" cy="400.7" r="8.3" fill="#fd6328"/>
<circle cx="296.1" cy="341.8" r="8.3" fill="#fd6328"/>
<circle cx="328.2" cy="312.4" r="8.3" fill="#fd6328"/>
<circle cx="360.2" cy="275.5" r="8.3" fill="#fd6328"/>
<circle cx="392.3" cy="294.0" r="8.3" fill="#fd6328"/>
<circle cx="424.4" cy="228.4" r="8.3" fill="#fd6328"/>
<circle cx="456.5" cy="256.8" r="8.3" fill="#fd6328"/>
<circle cx="488.6" cy="241.7" r="8.3" fill="#fd6328"/>
<circle cx="520.7" cy="230.2" r="8.3" fill="#fd6328"/>
<circle cx="238.3" cy="394.6" r="8.3" fill="#fd6328"/>
<circle cx="276.8" cy="382.6" r="8.3" fill="#fd6328"/>
<circle cx="315.3" cy="305.3" r="8.3" fill="#fd6328"/>
<circle cx="353.8" cy="272.1" r="8.3" fill="#fd6328"/>
<circle cx="392.3" cy="283.0" r="8.3" fill="#fd6328"/>
<circle cx="430.8" cy="292.8" r="8.3" fill="#fd6328"/>
<circle cx="469.3" cy="233.7" r="8.3" fill="#fd6328"/>
<circle cx="507.9" cy="252.2" r="8.3" fill="#fd6328"/>
<circle cx="546.4" cy="209.0" r="8.3" fill="#fd6328"/>
<circle cx="584.9" cy="229.7" r="8.3" fill="#fd6328"/>
<circle cx="244.7" cy="423.7" r="8.3" fill="#fd6328"/>
<circle cx="289.6" cy="396.8" r="8.3" fill="#fd6328"/>
<circle cx="334.6" cy="280.6" r="8.3" fill="#fd6328"/>
<circle cx="379.5" cy="292.4" r="8.3" fill="#fd6328"/>
<circle cx="424.4" cy="222.6" r="8.3" fill="#fd6328"/>
<circle cx="469.3" cy="262.8" r="8.3" fill="#fd6328"/>
<circle cx="514.3" cy="222.3" r="8.3" fill="#fd6328"/>
<circle cx="559.2" cy="224.0" r="8.3" fill="#fd6328"/>
<circle cx="604.1" cy="209.8" r="8.3" fill="#fd6328"/>
<circle cx="212.6" cy="527.8" r="8.3" fill="#fd5619"/>
<circle cx="225.5" cy="416.1" r="8.3" fill="#fd5619"/>
<circle cx="238.3" cy="447.7" r="8.3" fill="#fd5619"/>
<circle cx="251.1" cy="366.4" r="8.3" fill="#fd5619"/>
<circle cx="264.0" cy="390.8" r="8.3" fill="#fd5619"/>
<circle cx="276.8" cy="371.5" r="8.3" fill="#fd5619"/>
<circle cx="289.6" cy="350.9" r="8.3" fill="#fd5619"/>
<circle cx="302.5" cy="374.7" r="8.3" fill="#fd5619"/>
<circle cx="315.3" cy="305.6" r="8.3" fill="#fd5619"/>
<circle cx="328.2" cy="275.4" r="8.3" fill="#fd5619"/>
<circle cx="219.1" cy="459.8" r="8.3" fill="#fd5619"/>
<circle cx="238.3" cy="394.3" r="8.3" fill="#fd5619"/>
<circle cx="257.6" cy="377.3" r="8.3" fill="#fd5619"/>
<circle cx="276.8" cy="361.7" r="8.3" fill="#fd5619"/>
<circle cx="296.1" cy="336.5" r="8.3" fill="#fd5619"/>
<circle cx="315.3" cy="353.7" r="8.3" fill="#fd5619"/>
<circle cx="334.6" cy="289.9" r="8.3" fill="#fd5619"/>
<circle cx="353.8" cy="301.8" r="8.3" fill="#fd5619"/>
<circle cx="373.1" cy="280.7" r="8.3" fill="#fd5619"/>
<circle cx="392.3" cy="286.5" r="8.3" fill="#fd5619"/>
<circle cx="225.5" cy="431.5" r="8.3" fill="#fd5619"/>
<circle cx="251.1" cy="394.6" r="8.3" fill="#fd5619"/>
<circle cx="276.8" cy="330.5" r="8.3" fill="#fd5619"/>
<circle cx="302.5" cy="308.6" r="8.3" fill="#fd5619"/>
<circle cx="328.2" cy="271.4" r="8.3" fill="#fd5619"/>
<circle cx="353.8" cy="276.9" r="8.3" fill="#fd5619"/>
<circle cx="379.5" cy="237.1" r="8.3" fill="#fd5619"/>
<circle cx="405.2" cy="262.0" r="8.3" fill="#fd5619"/>
<circle cx="430.8" cy="229.9" r="8.3" fill="#fd5619"/>
<circle cx="456.5" cy="247.9" r="8.3" fill="#fd5619"/>
<circle cx="231.9" cy="422.3" r="8.3" fill="#fd5619"/>
<circle cx="264.0" cy="366.0" r="8.3" fill="#fd5619"/>
<circle cx="296.1" cy="384.5" r="8.3" fill="#fd5619"/>
<circle cx="328.2" cy="303.8" r="8.3" fill="#fd5619"/>
<circle cx="360.2" cy="270.1" r="8.3" fill="#fd5619"/>
<circle cx="392.3" cy="280.7" r="8.3" fill="#fd5619"/>
<circle cx="424.4" cy="245.8" r="8.3" fill="#fd5619"/>
<circle cx="456.5" cy="263.7" r="8.3" fill="#fd5619"/>
<circle cx="488.6" cy="258.9" r="8.3" fill="#fd5619"/>
<circle cx="520.7" cy="250.4" r="8.3" fill="#fd5619"/>
<circle cx="238.3" cy="462.4" r="8.3" fill="#fd5619"/>
<circle cx="276.8" cy="341.6" r="8.3" fill="#fd5619"/>
<circle cx="315.3" cy="318.5" r="8.3" fill="#fd5619"/>
<circle cx="353.8" cy="273.2" r="8.3" fill="#fd5619"/>
<circle cx="392.3" cy="241.6" r="8.3" fill="#fd5619"/>
<circle cx="430.8" cy="259.7" r="8.3" fill="#fd5619"/>
<circle cx="469.3" cy="244.6" r="8.3" fill="#fd5619"/>
<circle cx="507.9" cy="227.5" r="8.3" fill="#fd5619"/>
<circle cx="546.4" cy="220.9" r="8.3" fill="#fd5619"/>
<circle cx="584.9" cy="213.8" r="8.3" fill="#fd5619"/>
<circle cx="244.7" cy="391.3" r="8.3" fill="#fd5619"/>
<circle cx="289.6" cy="326.0" r="8.3" fill="#fd5619"/>
<circle cx="334.6" cy="342.1" r="8.3" fill="#fd5619"/>
<circle cx="379.5" cy="271.3" r="8.3" fill="#fd5619"/>
<circle cx="424.4" cy="266.8" r="8.3" fill="#fd5619"/>
<circle cx="469.3" cy="256.5" r="8.3" fill="#fd5619"/>
<circle cx="514.3" cy="242.5" r="8.3" fill="#fd5619"/>
<circle cx="559.2" cy="201.3" r="8.3" fill="#fd5619"/>
<circle cx="604.1" cy="196.9" r="8.3" fill="#fd5619"/>
<circle cx="212.6" cy="520.0" r="8.3" fill="#aadde6"/>
<circle cx="225.5" cy="463.7" r="8.3" fill="#aadde6"/>
<circle cx="238.3" cy="405.3" r="8.3" fill="#aadde6"/>
<circle cx="251.1" cy="399.2" r="8.3" fill="#aadde6"/>
<circle cx="264.0" cy="336.7" r="8.3" fill="#aadde6"/>
<circle cx="276.8" cy="368.0" r="8.3" fill="#aadde6"/>
<circle cx="289.6" cy="362.3" r="8.3" fill="#aadde6"/>
<circle cx="302.5" cy="335.5" r="8.3" fill="#aadde6"/>
<circle cx="315.3" cy="354.0" r="8.3" fill="#aadde6"/>
<circle cx="328.2" cy="286.6" r="8.3" fill="#aadde6"/>
<circle cx="219.1" cy="466.1" r="8.3" fill="#aadde6"/>
<circle cx="238.3" cy="398.3" r="8.3" fill="#aadde6"/>
<circle cx="257.6" cy="362.9" r="8.3" fill="#aadde6"/>
<circle cx="276.8" cy="356.9" r="8.3" fill="#aadde6"/>
<circle cx="296.1" cy="326.8" r="8.3" fill="#aadde6"/>
<circle cx="315.3" cy="336.7" r="8.3" fill="#aadde6"/>
<circle cx="334.6" cy="334.8" r="8.3" fill="#aadde6"/>
<circle cx="353.8" cy="283.1" r="8.3" fill="#aadde6"/>
<circle cx="373.1" cy="278.0" r="8.3" fill="#aadde6"/>
<circle cx="392.3" cy="273.9" r="8.3" fill="#aadde6"/>
<circle cx="225.5" cy="433.6" r="8.3" fill="#aadde6"/>
<circle cx="251.1" cy="381.1" r="8.3" fill="#aadde6"/>
<circle cx="276.8" cy="364.8" r="8.3" fill="#aadde6"/>
<circle cx="302.5" cy="352.6" r="8.3" fill="#aadde6"/>
<circle cx="328.2" cy="329.5" r="8.3" fill="#aadde6"/>
<circle cx="353.8" cy="286.0" r="8.3" fill="#aadde6"/>
<circle cx="379.5" cy="270.1" r="8.3" fill="#aadde6"/>
<circle cx="405.2" cy="250.0" r="8.3" fill="#aadde6"/>
<circle cx="430.8" cy="261.1" r="8.3" fill="#aadde6"/>
<circle cx="456.5" cy="257.4" r="8.3" fill="#aadde6"/>
<circle cx="231.9" cy="444.6" r="8.3" fill="#aadde6"/>
<circle cx="264.0" cy="371.3" r="8.3" fill="#aadde6"/>
<circle cx="296.1" cy="378.1" r="8.3" fill="#aadde6"/>
<circle cx="328.2" cy="301.6" r="8.3" fill="#aadde6"/>
<circle cx="360.2" cy="277.5" r="8.3" fill="#aadde6"/>
<circle cx="392.3" cy="266.9" r="8.3" fill="#aadde6"/>
<circle cx="424.4" cy="241.1" r="8.3" fill="#aadde6"/>
<circle cx="456.5" cy="240.1" r="8.3" fill="#aadde6"/>
<circle cx="488.6" cy="249.3" r="8.3" fill="#aadde6"/>
<circle cx="520.7" cy="227.4" r="8.3" fill="#aadde6"/>
<circle cx="238.3" cy="385.2" r="8.3" fill="#aadde6"/>
<circle cx="276.8" cy="352.3" r="8.3" fill="#aadde6"/>
<circle cx="315.3" cy="327.1" r="8.3" fill="#aadde6"/>
<circle cx="353.8" cy="298.8" r="8.3" fill="#aadde6"/>
<circle cx="392.3" cy="284.7" r="8.3" fill="#aadde6"/>
<circle cx="430.8" cy="253.2" r="8.3" fill="#aadde6"/>
<circle cx="469.3" cy="247.6" r="8.3" fill="#aadde6"/>
<circle cx="507.9" cy="235.2" r="8.3" fill="#aadde6"/>
<circle cx="546.4" cy="213.1" r="8.3" fill="#aadde6"/>
<circle cx="584.9" cy="217.0" r="8.3" fill="#aadde6"/>
<circle cx="244.7" cy="376.5" r="8.3" fill="#aadde6"/>
<circle cx="289.6" cy="342.1" r="8.3" fill="#aadde6"/>
<circle cx="334.6" cy="277.7" r="8.3" fill="#aadde6"/>
<circle cx="379.5" cy="288.1" r="8.3" fill="#aadde6"/>
<circle cx="424.4" cy="237.0" r="8.3" fill="#aadde6"/>
<circle cx="469.3" cy="233.6" r="8.3" fill="#aadde6"/>
<circle cx="514.3" cy="233.8" r="8.3" fill="#aadde6"/>
<circle cx="559.2" cy="205.2" r="8.3" fill="#aadde6"/>
<circle cx="604.1" cy="201.0" r="8.3" fill="#aadde6"/>
<circle cx="289.6" cy="404.6" r="8.3" fill="#aadde6"/>
<circle cx="276.8" cy="426.5" r="8.3" fill="#aadde6"/>
<circle cx="264.0" cy="319.2" r="8.3" fill="#aadde6"/>
<circle cx="353.8" cy="261.9" r="8.3" fill="#aadde6"/>
<circle cx="379.5" cy="243.0" r="8.3" fill="#aadde6"/>
<circle cx="353.8" cy="264.0" r="8.3" fill="#aadde6"/>
<circle cx="360.2" cy="326.5" r="8.3" fill="#aadde6"/>
<circle cx="379.5" cy="236.9" r="8.3" fill="#aadde6"/>
<circle cx="649.0" cy="182.9" r="8.3" fill="#aadde6"/>
<circle cx="584.9" cy="205.5" r="8.3" fill="#aadde6"/>
<circle cx="520.7" cy="221.7" r="8.3" fill="#aadde6"/>
<circle cx="212.6" cy="524.0" r="8.3" fill="#aadde6"/>
<circle cx="212.6" cy="522.8" r="8.3" fill="#8fa9c9"/>
<circle cx="225.5" cy="449.2" r="8.3" fill="#8fa9c9"/>
<circle cx="238.3" cy="391.1" r="8.3" fill="#8fa9c9"/>
<circle cx="251.1" cy="369.2" r="8.3" fill="#8fa9c9"/>
<circle cx="264.0" cy="382.0" r="8.3" fill="#8fa9c9"/>
<circle cx="276.8" cy="354.4" r="8.3" fill="#8fa9c9"/>
<circle cx="289.6" cy="332.7" r="8.3" fill="#8fa9c9"/>
<circle cx="302.5" cy="313.1" r="8.3" fill="#8fa9c9"/>
<circle cx="315.3" cy="320.6" r="8.3" fill="#8fa9c9"/>
<circle cx="328.2" cy="288.0" r="8.3" fill="#8fa9c9"/>
<circle cx="219.1" cy="452.5" r="8.3" fill="#8fa9c9"/>
<circle cx="238.3" cy="418.1" r="8.3" fill="#8fa9c9"/>
<circle cx="257.6" cy="374.6" r="8.3" fill="#8fa9c9"/>
<circle cx="276.8" cy="370.5" r="8.3" fill="#8fa9c9"/>
<circle cx="296.1" cy="360.6" r="8.3" fill="#8fa9c9"/>
<circle cx="315.3" cy="326.8" r="8.3" fill="#8fa9c9"/>
<circle cx="334.6" cy="319.4" r="8.3" fill="#8fa9c9"/>
<circle cx="353.8" cy="303.3" r="8.3" fill="#8fa9c9"/>
<circle cx="373.1" cy="288.1" r="8.3" fill="#8fa9c9"/>
<circle cx="392.3" cy="274.9" r="8.3" fill="#8fa9c9"/>
<circle cx="225.5" cy="455.7" r="8.3" fill="#8fa9c9"/>
<circle cx="251.1" cy="410.2" r="8.3" fill="#8fa9c9"/>
<circle cx="276.8" cy="353.1" r="8.3" fill="#8fa9c9"/>
<circle cx="302.5" cy="340.8" r="8.3" fill="#8fa9c9"/>
<circle cx="328.2" cy="280.3" r="8.3" fill="#8fa9c9"/>
<circle cx="353.8" cy="300.9" r="8.3" fill="#8fa9c9"/>
<circle cx="379.5" cy="283.8" r="8.3" fill="#8fa9c9"/>
<circle cx="405.2" cy="261.9" r="8.3" fill="#8fa9c9"/>
<circle cx="430.8" cy="265.5" r="8.3" fill="#8fa9c9"/>
<circle cx="456.5" cy="266.7" r="8.3" fill="#8fa9c9"/>
<circle cx="231.9" cy="400.4" r="8.3" fill="#8fa9c9"/>
<circle cx="264.0" cy="385.1" r="8.3" fill="#8fa9c9"/>
<circle cx="296.1" cy="345.5" r="8.3" fill="#8fa9c9"/>
<circle cx="328.2" cy="296.4" r="8.3" fill="#8fa9c9"/>
<circle cx="360.2" cy="269.7" r="8.3" fill="#8fa9c9"/>
<circle cx="392.3" cy="275.1" r="8.3" fill="#8fa9c9"/>
<circle cx="424.4" cy="250.9" r="8.3" fill="#8fa9c9"/>
<circle cx="456.5" cy="263.5" r="8.3" fill="#8fa9c9"/>
<circle cx="488.6" cy="241.5" r="8.3" fill="#8fa9c9"/>
<circle cx="520.7" cy="217.4" r="8.3" fill="#8fa9c9"/>
<circle cx="238.3" cy="428.1" r="8.3" fill="#8fa9c9"/>
<circle cx="276.8" cy="384.5" r="8.3" fill="#8fa9c9"/>
<circle cx="315.3" cy="322.4" r="8.3" fill="#8fa9c9"/>
<circle cx="353.8" cy="293.9" r="8.3" fill="#8fa9c9"/>
<circle cx="392.3" cy="283.7" r="8.3" fill="#8fa9c9"/>
<circle cx="430.8" cy="263.4" r="8.3" fill="#8fa9c9"/>
<circle cx="469.3" cy="241.7" r="8.3" fill="#8fa9c9"/>
<circle cx="507.9" cy="220.4" r="8.3" fill="#8fa9c9"/>
<circle cx="546.4" cy="227.6" r="8.3" fill="#8fa9c9"/>
<circle cx="584.9" cy="226.1" r="8.3" fill="#8fa9c9"/>
<circle cx="244.7" cy="418.5" r="8.3" fill="#8fa9c9"/>
<circle cx="289.6" cy="381.8" r="8.3" fill="#8fa9c9"/>
<circle cx="334.6" cy="321.2" r="8.3" fill="#8fa9c9"/>
<circle cx="379.5" cy="271.3" r="8.3" fill="#8fa9c9"/>
<circle cx="424.4" cy="255.9" r="8.3" fill="#8fa9c9"/>
<circle cx="469.3" cy="251.5" r="8.3" fill="#8fa9c9"/>
<circle cx="514.3" cy="246.8" r="8.3" fill="#8fa9c9"/>
<circle cx="559.2" cy="222.7" r="8.3" fill="#8fa9c9"/>
<circle cx="604.1" cy="191.9" r="8.3" fill="#8fa9c9"/>
<circle cx="225.5" cy="381.7" r="8.3" fill="#8fa9c9"/>
<circle cx="276.8" cy="417.0" r="8.3" fill="#8fa9c9"/>
<circle cx="244.7" cy="324.4" r="8.3" fill="#8fa9c9"/>
<circle cx="488.6" cy="222.3" r="8.3" fill="#8fa9c9"/>
<circle cx="507.9" cy="222.3" r="8.3" fill="#8fa9c9"/>
<circle cx="546.4" cy="198.2" r="8.3" fill="#8fa9c9"/>
<circle cx="559.2" cy="201.9" r="8.3" fill="#8fa9c9"/>
<circle cx="520.7" cy="202.0" r="8.3" fill="#8fa9c9"/>
<circle cx="212.6" cy="453.0" r="8.3" fill="#8fa9c9"/>
<circle cx="212.6" cy="505.9" r="8.3" fill="#6e77ab"/>
<circle cx="225.5" cy="446.0" r="8.3" fill="#6e77ab"/>
<circle cx="238.3" cy="442.8" r="8.3" fill="#6e77ab"/>
<circle cx="251.1" cy="407.6" r="8.3" fill="#6e77ab"/>
<circle cx="264.0" cy="390.3" r="8.3" fill="#6e77ab"/>
<circle cx="276.8" cy="377.8" r="8.3" fill="#6e77ab"/>
<circle cx="289.6" cy="316.9" r="8.3" fill="#6e77ab"/>
<circle cx="302.5" cy="359.6" r="8.3" fill="#6e77ab"/>
<circle cx="315.3" cy="346.6" r="8.3" fill="#6e77ab"/>
<circle cx="328.2" cy="294.2" r="8.3" fill="#6e77ab"/>
<circle cx="219.1" cy="479.5" r="8.3" fill="#6e77ab"/>
<circle cx="238.3" cy="384.4" r="8.3" fill="#6e77ab"/>
<circle cx="257.6" cy="362.3" r="8.3" fill="#6e77ab"/>
<circle cx="276.8" cy="347.9" r="8.3" fill="#6e77ab"/>
<circle cx="296.1" cy="352.9" r="8.3" fill="#6e77ab"/>
<circle cx="315.3" cy="344.9" r="8.3" fill="#6e77ab"/>
<circle cx="334.6" cy="339.9" r="8.3" fill="#6e77ab"/>
<circle cx="353.8" cy="279.5" r="8.3" fill="#6e77ab"/>
<circle cx="373.1" cy="287.6" r="8.3" fill="#6e77ab"/>
<circle cx="392.3" cy="282.6" r="8.3" fill="#6e77ab"/>
<circle cx="225.5" cy="456.6" r="8.3" fill="#6e77ab"/>
<circle cx="251.1" cy="385.3" r="8.3" fill="#6e77ab"/>
<circle cx="276.8" cy="353.5" r="8.3" fill="#6e77ab"/>
<circle cx="302.5" cy="322.7" r="8.3" fill="#6e77ab"/>
<circle cx="328.2" cy="332.9" r="8.3" fill="#6e77ab"/>
<circle cx="353.8" cy="293.0" r="8.3" fill="#6e77ab"/>
<circle cx="379.5" cy="274.6" r="8.3" fill="#6e77ab"/>
<circle cx="405.2" cy="271.6" r="8.3" fill="#6e77ab"/>
<circle cx="430.8" cy="258.2" r="8.3" fill="#6e77ab"/>
<circle cx="456.5" cy="263.4" r="8.3" fill="#6e77ab"/>
<circle cx="231.9" cy="418.9" r="8.3" fill="#6e77ab"/>
<circle cx="264.0" cy="370.2" r="8.3" fill="#6e77ab"/>
<circle cx="296.1" cy="341.8" r="8.3" fill="#6e77ab"/>
<circle cx="328.2" cy="274.7" r="8.3" fill="#6e77ab"/>
<circle cx="360.2" cy="295.4" r="8.3" fill="#6e77ab"/>
<circle cx="392.3" cy="264.5" r="8.3" fill="#6e77ab"/>
<circle cx="424.4" cy="251.8" r="8.3" fill="#6e77ab"/>
<circle cx="456.5" cy="249.7" r="8.3" fill="#6e77ab"/>
<circle cx="488.6" cy="233.5" r="8.3" fill="#6e77ab"/>
<circle cx="520.7" cy="243.9" r="8.3" fill="#6e77ab"/>
<circle cx="238.3" cy="410.4" r="8.3" fill="#6e77ab"/>
<circle cx="276.8" cy="379.2" r="8.3" fill="#6e77ab"/>
<circle cx="315.3" cy="333.4" r="8.3" fill="#6e77ab"/>
<circle cx="353.8" cy="312.2" r="8.3" fill="#6e77ab"/>
<circle cx="392.3" cy="281.9" r="8.3" fill="#6e77ab"/>
<circle cx="430.8" cy="280.5" r="8.3" fill="#6e77ab"/>
<circle cx="469.3" cy="252.2" r="8.3" fill="#6e77ab"/>
<circle cx="507.9" cy="227.7" r="8.3" fill="#6e77ab"/>
<circle cx="546.4" cy="221.2" r="8.3" fill="#6e77ab"/>
<circle cx="584.9" cy="215.1" r="8.3" fill="#6e77ab"/>
<circle cx="244.7" cy="394.9" r="8.3" fill="#6e77ab"/>
<circle cx="289.6" cy="314.5" r="8.3" fill="#6e77ab"/>
<circle cx="334.6" cy="302.9" r="8.3" fill="#6e77ab"/>
<circle cx="379.5" cy="281.6" r="8.3" fill="#6e77ab"/>
<circle cx="424.4" cy="255.3" r="8.3" fill="#6e77ab"/>
<circle cx="469.3" cy="240.0" r="8.3" fill="#6e77ab"/>
<circle cx="514.3" cy="246.5" r="8.3" fill="#6e77ab"/>
<circle cx="559.2" cy="228.7" r="8.3" fill="#6e77ab"/>
<circle cx="604.1" cy="203.4" r="8.3" fill="#6e77ab"/>
<circle cx="238.3" cy="364.5" r="8.3" fill="#6e77ab"/>
<circle cx="392.3" cy="300.4" r="8.3" fill="#6e77ab"/>
<circle cx="469.3" cy="250.4" r="8.3" fill="#6e77ab"/>
<circle cx="424.4" cy="273.0" r="8.3" fill="#6e77ab"/>
<circle cx="488.6" cy="230.6" r="8.3" fill="#6e77ab"/>
<circle cx="546.4" cy="206.0" r="8.3" fill="#6e77ab"/>
<circle cx="520.7" cy="238.5" r="8.3" fill="#6e77ab"/>
<circle cx="212.6" cy="474.0" r="8.3" fill="#6e77ab"/>
<circle cx="244.7" cy="370.2" r="8.3" fill="#483d8b"/>
<circle cx="219.1" cy="405.6" r="8.3" fill="#483d8b"/>
<circle cx="328.2" cy="373.3" r="8.3" fill="#483d8b"/>
<circle cx="231.9" cy="396.0" r="8.3" fill="#483d8b"/>
<circle cx="251.1" cy="433.8" r="8.3" fill="#483d8b"/>
<circle cx="251.1" cy="402.0" r="8.3" fill="#483d8b"/>
<circle cx="315.3" cy="304.6" r="8.3" fill="#483d8b"/>
<circle cx="289.6" cy="326.5" r="8.3" fill="#483d8b"/>
<circle cx="353.8" cy="290.0" r="8.3" fill="#483d8b"/>
<circle cx="456.5" cy="288.0" r="8.3" fill="#483d8b"/>
<circle cx="405.2" cy="263.4" r="8.3" fill="#483d8b"/>
<circle cx="360.2" cy="271.2" r="8.3" fill="#483d8b"/>
<circle cx="373.1" cy="313.0" r="8.3" fill="#483d8b"/>
<circle cx="469.3" cy="219.7" r="8.3" fill="#483d8b"/>
<circle cx="424.4" cy="227.5" r="8.3" fill="#483d8b"/>
<circle cx="514.3" cy="193.0" r="8.3" fill="#483d8b"/>
<circle cx="456.5" cy="227.5" r="8.3" fill="#483d8b"/>
<circle cx="430.8" cy="212.0" r="8.3" fill="#483d8b"/>
<circle cx="392.3" cy="239.0" r="8.3" fill="#483d8b"/>
<circle cx="604.1" cy="188.3" r="8.3" fill="#483d8b"/>
<circle cx="649.0" cy="196.5" r="8.3" fill="#483d8b"/>
<circle cx="559.2" cy="174.8" r="8.3" fill="#483d8b"/>
<circle cx="584.9" cy="225.0" r="8.3" fill="#483d8b"/>
<circle cx="520.7" cy="254.0" r="8.3" fill="#483d8b"/>
<circle cx="276.8" cy="390.8" r="8.3" fill="#483d8b"/>
<circle cx="289.6" cy="376.7" r="8.3" fill="#483d8b"/>
<circle cx="264.0" cy="383.0" r="8.3" fill="#483d8b"/>
<circle cx="212.6" cy="521.0" r="8.3" fill="#ffd700"/>
<circle cx="219.1" cy="500.4" r="8.3" fill="#ffd700"/>
<circle cx="225.5" cy="486.9" r="8.3" fill="#ffd700"/>
<circle cx="231.9" cy="474.4" r="8.3" fill="#ffd700"/>
<circle cx="238.3" cy="462.4" r="8.3" fill="#ffd700"/>
<circle cx="244.7" cy="448.9" r="8.3" fill="#ffd700"/>
<circle cx="302.5" cy="383.8" r="8.3" fill="#ffd700"/>
<circle cx="315.3" cy="379.0" r="8.3" fill="#ffd700"/>
<circle cx="328.2" cy="383.2" r="8.3" fill="#ffd700"/>
<circle cx="225.5" cy="412.9" r="8.3" fill="#ffd700"/>
<circle cx="257.6" cy="371.0" r="8.3" fill="#ffd700"/>
<circle cx="334.6" cy="243.5" r="8.3" fill="#ffd700"/>
<circle cx="353.8" cy="241.0" r="8.3" fill="#ffd700"/>
<circle cx="315.3" cy="267.6" r="8.3" fill="#ffd700"/>
<circle cx="302.5" cy="290.0" r="8.3" fill="#ffd700"/>
<circle cx="296.1" cy="297.3" r="8.3" fill="#ffd700"/>
<circle cx="315.3" cy="312.9" r="8.3" fill="#ffd700"/>
<circle cx="328.2" cy="269.0" r="8.3" fill="#ffd700"/>
<circle cx="360.2" cy="249.4" r="8.3" fill="#ffd700"/>
<circle cx="488.6" cy="264.5" r="8.3" fill="#ffd700"/>
<circle cx="456.5" cy="276.0" r="8.3" fill="#ffd700"/>
<circle cx="456.5" cy="301.5" r="8.3" fill="#ffd700"/>
<circle cx="405.2" cy="306.7" r="8.3" fill="#ffd700"/>
<circle cx="379.5" cy="313.4" r="8.3" fill="#ffd700"/>
<circle cx="392.3" cy="334.0" r="8.3" fill="#ffd700"/>
<circle cx="373.1" cy="330.4" r="8.3" fill="#ffd700"/>
<circle cx="424.4" cy="285.8" r="8.3" fill="#ffd700"/>
<circle cx="469.3" cy="257.7" r="8.3" fill="#ffd700"/>
<circle cx="430.8" cy="300.0" r="8.3" fill="#ffd700"/>
<circle cx="360.2" cy="335.0" r="8.3" fill="#ffd700"/>
<circle cx="424.4" cy="186.9" r="8.3" fill="#ffd700"/>
<circle cx="469.3" cy="191.0" r="8.3" fill="#ffd700"/>
<circle cx="379.5" cy="209.8" r="8.3" fill="#ffd700"/>
<circle cx="392.3" cy="216.6" r="8.3" fill="#ffd700"/>
<circle cx="430.8" cy="219.7" r="8.3" fill="#ffd700"/>
<circle cx="649.0" cy="208.8" r="8.3" fill="#ffd700"/>
<circle cx="559.2" cy="214.4" r="8.3" fill="#ffd700"/>
<circle cx="604.1" cy="196.7" r="8.3" fill="#ffd700"/>
<circle cx="520.7" cy="267.2" r="8.3" fill="#ffd700"/>
<circle cx="546.4" cy="232.8" r="8.3" fill="#ffd700"/>
<circle cx="584.9" cy="237.0" r="8.3" fill="#ffd700"/>
<circle cx="520.7" cy="237.5" r="8.3" fill="#ffd700"/>
<circle cx="353.8" cy="335.4" r="8.3" fill="#ffd700"/>
<circle cx="289.6" cy="372.0" r="8.3" fill="#ffd700"/>
<circle cx="238.3" cy="430.0" r="8.3" fill="#ffd700"/>
<circle cx="212.6" cy="435.3" r="8.3" fill="#228b22"/>
<circle cx="219.1" cy="450.4" r="8.3" fill="#228b22"/>
<circle cx="244.7" cy="432.7" r="8.3" fill="#228b22"/>
<circle cx="251.1" cy="419.2" r="8.3" fill="#228b22"/>
<circle cx="264.0" cy="412.9" r="8.3" fill="#228b22"/>
<circle cx="276.8" cy="353.5" r="8.3" fill="#228b22"/>
<circle cx="257.6" cy="359.3" r="8.3" fill="#228b22"/>
<circle cx="289.6" cy="366.0" r="8.3" fill="#228b22"/>
<circle cx="276.8" cy="379.6" r="8.3" fill="#228b22"/>
<circle cx="276.8" cy="370.2" r="8.3" fill="#228b22"/>
<circle cx="334.6" cy="259.3" r="8.3" fill="#228b22"/>
<circle cx="315.3" cy="277.5" r="8.3" fill="#228b22"/>
<circle cx="328.2" cy="312.9" r="8.3" fill="#228b22"/>
<circle cx="328.2" cy="322.3" r="8.3" fill="#228b22"/>
<circle cx="315.3" cy="333.8" r="8.3" fill="#228b22"/>
<circle cx="315.3" cy="322.3" r="8.3" fill="#228b22"/>
<circle cx="289.6" cy="333.8" r="8.3" fill="#228b22"/>
<circle cx="334.6" cy="311.9" r="8.3" fill="#228b22"/>
<circle cx="353.8" cy="313.0" r="8.3" fill="#228b22"/>
<circle cx="353.8" cy="318.0" r="8.3" fill="#228b22"/>
<circle cx="392.3" cy="254.6" r="8.3" fill="#228b22"/>
<circle cx="392.3" cy="266.6" r="8.3" fill="#228b22"/>
<circle cx="424.4" cy="241.0" r="8.3" fill="#228b22"/>
<circle cx="430.8" cy="275.4" r="8.3" fill="#228b22"/>
<circle cx="405.2" cy="294.2" r="8.3" fill="#228b22"/>
<circle cx="373.1" cy="299.4" r="8.3" fill="#228b22"/>
<circle cx="379.5" cy="291.0" r="8.3" fill="#228b22"/>
<circle cx="488.6" cy="245.2" r="8.3" fill="#228b22"/>
<circle cx="469.3" cy="243.0" r="8.3" fill="#228b22"/>
<circle cx="424.4" cy="253.5" r="8.3" fill="#228b22"/>
<circle cx="469.3" cy="230.6" r="8.3" fill="#228b22"/>
<circle cx="469.3" cy="238.0" r="8.3" fill="#228b22"/>
<circle cx="514.3" cy="218.0" r="8.3" fill="#228b22"/>
<circle cx="649.0" cy="168.5" r="8.3" fill="#228b22"/>
<circle cx="584.9" cy="189.4" r="8.3" fill="#228b22"/>
<circle cx="604.1" cy="205.0" r="8.3" fill="#228b22"/>
<circle cx="546.4" cy="218.5" r="8.3" fill="#228b22"/>
<circle cx="559.2" cy="226.3" r="8.3" fill="#228b22"/>
<circle cx="520.7" cy="218.5" r="8.3" fill="#228b22"/>
<circle cx="302.5" cy="342.0" r="8.3" fill="#228b22"/>
<circle cx="231.9" cy="452.0" r="8.3" fill="#228b22"/>
<circle cx="225.5" cy="462.0" r="8.3" fill="#228b22"/>
<circle cx="238.3" cy="440.0" r="8.3" fill="#228b22"/>
<circle cx="296.1" cy="330.0" r="8.3" fill="#228b22"/>
<circle cx="360.2" cy="296.0" r="8.3" fill="#228b22"/>
<circle cx="507.9" cy="226.0" r="8.3" fill="#228b22"/>
<circle cx="212.6" cy="500.9" r="8.3" fill="#ff00ff"/>
<circle cx="219.1" cy="465.5" r="8.3" fill="#ff00ff"/>
<circle cx="225.5" cy="423.3" r="8.3" fill="#ff00ff"/>
<circle cx="225.5" cy="441.0" r="8.3" fill="#ff00ff"/>
<circle cx="231.9" cy="435.8" r="8.3" fill="#ff00ff"/>
<circle cx="238.3" cy="381.1" r="8.3" fill="#ff00ff"/>
<circle cx="238.3" cy="395.2" r="8.3" fill="#ff00ff"/>
<circle cx="238.3" cy="423.3" r="8.3" fill="#ff00ff"/>
<circle cx="244.7" cy="408.2" r="8.3" fill="#ff00ff"/>
<circle cx="251.1" cy="387.4" r="8.3" fill="#ff00ff"/>
<circle cx="257.6" cy="345.7" r="8.3" fill="#ff00ff"/>
<circle cx="251.1" cy="353.5" r="8.3" fill="#ff00ff"/>
<circle cx="264.0" cy="396.3" r="8.3" fill="#ff00ff"/>
<circle cx="264.0" cy="332.7" r="8.3" fill="#ff00ff"/>
<circle cx="276.8" cy="341.0" r="8.3" fill="#ff00ff"/>
<circle cx="276.8" cy="403.5" r="8.3" fill="#ff00ff"/>
<circle cx="276.8" cy="306.7" r="8.3" fill="#ff00ff"/>
<circle cx="276.8" cy="323.3" r="8.3" fill="#ff00ff"/>
<circle cx="289.6" cy="393.1" r="8.3" fill="#ff00ff"/>
<circle cx="289.6" cy="286.4" r="8.3" fill="#ff00ff"/>
<circle cx="296.1" cy="347.8" r="8.3" fill="#ff00ff"/>
<circle cx="296.1" cy="311.4" r="8.3" fill="#ff00ff"/>
<circle cx="302.5" cy="365.0" r="8.3" fill="#ff00ff"/>
<circle cx="302.5" cy="319.2" r="8.3" fill="#ff00ff"/>
<circle cx="315.3" cy="348.9" r="8.3" fill="#ff00ff"/>
<circle cx="315.3" cy="359.8" r="8.3" fill="#ff00ff"/>
<circle cx="315.3" cy="293.1" r="8.3" fill="#ff00ff"/>
<circle cx="328.2" cy="357.2" r="8.3" fill="#ff00ff"/>
<circle cx="328.2" cy="298.9" r="8.3" fill="#ff00ff"/>
<circle cx="328.2" cy="333.2" r="8.3" fill="#ff00ff"/>
<circle cx="334.6" cy="346.3" r="8.3" fill="#ff00ff"/>
<circle cx="334.6" cy="277.0" r="8.3" fill="#ff00ff"/>
<circle cx="353.8" cy="345.0" r="8.3" fill="#ff00ff"/>
<circle cx="353.8" cy="277.5" r="8.3" fill="#ff00ff"/>
<circle cx="353.8" cy="302.5" r="8.3" fill="#ff00ff"/>
<circle cx="360.2" cy="306.7" r="8.3" fill="#ff00ff"/>
<circle cx="373.1" cy="282.7" r="8.3" fill="#ff00ff"/>
<circle cx="379.5" cy="264.5" r="8.3" fill="#ff00ff"/>
<circle cx="379.5" cy="326.5" r="8.3" fill="#ff00ff"/>
<circle cx="392.3" cy="279.6" r="8.3" fill="#ff00ff"/>
<circle cx="392.3" cy="287.9" r="8.3" fill="#ff00ff"/>
<circle cx="392.3" cy="318.6" r="8.3" fill="#ff00ff"/>
<circle cx="405.2" cy="278.5" r="8.3" fill="#ff00ff"/>
<circle cx="424.4" cy="264.0" r="8.3" fill="#ff00ff"/>
<circle cx="424.4" cy="297.3" r="8.3" fill="#ff00ff"/>
<circle cx="430.8" cy="253.5" r="8.3" fill="#ff00ff"/>
<circle cx="430.8" cy="291.0" r="8.3" fill="#ff00ff"/>
<circle cx="456.5" cy="258.8" r="8.3" fill="#ff00ff"/>
<circle cx="456.5" cy="239.0" r="8.3" fill="#ff00ff"/>
<circle cx="469.3" cy="267.1" r="8.3" fill="#ff00ff"/>
<circle cx="469.3" cy="278.0" r="8.3" fill="#ff00ff"/>
<circle cx="488.6" cy="210.3" r="8.3" fill="#ff00ff"/>
<circle cx="507.9" cy="206.1" r="8.3" fill="#ff00ff"/>
<circle cx="514.3" cy="249.4" r="8.3" fill="#ff00ff"/>
<circle cx="520.7" cy="209.2" r="8.3" fill="#ff00ff"/>
<circle cx="546.4" cy="181.0" r="8.3" fill="#ff00ff"/>
<circle cx="559.2" cy="184.7" r="8.3" fill="#ff00ff"/>
<circle cx="584.9" cy="179.5" r="8.3" fill="#ff00ff"/>
<circle cx="604.1" cy="157.1" r="8.3" fill="#ff00ff"/>
<circle cx="649.0" cy="155.3" r="8.3" fill="#ff00ff"/>
</g>
<path d="M206.22,565.74 L218.47,474.21 L230.72,430.97 L242.97,402.36 L255.23,380.95 L267.48,363.83 L279.73,349.57 L291.98,337.35 L304.24,326.65 L316.49,317.14 L328.74,308.58 L340.99,300.80 L353.24,293.67 L365.50,287.09 L377.75,280.97 L390.00,275.27 L402.25,269.91 L414.50,264.88 L426.76,260.12 L439.01,255.62 L451.26,251.33 L463.51,247.26 L475.77,243.36 L488.02,239.64 L500.27,236.07 L512.52,232.65 L524.77,229.35 L537.03,226.18 L549.28,223.12 L561.53,220.17 L573.78,217.31 L586.03,214.55 L598.29,211.87 L610.54,209.28 L622.79,206.76 L635.04,204.31 L647.30,201.93 L659.55,199.62 L671.80,197.36 L684.05,195.17 L696.30,193.02 L708.56,190.94 L720.81,188.90 L733.06,186.90 L745.31,184.96 L757.57,183.05 L769.82,181.19 L782.07,179.37 L794.32,177.58 L806.57,175.83 L818.83,174.12 L831.08,172.44 L843.33,170.79 L855.58,169.18 L867.83,167.59 L880.09,166.03 L892.34,164.50 L904.59,163.00 L916.84,161.52 L929.10,160.07 L941.35,158.64 L953.60,157.24 L965.85,155.86 L978.10,154.50 L990.36,153.16 L1002.61,151.84 L1014.86,150.54 L1027.11,149.26 L1039.36,148.00 L1051.62,146.76 L1063.87,145.54 L1076.12,144.33 L1088.37,143.14 L1100.63,141.97 L1112.88,140.81 L1125.13,139.67 L1137.38,138.54 L1149.63,137.42 L1161.89,136.33 L1174.14,135.24 L1186.39,134.17 L1198.64,133.11 L1210.90,132.07 L1223.15,131.04 L1235.40,130.02 L1247.65,129.01 L1259.90,128.01 L1272.16,127.03 L1284.41,126.05 L1296.66,125.09 L1308.91,124.14 L1321.16,123.20 L1333.42,122.26 L1345.67,121.34 L1357.92,120.43 L1370.17,119.53 L1382.43,118.64 L1394.68,117.75 L1406.93,116.88 L1419.18,116.01" fill="none" stroke="#000" stroke-width="4.3" stroke-linecap="square" stroke-linejoin="round"/>
<g stroke="#000" stroke-width="2.7" fill="none" stroke-linecap="square">
<path d="M145.7,69.3 V604 H1480"/>
</g>
<g stroke="#000" stroke-width="2.7" fill="none">
<path d="M136,544.6 H145.7"/>
<path d="M136,425.8 H145.7"/>
<path d="M136,306.9 H145.7"/>
<path d="M136,188.1 H145.7"/>
<path d="M136,69.3 H145.7"/>
<path d="M199.8,604 V613.8"/>
<path d="M360.2,604 V613.8"/>
<path d="M520.7,604 V613.8"/>
<path d="M681.1,604 V613.8"/>
<path d="M841.6,604 V613.8"/>
<path d="M1002.0,604 V613.8"/>
<path d="M1162.5,604 V613.8"/>
<path d="M1322.9,604 V613.8"/>
</g>
<g font-family="'DejaVu Sans', 'Liberation Sans', sans-serif" font-size="33.9" fill="#000" stroke="#000" stroke-width="0.45">
<text x="126.6" y="557.3" text-anchor="end">8</text>
<text x="126.6" y="438.5" text-anchor="end">10</text>
<text x="126.6" y="319.6" text-anchor="end">12</text>
<text x="126.6" y="200.8" text-anchor="end">14</text>
<text x="126.6" y="82.0" text-anchor="end">16</text>
<text x="199.8" y="650.0" text-anchor="middle">0</text>
<text x="360.2" y="650.0" text-anchor="middle">5000</text>
<text x="520.7" y="650.0" text-anchor="middle">10000</text>
<text x="681.1" y="650.0" text-anchor="middle">15000</text>
<text x="841.6" y="650.0" text-anchor="middle">20000</text>
<text x="1002.0" y="650.0" text-anchor="middle">25000</text>
<text x="1162.5" y="650.0" text-anchor="middle">30000</text>
<text x="1322.9" y="650.0" text-anchor="middle">35000</text>
<text x="813.4" y="693.6" text-anchor="middle" textLength="1209" lengthAdjust="spacingAndGlyphs">Total scan duration (# training participants x scan time per participant)</text>
<text transform="translate(65.4,337.2) rotate(-90)" text-anchor="middle" textLength="510.5" lengthAdjust="spacingAndGlyphs">Norm. prediction performance</text>
</g>
<text x="731.1" y="29" text-anchor="middle" font-family="'Liberation Sans', Arial, sans-serif" font-size="39.2" textLength="845" lengthAdjust="spacingAndGlyphs" fill="#000" stroke="#000" stroke-width="0.4">Fit of logarithmic relationship across phenotypes</text>
<g font-family="'DejaVu Sans', 'Liberation Sans', sans-serif" font-size="25.45" fill="#000" stroke="#000" stroke-width="0.35">
<circle cx="9.05" cy="784.0" r="7.8" fill="#fee0be" stroke="none"/>
<text x="34.8" y="791.1">Vocab (A)</text>
<circle cx="9.05" cy="821.2" r="7.8" fill="#fed4af" stroke="none"/>
<text x="34.8" y="828.3">Working Mem</text>
<circle cx="9.05" cy="858.4" r="7.8" fill="#fec7a0" stroke="none"/>
<text x="34.8" y="865.5">Exec Func</text>
<circle cx="9.05" cy="895.6" r="7.8" fill="#feba91" stroke="none"/>
<text x="34.8" y="902.7">Ep Mem</text>
<circle cx="9.05" cy="932.8" r="7.8" fill="#feae82" stroke="none"/>
<text x="34.8" y="939.9">Reading (A)</text>
<circle cx="9.05" cy="970.0" r="7.8" fill="#fea273" stroke="none"/>
<text x="34.8" y="977.1">Fluid Cog</text>
<circle cx="246.2" cy="784.0" r="7.8" fill="#fe9564" stroke="none"/>
<text x="271.6" y="791.1">Cryst Cog</text>
<circle cx="246.2" cy="821.2" r="7.8" fill="#fd8855" stroke="none"/>
<text x="271.6" y="828.3">Overall Cog</text>
<circle cx="246.2" cy="858.4" r="7.8" fill="#fd7c46" stroke="none"/>
<text x="271.6" y="865.5">Short Delay Recall</text>
<circle cx="246.2" cy="895.6" r="7.8" fill="#fd7037" stroke="none"/>
<text x="271.6" y="902.7">Long Delay Recall</text>
<circle cx="246.2" cy="932.8" r="7.8" fill="#fd6328" stroke="none"/>
<text x="271.6" y="939.9">Fluid Int (A)</text>
<circle cx="246.2" cy="970.0" r="7.8" fill="#fd5619" stroke="none"/>
<text x="271.6" y="977.1">Vs Accuracy</text>
<circle cx="541.7" cy="784.0" r="7.8" fill="#fd4a0a" stroke="none"/>
<text x="567.3" y="791.1">ABCD Cog. Factor</text>
<circle cx="541.7" cy="821.2" r="7.8" fill="#fee0be" stroke="none"/>
<text x="567.3" y="828.3">Cog Flex</text>
<circle cx="541.7" cy="858.4" r="7.8" fill="#fed4af" stroke="none"/>
<text x="567.3" y="865.5">Inhibition</text>
<circle cx="541.7" cy="895.6" r="7.8" fill="#fec7a0" stroke="none"/>
<text x="567.3" y="902.7">Fluid Int (H)</text>
<circle cx="541.7" cy="932.8" r="7.8" fill="#feba91" stroke="none"/>
<text x="567.3" y="939.9">Reading (H)</text>
<circle cx="541.7" cy="970.0" r="7.8" fill="#feae82" stroke="none"/>
<text x="567.3" y="977.1">Vocab (H)</text>
<circle cx="827.3" cy="784.0" r="7.8" fill="#fea273" stroke="none"/>
<text x="853.2" y="791.1">Proc Spd</text>
<circle cx="827.3" cy="821.2" r="7.8" fill="#fe9564" stroke="none"/>
<text x="853.2" y="828.3">Spatial Orient</text>
<circle cx="827.3" cy="858.4" r="7.8" fill="#fd8855" stroke="none"/>
<text x="853.2" y="865.5">SusAttn (Spec)</text>
<circle cx="827.3" cy="895.6" r="7.8" fill="#fd7c46" stroke="none"/>
<text x="853.2" y="902.7">Comprehension</text>
<circle cx="827.3" cy="932.8" r="7.8" fill="#fd7037" stroke="none"/>
<text x="853.2" y="939.9">Rel Proc</text>
<circle cx="827.3" cy="970.0" r="7.8" fill="#fd6328" stroke="none"/>
<text x="853.2" y="977.1">N-back</text>
<circle cx="1090.0" cy="784.0" r="7.8" fill="#fd5619" stroke="none"/>
<text x="1115.4" y="791.1">Cog Factor (H)</text>
<circle cx="1090.0" cy="821.2" r="7.8" fill="#d5d5d5" stroke="none"/>
<text x="1115.4" y="828.3">Attn Prob</text>
<circle cx="1090.0" cy="858.4" r="7.8" fill="#c6c6c6" stroke="none"/>
<text x="1115.4" y="865.5">Mania</text>
<circle cx="1090.0" cy="895.6" r="7.8" fill="#b6b6b6" stroke="none"/>
<text x="1115.4" y="902.7">Rule-breaking</text>
<circle cx="1090.0" cy="932.8" r="7.8" fill="#a9a9a9" stroke="none"/>
<text x="1115.4" y="939.9">Social Prob</text>
<circle cx="1090.0" cy="970.0" r="7.8" fill="#aadde6" stroke="none"/>
<text x="1115.4" y="977.1">Delay Disc</text>
<circle cx="1335.2" cy="784.0" r="7.8" fill="#8fa9c9" stroke="none"/>
<text x="1360.6" y="791.1">Openness</text>
<circle cx="1335.2" cy="821.2" r="7.8" fill="#6e77ab" stroke="none"/>
<text x="1360.6" y="828.3">Conscientious</text>
<circle cx="1335.2" cy="858.4" r="7.8" fill="#483d8b" stroke="none"/>
<text x="1360.6" y="865.5">Extraversion</text>
<circle cx="1335.2" cy="895.6" r="7.8" fill="#ffd700" stroke="none"/>
<text x="1360.6" y="902.7">PSQI</text>
<circle cx="1335.2" cy="932.8" r="7.8" fill="#228b22" stroke="none"/>
<text x="1360.6" y="939.9">Emo Match</text>
<circle cx="1335.2" cy="970.0" r="7.8" fill="#ff00ff" stroke="none"/>
<text x="1360.6" y="977.1">Life Satis</text>
</g>
</svg>
</body></html>
